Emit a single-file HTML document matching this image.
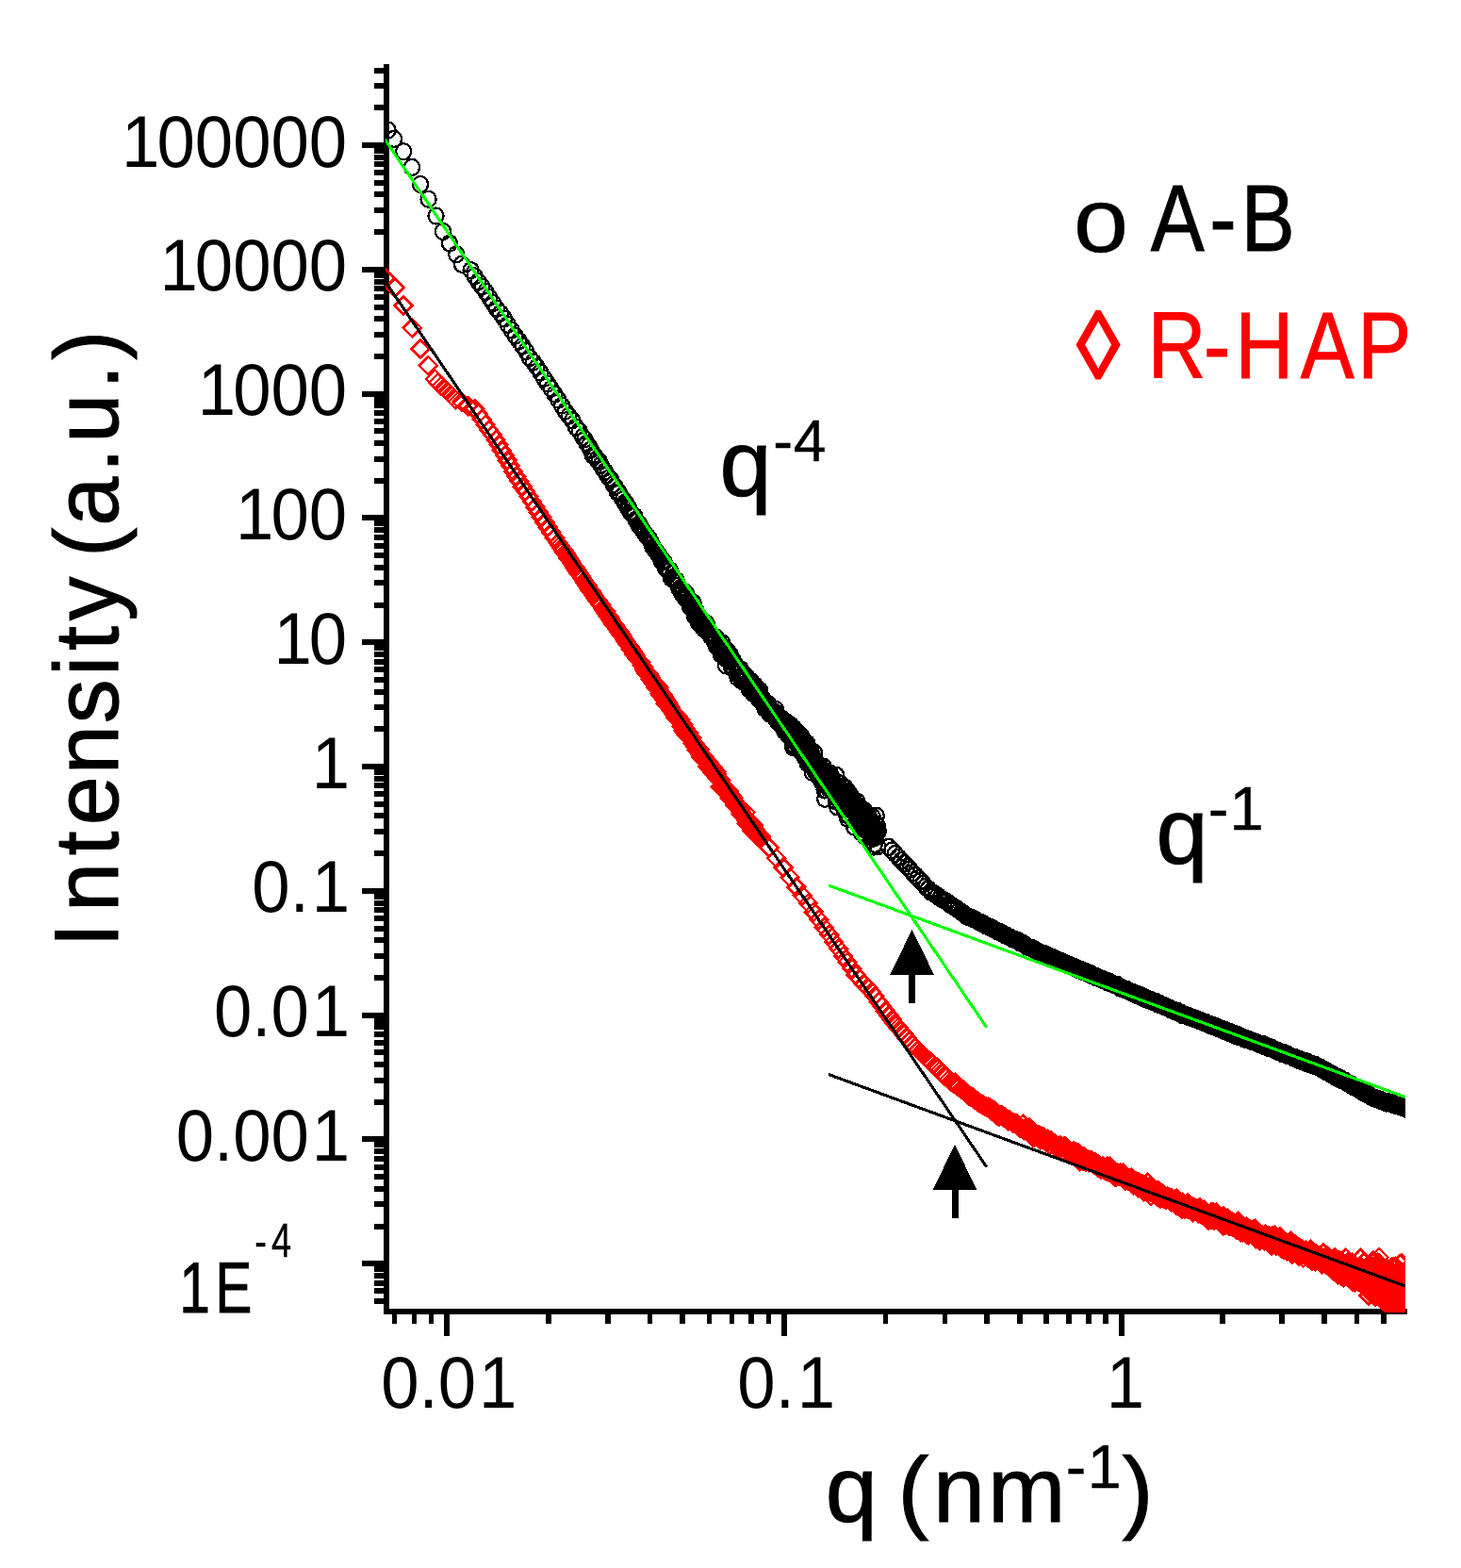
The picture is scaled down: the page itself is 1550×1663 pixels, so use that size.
<!DOCTYPE html>
<html><head><meta charset="utf-8"><title>SAXS plot</title>
<style>
html,body{margin:0;padding:0;background:#fff;}
body{width:1550px;height:1663px;overflow:hidden;}
svg{display:block;}
text{font-family:"Liberation Sans",sans-serif;}
</style></head><body>
<svg width="1550" height="1663" viewBox="0 0 1550 1663">
<rect width="1550" height="1663" fill="#fff"/>
<g fill="#000" shape-rendering="crispEdges"><rect x="407.0" y="68.0" width="6" height="1326.0"/><rect x="407.0" y="1388.0" width="1086.0" height="6"/><rect x="384" y="151" width="26" height="6"/><rect x="384" y="282.8" width="26" height="6"/><rect x="384" y="414.6" width="26" height="6"/><rect x="384" y="546.4" width="26" height="6"/><rect x="384" y="678.2" width="26" height="6"/><rect x="384" y="810" width="26" height="6"/><rect x="384" y="941.8" width="26" height="6"/><rect x="384" y="1073.6" width="26" height="6"/><rect x="384" y="1205.4" width="26" height="6"/><rect x="384" y="1337.2" width="26" height="6"/><rect x="397" y="111.3" width="13" height="6"/><rect x="397" y="88.1" width="13" height="6"/><rect x="397" y="71.6" width="13" height="6"/><rect x="397" y="243.1" width="13" height="6"/><rect x="397" y="219.9" width="13" height="6"/><rect x="397" y="203.4" width="13" height="6"/><rect x="397" y="190.7" width="13" height="6"/><rect x="397" y="180.2" width="13" height="6"/><rect x="397" y="171.4" width="13" height="6"/><rect x="397" y="163.8" width="13" height="6"/><rect x="397" y="157" width="13" height="6"/><rect x="397" y="374.9" width="13" height="6"/><rect x="397" y="351.7" width="13" height="6"/><rect x="397" y="335.2" width="13" height="6"/><rect x="397" y="322.5" width="13" height="6"/><rect x="397" y="312" width="13" height="6"/><rect x="397" y="303.2" width="13" height="6"/><rect x="397" y="295.6" width="13" height="6"/><rect x="397" y="288.8" width="13" height="6"/><rect x="397" y="506.7" width="13" height="6"/><rect x="397" y="483.5" width="13" height="6"/><rect x="397" y="467" width="13" height="6"/><rect x="397" y="454.3" width="13" height="6"/><rect x="397" y="443.8" width="13" height="6"/><rect x="397" y="435" width="13" height="6"/><rect x="397" y="427.4" width="13" height="6"/><rect x="397" y="420.6" width="13" height="6"/><rect x="397" y="638.5" width="13" height="6"/><rect x="397" y="615.3" width="13" height="6"/><rect x="397" y="598.8" width="13" height="6"/><rect x="397" y="586.1" width="13" height="6"/><rect x="397" y="575.6" width="13" height="6"/><rect x="397" y="566.8" width="13" height="6"/><rect x="397" y="559.2" width="13" height="6"/><rect x="397" y="552.4" width="13" height="6"/><rect x="397" y="770.3" width="13" height="6"/><rect x="397" y="747.1" width="13" height="6"/><rect x="397" y="730.6" width="13" height="6"/><rect x="397" y="717.9" width="13" height="6"/><rect x="397" y="707.4" width="13" height="6"/><rect x="397" y="698.6" width="13" height="6"/><rect x="397" y="691" width="13" height="6"/><rect x="397" y="684.2" width="13" height="6"/><rect x="397" y="902.1" width="13" height="6"/><rect x="397" y="878.9" width="13" height="6"/><rect x="397" y="862.4" width="13" height="6"/><rect x="397" y="849.7" width="13" height="6"/><rect x="397" y="839.2" width="13" height="6"/><rect x="397" y="830.4" width="13" height="6"/><rect x="397" y="822.8" width="13" height="6"/><rect x="397" y="816" width="13" height="6"/><rect x="397" y="1033.9" width="13" height="6"/><rect x="397" y="1010.7" width="13" height="6"/><rect x="397" y="994.2" width="13" height="6"/><rect x="397" y="981.5" width="13" height="6"/><rect x="397" y="971" width="13" height="6"/><rect x="397" y="962.2" width="13" height="6"/><rect x="397" y="954.6" width="13" height="6"/><rect x="397" y="947.8" width="13" height="6"/><rect x="397" y="1165.7" width="13" height="6"/><rect x="397" y="1142.5" width="13" height="6"/><rect x="397" y="1126" width="13" height="6"/><rect x="397" y="1113.3" width="13" height="6"/><rect x="397" y="1102.8" width="13" height="6"/><rect x="397" y="1094" width="13" height="6"/><rect x="397" y="1086.4" width="13" height="6"/><rect x="397" y="1079.6" width="13" height="6"/><rect x="397" y="1297.5" width="13" height="6"/><rect x="397" y="1274.3" width="13" height="6"/><rect x="397" y="1257.8" width="13" height="6"/><rect x="397" y="1245.1" width="13" height="6"/><rect x="397" y="1234.6" width="13" height="6"/><rect x="397" y="1225.8" width="13" height="6"/><rect x="397" y="1218.2" width="13" height="6"/><rect x="397" y="1211.4" width="13" height="6"/><rect x="397" y="1376.9" width="13" height="6"/><rect x="397" y="1366.4" width="13" height="6"/><rect x="397" y="1357.6" width="13" height="6"/><rect x="397" y="1350" width="13" height="6"/><rect x="397" y="1343.2" width="13" height="6"/><rect x="471" y="1391.0" width="6" height="25.7"/><rect x="828.8" y="1391.0" width="6" height="25.7"/><rect x="1186.5" y="1391.0" width="6" height="25.7"/><rect x="415.8" y="1391.0" width="5.6" height="12.8"/><rect x="436.5" y="1391.0" width="5.6" height="12.8"/><rect x="454.8" y="1391.0" width="5.6" height="12.8"/><rect x="578.9" y="1391.0" width="5.6" height="12.8"/><rect x="641.9" y="1391.0" width="5.6" height="12.8"/><rect x="686.6" y="1391.0" width="5.6" height="12.8"/><rect x="721.3" y="1391.0" width="5.6" height="12.8"/><rect x="749.6" y="1391.0" width="5.6" height="12.8"/><rect x="773.5" y="1391.0" width="5.6" height="12.8"/><rect x="794.3" y="1391.0" width="5.6" height="12.8"/><rect x="812.6" y="1391.0" width="5.6" height="12.8"/><rect x="936.6" y="1391.0" width="5.6" height="12.8"/><rect x="999.6" y="1391.0" width="5.6" height="12.8"/><rect x="1044.3" y="1391.0" width="5.6" height="12.8"/><rect x="1079" y="1391.0" width="5.6" height="12.8"/><rect x="1107.3" y="1391.0" width="5.6" height="12.8"/><rect x="1131.3" y="1391.0" width="5.6" height="12.8"/><rect x="1152" y="1391.0" width="5.6" height="12.8"/><rect x="1170.3" y="1391.0" width="5.6" height="12.8"/><rect x="1294.4" y="1391.0" width="5.6" height="12.8"/><rect x="1357.4" y="1391.0" width="5.6" height="12.8"/><rect x="1402.1" y="1391.0" width="5.6" height="12.8"/><rect x="1436.8" y="1391.0" width="5.6" height="12.8"/><rect x="1465.1" y="1391.0" width="5.6" height="12.8"/></g>
<clipPath id="cp"><rect x="408.9" y="60" width="1082.1" height="1332.0"/></clipPath>
<g clip-path="url(#cp)"><path d="M399.5 295l9.5 -9.5l9.5 9.5l-9.5 9.5zM409.6 305l9.5 -9.5l9.5 9.5l-9.5 9.5zM418.5 323.9l9.5 -9.5l9.5 9.5l-9.5 9.5zM427.7 348l9.5 -9.5l9.5 9.5l-9.5 9.5zM436.4 370l9.5 -9.5l9.5 9.5l-9.5 9.5zM444.7 388l9.5 -9.5l9.5 9.5l-9.5 9.5zM452 402.3l9.5 -9.5l9.5 9.5l-9.5 9.5zM455.1 405.9l9.5 -9.5l9.5 9.5l-9.5 9.5zM458.8 409.2l9.5 -9.5l9.5 9.5l-9.5 9.5zM462.6 412.9l9.5 -9.5l9.5 9.5l-9.5 9.5zM466.3 416.5l9.5 -9.5l9.5 9.5l-9.5 9.5zM470.1 420l9.5 -9.5l9.5 9.5l-9.5 9.5zM473.8 423.6l9.5 -9.5l9.5 9.5l-9.5 9.5zM480.1 426.3l9.5 -9.5l9.5 9.5l-9.5 9.5zM487 430.7l9.5 -9.5l9.5 9.5l-9.5 9.5zM494.2 433.9l9.5 -9.5l9.5 9.5l-9.5 9.5zM498 439.1l9.5 -9.5l9.5 9.5l-9.5 9.5zM501.7 444.7l9.5 -9.5l9.5 9.5l-9.5 9.5zM505.4 450.5l9.5 -9.5l9.5 9.5l-9.5 9.5zM509.1 456.1l9.5 -9.5l9.5 9.5l-9.5 9.5zM512.8 461.1l9.5 -9.5l9.5 9.5l-9.5 9.5zM516.4 466.7l9.5 -9.5l9.5 9.5l-9.5 9.5zM519.5 471.5l9.5 -9.5l9.5 9.5l-9.5 9.5zM522.7 477.7l9.5 -9.5l9.5 9.5l-9.5 9.5zM525.8 483l9.5 -9.5l9.5 9.5l-9.5 9.5zM528.9 488.4l9.5 -9.5l9.5 9.5l-9.5 9.5zM532 494.3l9.5 -9.5l9.5 9.5l-9.5 9.5zM535.1 500l9.5 -9.5l9.5 9.5l-9.5 9.5zM538.2 505.2l9.5 -9.5l9.5 9.5l-9.5 9.5zM541.4 510.1l9.5 -9.5l9.5 9.5l-9.5 9.5zM544.7 516.3l9.5 -9.5l9.5 9.5l-9.5 9.5zM548.1 521.2l9.5 -9.5l9.5 9.5l-9.5 9.5zM551.5 526.7l9.5 -9.5l9.5 9.5l-9.5 9.5zM554.9 532l9.5 -9.5l9.5 9.5l-9.5 9.5zM558.3 537.8l9.5 -9.5l9.5 9.5l-9.5 9.5zM561.7 543.3l9.5 -9.5l9.5 9.5l-9.5 9.5zM565.1 548.6l9.5 -9.5l9.5 9.5l-9.5 9.5zM568.5 554l9.5 -9.5l9.5 9.5l-9.5 9.5zM571.9 559.4l9.5 -9.5l9.5 9.5l-9.5 9.5zM575.3 564.8l9.5 -9.5l9.5 9.5l-9.5 9.5zM579 570.7l9.5 -9.5l9.5 9.5l-9.5 9.5zM582.7 575.7l9.5 -9.5l9.5 9.5l-9.5 9.5zM584.6 578.7l9.5 -9.5l9.5 9.5l-9.5 9.5zM586.4 581.3l9.5 -9.5l9.5 9.5l-9.5 9.5zM588.2 583.8l9.5 -9.5l9.5 9.5l-9.5 9.5zM590 586.6l9.5 -9.5l9.5 9.5l-9.5 9.5zM591.8 588.8l9.5 -9.5l9.5 9.5l-9.5 9.5zM593.6 592.1l9.5 -9.5l9.5 9.5l-9.5 9.5zM595.4 594.7l9.5 -9.5l9.5 9.5l-9.5 9.5zM597.2 597.1l9.5 -9.5l9.5 9.5l-9.5 9.5zM599 600.3l9.5 -9.5l9.5 9.5l-9.5 9.5zM600.8 602.3l9.5 -9.5l9.5 9.5l-9.5 9.5zM602.6 605.3l9.5 -9.5l9.5 9.5l-9.5 9.5zM604.4 608l9.5 -9.5l9.5 9.5l-9.5 9.5zM606.2 610.3l9.5 -9.5l9.5 9.5l-9.5 9.5zM608 613l9.5 -9.5l9.5 9.5l-9.5 9.5zM609.8 616l9.5 -9.5l9.5 9.5l-9.5 9.5zM611.6 618.4l9.5 -9.5l9.5 9.5l-9.5 9.5zM613.4 621.1l9.5 -9.5l9.5 9.5l-9.5 9.5zM615.2 624.1l9.5 -9.5l9.5 9.5l-9.5 9.5zM617 626.4l9.5 -9.5l9.5 9.5l-9.5 9.5zM618.8 628.5l9.5 -9.5l9.5 9.5l-9.5 9.5zM620.6 631.4l9.5 -9.5l9.5 9.5l-9.5 9.5zM622.5 634.5l9.5 -9.5l9.5 9.5l-9.5 9.5zM624.3 636.9l9.5 -9.5l9.5 9.5l-9.5 9.5zM626.2 639.2l9.5 -9.5l9.5 9.5l-9.5 9.5zM628 641.6l9.5 -9.5l9.5 9.5l-9.5 9.5zM629.8 645l9.5 -9.5l9.5 9.5l-9.5 9.5zM631.3 647.4l9.5 -9.5l9.5 9.5l-9.5 9.5zM632.1 647.8l9.5 -9.5l9.5 9.5l-9.5 9.5zM633 648.7l9.5 -9.5l9.5 9.5l-9.5 9.5zM633.9 650.8l9.5 -9.5l9.5 9.5l-9.5 9.5zM634.7 651.7l9.5 -9.5l9.5 9.5l-9.5 9.5zM635.6 653l9.5 -9.5l9.5 9.5l-9.5 9.5zM636.5 654.2l9.5 -9.5l9.5 9.5l-9.5 9.5zM637.3 655.3l9.5 -9.5l9.5 9.5l-9.5 9.5zM638.5 657.4l9.5 -9.5l9.5 9.5l-9.5 9.5zM640.2 660.1l9.5 -9.5l9.5 9.5l-9.5 9.5zM642 662.5l9.5 -9.5l9.5 9.5l-9.5 9.5zM643.8 664.7l9.5 -9.5l9.5 9.5l-9.5 9.5zM645.6 667.8l9.5 -9.5l9.5 9.5l-9.5 9.5zM647.4 670l9.5 -9.5l9.5 9.5l-9.5 9.5zM649.2 672.8l9.5 -9.5l9.5 9.5l-9.5 9.5zM651 674.9l9.5 -9.5l9.5 9.5l-9.5 9.5zM652.8 678l9.5 -9.5l9.5 9.5l-9.5 9.5zM654.5 680.6l9.5 -9.5l9.5 9.5l-9.5 9.5zM656.3 683.3l9.5 -9.5l9.5 9.5l-9.5 9.5zM658.1 685.4l9.5 -9.5l9.5 9.5l-9.5 9.5zM659.8 688.2l9.5 -9.5l9.5 9.5l-9.5 9.5zM661.5 690.3l9.5 -9.5l9.5 9.5l-9.5 9.5zM663.2 693.6l9.5 -9.5l9.5 9.5l-9.5 9.5zM665 696.2l9.5 -9.5l9.5 9.5l-9.5 9.5zM666.7 699l9.5 -9.5l9.5 9.5l-9.5 9.5zM668.4 700.5l9.5 -9.5l9.5 9.5l-9.5 9.5zM670.1 702.4l9.5 -9.5l9.5 9.5l-9.5 9.5zM671.7 705.7l9.5 -9.5l9.5 9.5l-9.5 9.5zM672.6 706.8l9.5 -9.5l9.5 9.5l-9.5 9.5zM673.4 707.7l9.5 -9.5l9.5 9.5l-9.5 9.5zM674.3 710.2l9.5 -9.5l9.5 9.5l-9.5 9.5zM675.2 711.8l9.5 -9.5l9.5 9.5l-9.5 9.5zM676 712.6l9.5 -9.5l9.5 9.5l-9.5 9.5zM676.9 714.6l9.5 -9.5l9.5 9.5l-9.5 9.5zM677.7 715.2l9.5 -9.5l9.5 9.5l-9.5 9.5zM678.6 715l9.5 -9.5l9.5 9.5l-9.5 9.5zM679.4 716.7l9.5 -9.5l9.5 9.5l-9.5 9.5zM680.3 718.2l9.5 -9.5l9.5 9.5l-9.5 9.5zM681.1 720.6l9.5 -9.5l9.5 9.5l-9.5 9.5zM681.9 722.1l9.5 -9.5l9.5 9.5l-9.5 9.5zM682.8 722.4l9.5 -9.5l9.5 9.5l-9.5 9.5zM683.6 724.7l9.5 -9.5l9.5 9.5l-9.5 9.5zM684.4 723.6l9.5 -9.5l9.5 9.5l-9.5 9.5zM685.2 725.7l9.5 -9.5l9.5 9.5l-9.5 9.5zM686 729.1l9.5 -9.5l9.5 9.5l-9.5 9.5zM686.8 728.9l9.5 -9.5l9.5 9.5l-9.5 9.5zM687.6 730.9l9.5 -9.5l9.5 9.5l-9.5 9.5zM688.4 728l9.5 -9.5l9.5 9.5l-9.5 9.5zM689.2 729.4l9.5 -9.5l9.5 9.5l-9.5 9.5zM689.9 731.7l9.5 -9.5l9.5 9.5l-9.5 9.5zM690.7 735.6l9.5 -9.5l9.5 9.5l-9.5 9.5zM691.5 737.7l9.5 -9.5l9.5 9.5l-9.5 9.5zM692.3 735.5l9.5 -9.5l9.5 9.5l-9.5 9.5zM693 736l9.5 -9.5l9.5 9.5l-9.5 9.5zM693.8 737.1l9.5 -9.5l9.5 9.5l-9.5 9.5zM694.5 738.4l9.5 -9.5l9.5 9.5l-9.5 9.5zM695.2 741.8l9.5 -9.5l9.5 9.5l-9.5 9.5zM696 741.5l9.5 -9.5l9.5 9.5l-9.5 9.5zM696.7 746.1l9.5 -9.5l9.5 9.5l-9.5 9.5zM697.4 745.4l9.5 -9.5l9.5 9.5l-9.5 9.5zM698.2 744.2l9.5 -9.5l9.5 9.5l-9.5 9.5zM698.9 746.8l9.5 -9.5l9.5 9.5l-9.5 9.5zM699.6 747.2l9.5 -9.5l9.5 9.5l-9.5 9.5zM700.3 749.8l9.5 -9.5l9.5 9.5l-9.5 9.5zM701 751.1l9.5 -9.5l9.5 9.5l-9.5 9.5zM701.7 750.1l9.5 -9.5l9.5 9.5l-9.5 9.5zM702.4 753.2l9.5 -9.5l9.5 9.5l-9.5 9.5zM703.1 753.7l9.5 -9.5l9.5 9.5l-9.5 9.5zM703.8 753.6l9.5 -9.5l9.5 9.5l-9.5 9.5zM704.4 755.2l9.5 -9.5l9.5 9.5l-9.5 9.5zM705.1 757l9.5 -9.5l9.5 9.5l-9.5 9.5zM705.8 756.3l9.5 -9.5l9.5 9.5l-9.5 9.5zM706.5 756.7l9.5 -9.5l9.5 9.5l-9.5 9.5zM707.1 761l9.5 -9.5l9.5 9.5l-9.5 9.5zM707.8 759.9l9.5 -9.5l9.5 9.5l-9.5 9.5zM708.4 759.8l9.5 -9.5l9.5 9.5l-9.5 9.5zM709.1 762.6l9.5 -9.5l9.5 9.5l-9.5 9.5zM709.7 760.3l9.5 -9.5l9.5 9.5l-9.5 9.5zM710.4 763.9l9.5 -9.5l9.5 9.5l-9.5 9.5zM711 762.4l9.5 -9.5l9.5 9.5l-9.5 9.5zM711.7 765l9.5 -9.5l9.5 9.5l-9.5 9.5zM712.3 763.6l9.5 -9.5l9.5 9.5l-9.5 9.5zM713 766.5l9.5 -9.5l9.5 9.5l-9.5 9.5zM713.6 770.3l9.5 -9.5l9.5 9.5l-9.5 9.5zM714.3 769.4l9.5 -9.5l9.5 9.5l-9.5 9.5zM714.9 768.5l9.5 -9.5l9.5 9.5l-9.5 9.5zM715.6 774.7l9.5 -9.5l9.5 9.5l-9.5 9.5zM716.2 771.4l9.5 -9.5l9.5 9.5l-9.5 9.5zM716.8 776.2l9.5 -9.5l9.5 9.5l-9.5 9.5zM717.5 773.5l9.5 -9.5l9.5 9.5l-9.5 9.5zM718.1 772.8l9.5 -9.5l9.5 9.5l-9.5 9.5zM718.7 779.8l9.5 -9.5l9.5 9.5l-9.5 9.5zM719.3 776.6l9.5 -9.5l9.5 9.5l-9.5 9.5zM720 779.7l9.5 -9.5l9.5 9.5l-9.5 9.5zM720.6 781.5l9.5 -9.5l9.5 9.5l-9.5 9.5zM721.2 777.8l9.5 -9.5l9.5 9.5l-9.5 9.5zM721.8 781.3l9.5 -9.5l9.5 9.5l-9.5 9.5zM722.5 781l9.5 -9.5l9.5 9.5l-9.5 9.5zM723.1 784.2l9.5 -9.5l9.5 9.5l-9.5 9.5zM723.7 783.9l9.5 -9.5l9.5 9.5l-9.5 9.5zM724.3 782.5l9.5 -9.5l9.5 9.5l-9.5 9.5zM724.9 785.9l9.5 -9.5l9.5 9.5l-9.5 9.5zM725.6 788.2l9.5 -9.5l9.5 9.5l-9.5 9.5zM726.2 787.1l9.5 -9.5l9.5 9.5l-9.5 9.5zM726.8 789.7l9.5 -9.5l9.5 9.5l-9.5 9.5zM727.4 788.5l9.5 -9.5l9.5 9.5l-9.5 9.5zM728 790.3l9.5 -9.5l9.5 9.5l-9.5 9.5zM728.6 792l9.5 -9.5l9.5 9.5l-9.5 9.5zM729.2 792.5l9.5 -9.5l9.5 9.5l-9.5 9.5zM729.8 795.6l9.5 -9.5l9.5 9.5l-9.5 9.5zM730.4 795.9l9.5 -9.5l9.5 9.5l-9.5 9.5zM731 796.6l9.5 -9.5l9.5 9.5l-9.5 9.5zM731.6 797.3l9.5 -9.5l9.5 9.5l-9.5 9.5zM732.2 797.1l9.5 -9.5l9.5 9.5l-9.5 9.5zM732.9 795.4l9.5 -9.5l9.5 9.5l-9.5 9.5zM733.5 800.7l9.5 -9.5l9.5 9.5l-9.5 9.5zM734.1 802.9l9.5 -9.5l9.5 9.5l-9.5 9.5zM734.7 800.8l9.5 -9.5l9.5 9.5l-9.5 9.5zM735.3 800.8l9.5 -9.5l9.5 9.5l-9.5 9.5zM735.9 802.1l9.5 -9.5l9.5 9.5l-9.5 9.5zM736.5 805.4l9.5 -9.5l9.5 9.5l-9.5 9.5zM737.1 804.5l9.5 -9.5l9.5 9.5l-9.5 9.5zM737.7 802.9l9.5 -9.5l9.5 9.5l-9.5 9.5zM738.3 805.3l9.5 -9.5l9.5 9.5l-9.5 9.5zM738.9 805l9.5 -9.5l9.5 9.5l-9.5 9.5zM739.5 807l9.5 -9.5l9.5 9.5l-9.5 9.5zM740.1 806.5l9.5 -9.5l9.5 9.5l-9.5 9.5zM740.7 807.5l9.5 -9.5l9.5 9.5l-9.5 9.5zM741.3 812.9l9.5 -9.5l9.5 9.5l-9.5 9.5zM741.9 812.9l9.5 -9.5l9.5 9.5l-9.5 9.5zM742.5 808.6l9.5 -9.5l9.5 9.5l-9.5 9.5zM743.1 810.7l9.5 -9.5l9.5 9.5l-9.5 9.5zM743.7 812.6l9.5 -9.5l9.5 9.5l-9.5 9.5zM744.3 813.6l9.5 -9.5l9.5 9.5l-9.5 9.5zM744.9 812.5l9.5 -9.5l9.5 9.5l-9.5 9.5zM745.5 817.8l9.5 -9.5l9.5 9.5l-9.5 9.5zM746.1 813.7l9.5 -9.5l9.5 9.5l-9.5 9.5zM746.6 819.1l9.5 -9.5l9.5 9.5l-9.5 9.5zM747.2 819.9l9.5 -9.5l9.5 9.5l-9.5 9.5zM747.8 818.7l9.5 -9.5l9.5 9.5l-9.5 9.5zM748.4 819l9.5 -9.5l9.5 9.5l-9.5 9.5zM748.9 821.2l9.5 -9.5l9.5 9.5l-9.5 9.5zM749.5 822.2l9.5 -9.5l9.5 9.5l-9.5 9.5zM750.1 818.7l9.5 -9.5l9.5 9.5l-9.5 9.5zM750.7 821.2l9.5 -9.5l9.5 9.5l-9.5 9.5zM751.2 825.5l9.5 -9.5l9.5 9.5l-9.5 9.5zM751.8 825.1l9.5 -9.5l9.5 9.5l-9.5 9.5zM752.4 825.3l9.5 -9.5l9.5 9.5l-9.5 9.5zM752.9 825l9.5 -9.5l9.5 9.5l-9.5 9.5zM753.5 826.4l9.5 -9.5l9.5 9.5l-9.5 9.5zM754.1 827.1l9.5 -9.5l9.5 9.5l-9.5 9.5zM754.6 834.8l9.5 -9.5l9.5 9.5l-9.5 9.5zM755.2 827.8l9.5 -9.5l9.5 9.5l-9.5 9.5zM755.8 834l9.5 -9.5l9.5 9.5l-9.5 9.5zM756.3 832.8l9.5 -9.5l9.5 9.5l-9.5 9.5zM756.9 833.1l9.5 -9.5l9.5 9.5l-9.5 9.5zM757.4 833.8l9.5 -9.5l9.5 9.5l-9.5 9.5zM758 833.5l9.5 -9.5l9.5 9.5l-9.5 9.5zM758.5 838.2l9.5 -9.5l9.5 9.5l-9.5 9.5zM759.1 836.9l9.5 -9.5l9.5 9.5l-9.5 9.5zM759.6 836.6l9.5 -9.5l9.5 9.5l-9.5 9.5zM760.2 837.2l9.5 -9.5l9.5 9.5l-9.5 9.5zM760.7 838.6l9.5 -9.5l9.5 9.5l-9.5 9.5zM761.3 836.8l9.5 -9.5l9.5 9.5l-9.5 9.5zM761.8 839.2l9.5 -9.5l9.5 9.5l-9.5 9.5zM762.4 839.4l9.5 -9.5l9.5 9.5l-9.5 9.5zM762.9 842.6l9.5 -9.5l9.5 9.5l-9.5 9.5zM763.4 843.4l9.5 -9.5l9.5 9.5l-9.5 9.5zM764 839.3l9.5 -9.5l9.5 9.5l-9.5 9.5zM764.5 843.3l9.5 -9.5l9.5 9.5l-9.5 9.5zM765 846.5l9.5 -9.5l9.5 9.5l-9.5 9.5zM765.6 842.8l9.5 -9.5l9.5 9.5l-9.5 9.5zM766.1 843.8l9.5 -9.5l9.5 9.5l-9.5 9.5zM766.6 848.8l9.5 -9.5l9.5 9.5l-9.5 9.5zM767.2 847.4l9.5 -9.5l9.5 9.5l-9.5 9.5zM767.7 847.5l9.5 -9.5l9.5 9.5l-9.5 9.5zM768.2 846.8l9.5 -9.5l9.5 9.5l-9.5 9.5zM768.8 850.3l9.5 -9.5l9.5 9.5l-9.5 9.5zM769.3 849.6l9.5 -9.5l9.5 9.5l-9.5 9.5zM769.8 851.9l9.5 -9.5l9.5 9.5l-9.5 9.5zM770.3 853.1l9.5 -9.5l9.5 9.5l-9.5 9.5zM770.8 854.4l9.5 -9.5l9.5 9.5l-9.5 9.5zM771.4 853.1l9.5 -9.5l9.5 9.5l-9.5 9.5zM771.9 853.5l9.5 -9.5l9.5 9.5l-9.5 9.5zM772.4 855.3l9.5 -9.5l9.5 9.5l-9.5 9.5zM772.9 855.8l9.5 -9.5l9.5 9.5l-9.5 9.5zM773.4 857.1l9.5 -9.5l9.5 9.5l-9.5 9.5zM773.9 856.5l9.5 -9.5l9.5 9.5l-9.5 9.5zM774.5 857.8l9.5 -9.5l9.5 9.5l-9.5 9.5zM775 857.8l9.5 -9.5l9.5 9.5l-9.5 9.5zM775.5 858.6l9.5 -9.5l9.5 9.5l-9.5 9.5zM776 860.8l9.5 -9.5l9.5 9.5l-9.5 9.5zM776.6 863.4l9.5 -9.5l9.5 9.5l-9.5 9.5zM777.1 860.9l9.5 -9.5l9.5 9.5l-9.5 9.5zM777.7 863.8l9.5 -9.5l9.5 9.5l-9.5 9.5zM778.2 864.1l9.5 -9.5l9.5 9.5l-9.5 9.5zM778.7 864.3l9.5 -9.5l9.5 9.5l-9.5 9.5zM779.3 866.1l9.5 -9.5l9.5 9.5l-9.5 9.5zM779.8 864.5l9.5 -9.5l9.5 9.5l-9.5 9.5zM780.4 867.3l9.5 -9.5l9.5 9.5l-9.5 9.5zM780.9 867.6l9.5 -9.5l9.5 9.5l-9.5 9.5zM781.4 861.4l9.5 -9.5l9.5 9.5l-9.5 9.5zM782 869.1l9.5 -9.5l9.5 9.5l-9.5 9.5zM782.5 870.3l9.5 -9.5l9.5 9.5l-9.5 9.5zM783 873.4l9.5 -9.5l9.5 9.5l-9.5 9.5zM783.6 868.7l9.5 -9.5l9.5 9.5l-9.5 9.5zM784.1 871.5l9.5 -9.5l9.5 9.5l-9.5 9.5zM784.6 872.6l9.5 -9.5l9.5 9.5l-9.5 9.5zM785.2 871l9.5 -9.5l9.5 9.5l-9.5 9.5zM785.7 875.5l9.5 -9.5l9.5 9.5l-9.5 9.5zM786.2 874.9l9.5 -9.5l9.5 9.5l-9.5 9.5zM786.7 873.5l9.5 -9.5l9.5 9.5l-9.5 9.5zM787.3 873.5l9.5 -9.5l9.5 9.5l-9.5 9.5zM787.8 875.5l9.5 -9.5l9.5 9.5l-9.5 9.5zM788.3 880.9l9.5 -9.5l9.5 9.5l-9.5 9.5zM788.8 881.2l9.5 -9.5l9.5 9.5l-9.5 9.5zM789.3 874.2l9.5 -9.5l9.5 9.5l-9.5 9.5zM789.9 876l9.5 -9.5l9.5 9.5l-9.5 9.5zM790.4 880.8l9.5 -9.5l9.5 9.5l-9.5 9.5zM790.9 880.2l9.5 -9.5l9.5 9.5l-9.5 9.5zM791.4 880.1l9.5 -9.5l9.5 9.5l-9.5 9.5zM791.9 882.7l9.5 -9.5l9.5 9.5l-9.5 9.5zM792.4 882.6l9.5 -9.5l9.5 9.5l-9.5 9.5zM792.9 883.6l9.5 -9.5l9.5 9.5l-9.5 9.5zM793.4 884.2l9.5 -9.5l9.5 9.5l-9.5 9.5zM793.9 882.8l9.5 -9.5l9.5 9.5l-9.5 9.5zM794.4 887.2l9.5 -9.5l9.5 9.5l-9.5 9.5zM794.9 885.1l9.5 -9.5l9.5 9.5l-9.5 9.5zM795.4 888.2l9.5 -9.5l9.5 9.5l-9.5 9.5zM795.9 888.2l9.5 -9.5l9.5 9.5l-9.5 9.5zM796.4 887.9l9.5 -9.5l9.5 9.5l-9.5 9.5zM796.9 888.7l9.5 -9.5l9.5 9.5l-9.5 9.5zM797.4 889.1l9.5 -9.5l9.5 9.5l-9.5 9.5zM797.9 887.1l9.5 -9.5l9.5 9.5l-9.5 9.5zM806.5 898.9l9.5 -9.5l9.5 9.5l-9.5 9.5zM814.2 910.2l9.5 -9.5l9.5 9.5l-9.5 9.5zM821.5 920.2l9.5 -9.5l9.5 9.5l-9.5 9.5zM828.5 930.3l9.5 -9.5l9.5 9.5l-9.5 9.5zM835.2 940.7l9.5 -9.5l9.5 9.5l-9.5 9.5zM841.6 949.9l9.5 -9.5l9.5 9.5l-9.5 9.5zM847.8 958l9.5 -9.5l9.5 9.5l-9.5 9.5zM853.7 967.1l9.5 -9.5l9.5 9.5l-9.5 9.5zM859.4 975.2l9.5 -9.5l9.5 9.5l-9.5 9.5zM864.8 983.7l9.5 -9.5l9.5 9.5l-9.5 9.5zM870.1 991.3l9.5 -9.5l9.5 9.5l-9.5 9.5zM875.2 999l9.5 -9.5l9.5 9.5l-9.5 9.5zM880.2 1006.3l9.5 -9.5l9.5 9.5l-9.5 9.5zM885 1013.8l9.5 -9.5l9.5 9.5l-9.5 9.5zM889.6 1020.7l9.5 -9.5l9.5 9.5l-9.5 9.5zM894.1 1027.4l9.5 -9.5l9.5 9.5l-9.5 9.5zM898.5 1034.1l9.5 -9.5l9.5 9.5l-9.5 9.5zM902.8 1038.7l9.5 -9.5l9.5 9.5l-9.5 9.5zM906.9 1043.7l9.5 -9.5l9.5 9.5l-9.5 9.5zM911 1047.7l9.5 -9.5l9.5 9.5l-9.5 9.5zM914.9 1052l9.5 -9.5l9.5 9.5l-9.5 9.5zM918.7 1056.6l9.5 -9.5l9.5 9.5l-9.5 9.5zM922.5 1062.4l9.5 -9.5l9.5 9.5l-9.5 9.5zM926.1 1066.9l9.5 -9.5l9.5 9.5l-9.5 9.5zM929.7 1072.1l9.5 -9.5l9.5 9.5l-9.5 9.5zM933.2 1076.9l9.5 -9.5l9.5 9.5l-9.5 9.5zM936.6 1081.2l9.5 -9.5l9.5 9.5l-9.5 9.5zM939.9 1085.8l9.5 -9.5l9.5 9.5l-9.5 9.5zM943.2 1089.8l9.5 -9.5l9.5 9.5l-9.5 9.5zM946.4 1093.5l9.5 -9.5l9.5 9.5l-9.5 9.5zM949.5 1097.2l9.5 -9.5l9.5 9.5l-9.5 9.5zM952.6 1101.2l9.5 -9.5l9.5 9.5l-9.5 9.5zM955.6 1104.5l9.5 -9.5l9.5 9.5l-9.5 9.5zM958.5 1107.9l9.5 -9.5l9.5 9.5l-9.5 9.5zM961.4 1110.6l9.5 -9.5l9.5 9.5l-9.5 9.5zM964.3 1113.6l9.5 -9.5l9.5 9.5l-9.5 9.5zM967.1 1116.2l9.5 -9.5l9.5 9.5l-9.5 9.5zM969.8 1118.5l9.5 -9.5l9.5 9.5l-9.5 9.5zM972.5 1121.6l9.5 -9.5l9.5 9.5l-9.5 9.5zM975.1 1124.3l9.5 -9.5l9.5 9.5l-9.5 9.5zM977.7 1126.3l9.5 -9.5l9.5 9.5l-9.5 9.5zM980.3 1128.4l9.5 -9.5l9.5 9.5l-9.5 9.5zM982.8 1131.3l9.5 -9.5l9.5 9.5l-9.5 9.5zM985.3 1132.4l9.5 -9.5l9.5 9.5l-9.5 9.5zM987.7 1135.5l9.5 -9.5l9.5 9.5l-9.5 9.5zM990.1 1138.3l9.5 -9.5l9.5 9.5l-9.5 9.5zM992.5 1141.2l9.5 -9.5l9.5 9.5l-9.5 9.5zM994.8 1142.1l9.5 -9.5l9.5 9.5l-9.5 9.5zM997.1 1145.1l9.5 -9.5l9.5 9.5l-9.5 9.5zM999.4 1147.3l9.5 -9.5l9.5 9.5l-9.5 9.5zM1001.6 1148.9l9.5 -9.5l9.5 9.5l-9.5 9.5zM1003.8 1148.1l9.5 -9.5l9.5 9.5l-9.5 9.5zM1006 1151.8l9.5 -9.5l9.5 9.5l-9.5 9.5zM1008.1 1153l9.5 -9.5l9.5 9.5l-9.5 9.5zM1010.2 1155.1l9.5 -9.5l9.5 9.5l-9.5 9.5zM1012.3 1155.9l9.5 -9.5l9.5 9.5l-9.5 9.5zM1014.3 1157.2l9.5 -9.5l9.5 9.5l-9.5 9.5zM1016.3 1159l9.5 -9.5l9.5 9.5l-9.5 9.5zM1018.3 1161.8l9.5 -9.5l9.5 9.5l-9.5 9.5zM1020.3 1162.9l9.5 -9.5l9.5 9.5l-9.5 9.5zM1022.3 1163.5l9.5 -9.5l9.5 9.5l-9.5 9.5zM1024.2 1165.6l9.5 -9.5l9.5 9.5l-9.5 9.5zM1026.1 1167.4l9.5 -9.5l9.5 9.5l-9.5 9.5zM1027.9 1168.6l9.5 -9.5l9.5 9.5l-9.5 9.5zM1029.8 1169.6l9.5 -9.5l9.5 9.5l-9.5 9.5zM1031.6 1170.4l9.5 -9.5l9.5 9.5l-9.5 9.5zM1033.4 1171.8l9.5 -9.5l9.5 9.5l-9.5 9.5zM1035.2 1173.2l9.5 -9.5l9.5 9.5l-9.5 9.5zM1037 1174.1l9.5 -9.5l9.5 9.5l-9.5 9.5zM1038.7 1174.1l9.5 -9.5l9.5 9.5l-9.5 9.5zM1040.5 1175.2l9.5 -9.5l9.5 9.5l-9.5 9.5zM1042.2 1178.5l9.5 -9.5l9.5 9.5l-9.5 9.5zM1043.9 1177.5l9.5 -9.5l9.5 9.5l-9.5 9.5zM1045.5 1178.2l9.5 -9.5l9.5 9.5l-9.5 9.5zM1047.2 1180.5l9.5 -9.5l9.5 9.5l-9.5 9.5zM1048.8 1183.2l9.5 -9.5l9.5 9.5l-9.5 9.5zM1050.5 1183.9l9.5 -9.5l9.5 9.5l-9.5 9.5zM1052.1 1182.9l9.5 -9.5l9.5 9.5l-9.5 9.5zM1053.6 1183.1l9.5 -9.5l9.5 9.5l-9.5 9.5zM1055.2 1184.6l9.5 -9.5l9.5 9.5l-9.5 9.5zM1056.8 1185.1l9.5 -9.5l9.5 9.5l-9.5 9.5zM1058.3 1186.4l9.5 -9.5l9.5 9.5l-9.5 9.5zM1059.8 1188.6l9.5 -9.5l9.5 9.5l-9.5 9.5zM1061.3 1187.5l9.5 -9.5l9.5 9.5l-9.5 9.5zM1062.8 1188.7l9.5 -9.5l9.5 9.5l-9.5 9.5zM1064.3 1190.3l9.5 -9.5l9.5 9.5l-9.5 9.5zM1065.8 1191.4l9.5 -9.5l9.5 9.5l-9.5 9.5zM1067.2 1191.2l9.5 -9.5l9.5 9.5l-9.5 9.5zM1068.7 1192l9.5 -9.5l9.5 9.5l-9.5 9.5zM1070.1 1192.4l9.5 -9.5l9.5 9.5l-9.5 9.5zM1071.5 1193.7l9.5 -9.5l9.5 9.5l-9.5 9.5zM1072.9 1196.4l9.5 -9.5l9.5 9.5l-9.5 9.5zM1074.3 1196l9.5 -9.5l9.5 9.5l-9.5 9.5zM1075.7 1192.3l9.5 -9.5l9.5 9.5l-9.5 9.5zM1077 1198.6l9.5 -9.5l9.5 9.5l-9.5 9.5zM1078.4 1198.2l9.5 -9.5l9.5 9.5l-9.5 9.5zM1079.7 1197.7l9.5 -9.5l9.5 9.5l-9.5 9.5zM1081 1199.3l9.5 -9.5l9.5 9.5l-9.5 9.5zM1082.4 1195.6l9.5 -9.5l9.5 9.5l-9.5 9.5zM1083.7 1198.4l9.5 -9.5l9.5 9.5l-9.5 9.5zM1085 1203.5l9.5 -9.5l9.5 9.5l-9.5 9.5zM1086.2 1205.7l9.5 -9.5l9.5 9.5l-9.5 9.5zM1087.5 1206.4l9.5 -9.5l9.5 9.5l-9.5 9.5zM1088.8 1202.3l9.5 -9.5l9.5 9.5l-9.5 9.5zM1090 1204.2l9.5 -9.5l9.5 9.5l-9.5 9.5zM1091.3 1206l9.5 -9.5l9.5 9.5l-9.5 9.5zM1092.5 1203.3l9.5 -9.5l9.5 9.5l-9.5 9.5zM1093.7 1208.8l9.5 -9.5l9.5 9.5l-9.5 9.5zM1094.9 1205.4l9.5 -9.5l9.5 9.5l-9.5 9.5zM1096.1 1207.7l9.5 -9.5l9.5 9.5l-9.5 9.5zM1097.3 1205.8l9.5 -9.5l9.5 9.5l-9.5 9.5zM1098.5 1209l9.5 -9.5l9.5 9.5l-9.5 9.5zM1099.7 1208.9l9.5 -9.5l9.5 9.5l-9.5 9.5zM1100.9 1211.4l9.5 -9.5l9.5 9.5l-9.5 9.5zM1102 1208.1l9.5 -9.5l9.5 9.5l-9.5 9.5zM1103.2 1210.6l9.5 -9.5l9.5 9.5l-9.5 9.5zM1104.3 1214.4l9.5 -9.5l9.5 9.5l-9.5 9.5zM1105.4 1209.7l9.5 -9.5l9.5 9.5l-9.5 9.5zM1106.6 1212.9l9.5 -9.5l9.5 9.5l-9.5 9.5zM1107.7 1213.7l9.5 -9.5l9.5 9.5l-9.5 9.5zM1108.8 1212.6l9.5 -9.5l9.5 9.5l-9.5 9.5zM1109.9 1213.5l9.5 -9.5l9.5 9.5l-9.5 9.5zM1111 1217.1l9.5 -9.5l9.5 9.5l-9.5 9.5zM1112.1 1217.1l9.5 -9.5l9.5 9.5l-9.5 9.5zM1113.1 1216.6l9.5 -9.5l9.5 9.5l-9.5 9.5zM1114.2 1216.6l9.5 -9.5l9.5 9.5l-9.5 9.5zM1115.3 1214.6l9.5 -9.5l9.5 9.5l-9.5 9.5zM1116.3 1217.3l9.5 -9.5l9.5 9.5l-9.5 9.5zM1117.4 1220.9l9.5 -9.5l9.5 9.5l-9.5 9.5zM1118.4 1220.1l9.5 -9.5l9.5 9.5l-9.5 9.5zM1119.5 1216.2l9.5 -9.5l9.5 9.5l-9.5 9.5zM1120.5 1215.4l9.5 -9.5l9.5 9.5l-9.5 9.5zM1121.5 1218.4l9.5 -9.5l9.5 9.5l-9.5 9.5zM1122.5 1220.5l9.5 -9.5l9.5 9.5l-9.5 9.5zM1123.5 1219.6l9.5 -9.5l9.5 9.5l-9.5 9.5zM1124.5 1220.6l9.5 -9.5l9.5 9.5l-9.5 9.5zM1125.5 1222.2l9.5 -9.5l9.5 9.5l-9.5 9.5zM1126.5 1223.8l9.5 -9.5l9.5 9.5l-9.5 9.5zM1127.5 1223l9.5 -9.5l9.5 9.5l-9.5 9.5zM1128.5 1225.4l9.5 -9.5l9.5 9.5l-9.5 9.5zM1129.4 1220.9l9.5 -9.5l9.5 9.5l-9.5 9.5zM1130.4 1224.9l9.5 -9.5l9.5 9.5l-9.5 9.5zM1131.4 1225.3l9.5 -9.5l9.5 9.5l-9.5 9.5zM1132.3 1222.1l9.5 -9.5l9.5 9.5l-9.5 9.5zM1133.3 1227.7l9.5 -9.5l9.5 9.5l-9.5 9.5zM1134.2 1222.8l9.5 -9.5l9.5 9.5l-9.5 9.5zM1135.1 1223.6l9.5 -9.5l9.5 9.5l-9.5 9.5zM1136.1 1231.8l9.5 -9.5l9.5 9.5l-9.5 9.5zM1137 1229.6l9.5 -9.5l9.5 9.5l-9.5 9.5zM1137.9 1228.4l9.5 -9.5l9.5 9.5l-9.5 9.5zM1138.8 1230.7l9.5 -9.5l9.5 9.5l-9.5 9.5zM1139.7 1230.7l9.5 -9.5l9.5 9.5l-9.5 9.5zM1140.6 1226.8l9.5 -9.5l9.5 9.5l-9.5 9.5zM1141.5 1230.3l9.5 -9.5l9.5 9.5l-9.5 9.5zM1142.4 1232.5l9.5 -9.5l9.5 9.5l-9.5 9.5zM1143.3 1229.9l9.5 -9.5l9.5 9.5l-9.5 9.5zM1144.2 1230.8l9.5 -9.5l9.5 9.5l-9.5 9.5zM1145.1 1230.2l9.5 -9.5l9.5 9.5l-9.5 9.5zM1145.9 1232.9l9.5 -9.5l9.5 9.5l-9.5 9.5zM1146.8 1230.8l9.5 -9.5l9.5 9.5l-9.5 9.5zM1147.7 1231.2l9.5 -9.5l9.5 9.5l-9.5 9.5zM1148.5 1230.4l9.5 -9.5l9.5 9.5l-9.5 9.5zM1149.4 1231.3l9.5 -9.5l9.5 9.5l-9.5 9.5zM1150.2 1233.9l9.5 -9.5l9.5 9.5l-9.5 9.5zM1151.1 1234.8l9.5 -9.5l9.5 9.5l-9.5 9.5zM1151.9 1233.6l9.5 -9.5l9.5 9.5l-9.5 9.5zM1152.7 1232.7l9.5 -9.5l9.5 9.5l-9.5 9.5zM1153.6 1235.7l9.5 -9.5l9.5 9.5l-9.5 9.5zM1154.4 1236.2l9.5 -9.5l9.5 9.5l-9.5 9.5zM1155.2 1238.3l9.5 -9.5l9.5 9.5l-9.5 9.5zM1156 1235.3l9.5 -9.5l9.5 9.5l-9.5 9.5zM1156.8 1235.8l9.5 -9.5l9.5 9.5l-9.5 9.5zM1157.6 1238l9.5 -9.5l9.5 9.5l-9.5 9.5zM1158.5 1240.3l9.5 -9.5l9.5 9.5l-9.5 9.5zM1159.3 1237.7l9.5 -9.5l9.5 9.5l-9.5 9.5zM1160 1238l9.5 -9.5l9.5 9.5l-9.5 9.5zM1160.8 1236.7l9.5 -9.5l9.5 9.5l-9.5 9.5zM1161.6 1238.2l9.5 -9.5l9.5 9.5l-9.5 9.5zM1162.4 1241.1l9.5 -9.5l9.5 9.5l-9.5 9.5zM1163.2 1241.3l9.5 -9.5l9.5 9.5l-9.5 9.5zM1164 1242.1l9.5 -9.5l9.5 9.5l-9.5 9.5zM1164.7 1237.2l9.5 -9.5l9.5 9.5l-9.5 9.5zM1165.5 1242.3l9.5 -9.5l9.5 9.5l-9.5 9.5zM1166.3 1239.3l9.5 -9.5l9.5 9.5l-9.5 9.5zM1167 1242.6l9.5 -9.5l9.5 9.5l-9.5 9.5zM1167.8 1237.2l9.5 -9.5l9.5 9.5l-9.5 9.5zM1168.5 1242l9.5 -9.5l9.5 9.5l-9.5 9.5zM1169.3 1240.8l9.5 -9.5l9.5 9.5l-9.5 9.5zM1170 1245.3l9.5 -9.5l9.5 9.5l-9.5 9.5zM1170.8 1243.4l9.5 -9.5l9.5 9.5l-9.5 9.5zM1171.5 1246.1l9.5 -9.5l9.5 9.5l-9.5 9.5zM1172.3 1243l9.5 -9.5l9.5 9.5l-9.5 9.5zM1173 1248.1l9.5 -9.5l9.5 9.5l-9.5 9.5zM1173.7 1243.7l9.5 -9.5l9.5 9.5l-9.5 9.5zM1174.4 1248.6l9.5 -9.5l9.5 9.5l-9.5 9.5zM1175.2 1244.3l9.5 -9.5l9.5 9.5l-9.5 9.5zM1175.9 1243.7l9.5 -9.5l9.5 9.5l-9.5 9.5zM1176.6 1247.7l9.5 -9.5l9.5 9.5l-9.5 9.5zM1177.3 1245.5l9.5 -9.5l9.5 9.5l-9.5 9.5zM1178 1246.5l9.5 -9.5l9.5 9.5l-9.5 9.5zM1178.7 1244.3l9.5 -9.5l9.5 9.5l-9.5 9.5zM1179.4 1246.6l9.5 -9.5l9.5 9.5l-9.5 9.5zM1180.1 1247.8l9.5 -9.5l9.5 9.5l-9.5 9.5zM1180.8 1246.6l9.5 -9.5l9.5 9.5l-9.5 9.5zM1181.5 1249l9.5 -9.5l9.5 9.5l-9.5 9.5zM1182.2 1244.1l9.5 -9.5l9.5 9.5l-9.5 9.5zM1182.9 1250.7l9.5 -9.5l9.5 9.5l-9.5 9.5zM1183.6 1248.4l9.5 -9.5l9.5 9.5l-9.5 9.5zM1184.2 1252.4l9.5 -9.5l9.5 9.5l-9.5 9.5zM1184.9 1249.2l9.5 -9.5l9.5 9.5l-9.5 9.5zM1185.6 1248.9l9.5 -9.5l9.5 9.5l-9.5 9.5zM1186.3 1249.6l9.5 -9.5l9.5 9.5l-9.5 9.5zM1186.9 1251.4l9.5 -9.5l9.5 9.5l-9.5 9.5zM1187.6 1252.3l9.5 -9.5l9.5 9.5l-9.5 9.5zM1188.3 1250.5l9.5 -9.5l9.5 9.5l-9.5 9.5zM1188.9 1250.2l9.5 -9.5l9.5 9.5l-9.5 9.5zM1189.6 1252.9l9.5 -9.5l9.5 9.5l-9.5 9.5zM1190.2 1254l9.5 -9.5l9.5 9.5l-9.5 9.5zM1190.9 1249.3l9.5 -9.5l9.5 9.5l-9.5 9.5zM1191.5 1250.9l9.5 -9.5l9.5 9.5l-9.5 9.5zM1192.2 1252l9.5 -9.5l9.5 9.5l-9.5 9.5zM1192.8 1257l9.5 -9.5l9.5 9.5l-9.5 9.5zM1193.5 1256.3l9.5 -9.5l9.5 9.5l-9.5 9.5zM1194.1 1255.8l9.5 -9.5l9.5 9.5l-9.5 9.5zM1194.7 1255.5l9.5 -9.5l9.5 9.5l-9.5 9.5zM1195.4 1252.6l9.5 -9.5l9.5 9.5l-9.5 9.5zM1196 1257.3l9.5 -9.5l9.5 9.5l-9.5 9.5zM1196.6 1254.5l9.5 -9.5l9.5 9.5l-9.5 9.5zM1197.3 1254.1l9.5 -9.5l9.5 9.5l-9.5 9.5zM1197.9 1259.8l9.5 -9.5l9.5 9.5l-9.5 9.5zM1198.5 1253.4l9.5 -9.5l9.5 9.5l-9.5 9.5zM1199.1 1259.3l9.5 -9.5l9.5 9.5l-9.5 9.5zM1199.7 1257.3l9.5 -9.5l9.5 9.5l-9.5 9.5zM1200.3 1255.3l9.5 -9.5l9.5 9.5l-9.5 9.5zM1201 1257.8l9.5 -9.5l9.5 9.5l-9.5 9.5zM1201.6 1256.1l9.5 -9.5l9.5 9.5l-9.5 9.5zM1202.2 1258.4l9.5 -9.5l9.5 9.5l-9.5 9.5zM1202.8 1257l9.5 -9.5l9.5 9.5l-9.5 9.5zM1203.4 1256.2l9.5 -9.5l9.5 9.5l-9.5 9.5zM1204 1264.1l9.5 -9.5l9.5 9.5l-9.5 9.5zM1204.6 1258.1l9.5 -9.5l9.5 9.5l-9.5 9.5zM1205.2 1261.4l9.5 -9.5l9.5 9.5l-9.5 9.5zM1205.8 1259.6l9.5 -9.5l9.5 9.5l-9.5 9.5zM1206.3 1261.3l9.5 -9.5l9.5 9.5l-9.5 9.5zM1206.9 1257.7l9.5 -9.5l9.5 9.5l-9.5 9.5zM1207.5 1258.5l9.5 -9.5l9.5 9.5l-9.5 9.5zM1208.1 1254.3l9.5 -9.5l9.5 9.5l-9.5 9.5zM1208.7 1263.1l9.5 -9.5l9.5 9.5l-9.5 9.5zM1209.3 1262.2l9.5 -9.5l9.5 9.5l-9.5 9.5zM1209.8 1259.3l9.5 -9.5l9.5 9.5l-9.5 9.5zM1210.4 1263.6l9.5 -9.5l9.5 9.5l-9.5 9.5zM1211 1263.4l9.5 -9.5l9.5 9.5l-9.5 9.5zM1211.6 1268.3l9.5 -9.5l9.5 9.5l-9.5 9.5zM1212.1 1263.2l9.5 -9.5l9.5 9.5l-9.5 9.5zM1212.7 1264.8l9.5 -9.5l9.5 9.5l-9.5 9.5zM1213.3 1264.5l9.5 -9.5l9.5 9.5l-9.5 9.5zM1213.8 1265l9.5 -9.5l9.5 9.5l-9.5 9.5zM1214.4 1263.7l9.5 -9.5l9.5 9.5l-9.5 9.5zM1214.9 1263.2l9.5 -9.5l9.5 9.5l-9.5 9.5zM1215.5 1265.7l9.5 -9.5l9.5 9.5l-9.5 9.5zM1216 1267l9.5 -9.5l9.5 9.5l-9.5 9.5zM1216.6 1262.5l9.5 -9.5l9.5 9.5l-9.5 9.5zM1217.1 1262.8l9.5 -9.5l9.5 9.5l-9.5 9.5zM1217.7 1265.3l9.5 -9.5l9.5 9.5l-9.5 9.5zM1218.2 1269.2l9.5 -9.5l9.5 9.5l-9.5 9.5zM1218.8 1265.4l9.5 -9.5l9.5 9.5l-9.5 9.5zM1219.3 1262.7l9.5 -9.5l9.5 9.5l-9.5 9.5zM1219.9 1268l9.5 -9.5l9.5 9.5l-9.5 9.5zM1220.4 1268.1l9.5 -9.5l9.5 9.5l-9.5 9.5zM1220.9 1270.8l9.5 -9.5l9.5 9.5l-9.5 9.5zM1221.5 1267.5l9.5 -9.5l9.5 9.5l-9.5 9.5zM1222 1271.3l9.5 -9.5l9.5 9.5l-9.5 9.5zM1222.5 1266.2l9.5 -9.5l9.5 9.5l-9.5 9.5zM1223.1 1269.7l9.5 -9.5l9.5 9.5l-9.5 9.5zM1223.6 1268.4l9.5 -9.5l9.5 9.5l-9.5 9.5zM1224.1 1266l9.5 -9.5l9.5 9.5l-9.5 9.5zM1224.6 1268.1l9.5 -9.5l9.5 9.5l-9.5 9.5zM1225.2 1271.5l9.5 -9.5l9.5 9.5l-9.5 9.5zM1225.7 1271.4l9.5 -9.5l9.5 9.5l-9.5 9.5zM1226.2 1268.6l9.5 -9.5l9.5 9.5l-9.5 9.5zM1226.7 1271.8l9.5 -9.5l9.5 9.5l-9.5 9.5zM1227.2 1271.7l9.5 -9.5l9.5 9.5l-9.5 9.5zM1227.8 1271.9l9.5 -9.5l9.5 9.5l-9.5 9.5zM1228.3 1270.9l9.5 -9.5l9.5 9.5l-9.5 9.5zM1228.8 1271.2l9.5 -9.5l9.5 9.5l-9.5 9.5zM1229.3 1269.1l9.5 -9.5l9.5 9.5l-9.5 9.5zM1229.8 1270.9l9.5 -9.5l9.5 9.5l-9.5 9.5zM1230.3 1271.5l9.5 -9.5l9.5 9.5l-9.5 9.5zM1230.8 1270l9.5 -9.5l9.5 9.5l-9.5 9.5zM1231.3 1271.2l9.5 -9.5l9.5 9.5l-9.5 9.5zM1231.8 1272.3l9.5 -9.5l9.5 9.5l-9.5 9.5zM1232.3 1272.7l9.5 -9.5l9.5 9.5l-9.5 9.5zM1232.8 1274.6l9.5 -9.5l9.5 9.5l-9.5 9.5zM1233.3 1270.6l9.5 -9.5l9.5 9.5l-9.5 9.5zM1233.8 1272.1l9.5 -9.5l9.5 9.5l-9.5 9.5zM1234.3 1273.7l9.5 -9.5l9.5 9.5l-9.5 9.5zM1234.8 1272.6l9.5 -9.5l9.5 9.5l-9.5 9.5zM1235.3 1274.3l9.5 -9.5l9.5 9.5l-9.5 9.5zM1235.7 1272.9l9.5 -9.5l9.5 9.5l-9.5 9.5zM1236.2 1276.5l9.5 -9.5l9.5 9.5l-9.5 9.5zM1236.7 1273.9l9.5 -9.5l9.5 9.5l-9.5 9.5zM1237.2 1272.3l9.5 -9.5l9.5 9.5l-9.5 9.5zM1237.7 1276.3l9.5 -9.5l9.5 9.5l-9.5 9.5zM1238.2 1278.4l9.5 -9.5l9.5 9.5l-9.5 9.5zM1238.6 1271.3l9.5 -9.5l9.5 9.5l-9.5 9.5zM1239.1 1275.2l9.5 -9.5l9.5 9.5l-9.5 9.5zM1239.6 1275.8l9.5 -9.5l9.5 9.5l-9.5 9.5zM1240.1 1278l9.5 -9.5l9.5 9.5l-9.5 9.5zM1240.5 1279.2l9.5 -9.5l9.5 9.5l-9.5 9.5zM1241 1276l9.5 -9.5l9.5 9.5l-9.5 9.5zM1241.5 1273.3l9.5 -9.5l9.5 9.5l-9.5 9.5zM1242 1278l9.5 -9.5l9.5 9.5l-9.5 9.5zM1242.4 1278.9l9.5 -9.5l9.5 9.5l-9.5 9.5zM1242.9 1278l9.5 -9.5l9.5 9.5l-9.5 9.5zM1243.3 1277.4l9.5 -9.5l9.5 9.5l-9.5 9.5zM1243.8 1275.7l9.5 -9.5l9.5 9.5l-9.5 9.5zM1244.3 1282.6l9.5 -9.5l9.5 9.5l-9.5 9.5zM1244.7 1275.3l9.5 -9.5l9.5 9.5l-9.5 9.5zM1245.2 1274.9l9.5 -9.5l9.5 9.5l-9.5 9.5zM1245.7 1280.1l9.5 -9.5l9.5 9.5l-9.5 9.5zM1246.1 1278.9l9.5 -9.5l9.5 9.5l-9.5 9.5zM1246.6 1279.9l9.5 -9.5l9.5 9.5l-9.5 9.5zM1247 1279.4l9.5 -9.5l9.5 9.5l-9.5 9.5zM1247.5 1282.3l9.5 -9.5l9.5 9.5l-9.5 9.5zM1247.9 1282l9.5 -9.5l9.5 9.5l-9.5 9.5zM1248.4 1278.1l9.5 -9.5l9.5 9.5l-9.5 9.5zM1248.8 1281.4l9.5 -9.5l9.5 9.5l-9.5 9.5zM1249.3 1277.1l9.5 -9.5l9.5 9.5l-9.5 9.5zM1249.7 1276.2l9.5 -9.5l9.5 9.5l-9.5 9.5zM1250.2 1282.4l9.5 -9.5l9.5 9.5l-9.5 9.5zM1250.6 1279.2l9.5 -9.5l9.5 9.5l-9.5 9.5zM1251 1275.8l9.5 -9.5l9.5 9.5l-9.5 9.5zM1251.5 1280.4l9.5 -9.5l9.5 9.5l-9.5 9.5zM1251.9 1279.2l9.5 -9.5l9.5 9.5l-9.5 9.5zM1252.4 1281.8l9.5 -9.5l9.5 9.5l-9.5 9.5zM1252.8 1280.8l9.5 -9.5l9.5 9.5l-9.5 9.5zM1253.2 1279.5l9.5 -9.5l9.5 9.5l-9.5 9.5zM1253.7 1279.8l9.5 -9.5l9.5 9.5l-9.5 9.5zM1254.1 1283.1l9.5 -9.5l9.5 9.5l-9.5 9.5zM1254.5 1279.7l9.5 -9.5l9.5 9.5l-9.5 9.5zM1255 1282.1l9.5 -9.5l9.5 9.5l-9.5 9.5zM1255.4 1279.9l9.5 -9.5l9.5 9.5l-9.5 9.5zM1255.8 1283.1l9.5 -9.5l9.5 9.5l-9.5 9.5zM1256.2 1286l9.5 -9.5l9.5 9.5l-9.5 9.5zM1256.7 1283.7l9.5 -9.5l9.5 9.5l-9.5 9.5zM1257.1 1285l9.5 -9.5l9.5 9.5l-9.5 9.5zM1257.5 1283.7l9.5 -9.5l9.5 9.5l-9.5 9.5zM1257.9 1280.9l9.5 -9.5l9.5 9.5l-9.5 9.5zM1258.4 1282.5l9.5 -9.5l9.5 9.5l-9.5 9.5zM1258.8 1283.4l9.5 -9.5l9.5 9.5l-9.5 9.5zM1259.2 1284.4l9.5 -9.5l9.5 9.5l-9.5 9.5zM1259.6 1282.3l9.5 -9.5l9.5 9.5l-9.5 9.5zM1260 1285.1l9.5 -9.5l9.5 9.5l-9.5 9.5zM1260.5 1282.4l9.5 -9.5l9.5 9.5l-9.5 9.5zM1260.9 1284.2l9.5 -9.5l9.5 9.5l-9.5 9.5zM1261.3 1284.2l9.5 -9.5l9.5 9.5l-9.5 9.5zM1261.7 1282l9.5 -9.5l9.5 9.5l-9.5 9.5zM1262.1 1286.7l9.5 -9.5l9.5 9.5l-9.5 9.5zM1262.5 1284.9l9.5 -9.5l9.5 9.5l-9.5 9.5zM1262.9 1285.1l9.5 -9.5l9.5 9.5l-9.5 9.5zM1263.3 1285l9.5 -9.5l9.5 9.5l-9.5 9.5zM1263.7 1280.7l9.5 -9.5l9.5 9.5l-9.5 9.5zM1264.1 1282.4l9.5 -9.5l9.5 9.5l-9.5 9.5zM1264.6 1283.6l9.5 -9.5l9.5 9.5l-9.5 9.5zM1265 1287.8l9.5 -9.5l9.5 9.5l-9.5 9.5zM1265.4 1284.6l9.5 -9.5l9.5 9.5l-9.5 9.5zM1265.8 1287.3l9.5 -9.5l9.5 9.5l-9.5 9.5zM1266.2 1284l9.5 -9.5l9.5 9.5l-9.5 9.5zM1266.6 1284.5l9.5 -9.5l9.5 9.5l-9.5 9.5zM1267 1285.5l9.5 -9.5l9.5 9.5l-9.5 9.5zM1267.4 1288.9l9.5 -9.5l9.5 9.5l-9.5 9.5zM1267.8 1283.2l9.5 -9.5l9.5 9.5l-9.5 9.5zM1268.2 1286.6l9.5 -9.5l9.5 9.5l-9.5 9.5zM1268.5 1288l9.5 -9.5l9.5 9.5l-9.5 9.5zM1268.9 1287.6l9.5 -9.5l9.5 9.5l-9.5 9.5zM1269.3 1287.4l9.5 -9.5l9.5 9.5l-9.5 9.5zM1269.7 1289.3l9.5 -9.5l9.5 9.5l-9.5 9.5zM1270.1 1288.4l9.5 -9.5l9.5 9.5l-9.5 9.5zM1270.5 1285.7l9.5 -9.5l9.5 9.5l-9.5 9.5zM1270.9 1289.4l9.5 -9.5l9.5 9.5l-9.5 9.5zM1271.3 1286.5l9.5 -9.5l9.5 9.5l-9.5 9.5zM1271.7 1287.6l9.5 -9.5l9.5 9.5l-9.5 9.5zM1272.1 1291.7l9.5 -9.5l9.5 9.5l-9.5 9.5zM1272.4 1294l9.5 -9.5l9.5 9.5l-9.5 9.5zM1272.8 1292l9.5 -9.5l9.5 9.5l-9.5 9.5zM1273.2 1289.9l9.5 -9.5l9.5 9.5l-9.5 9.5zM1273.6 1287.4l9.5 -9.5l9.5 9.5l-9.5 9.5zM1274 1287.6l9.5 -9.5l9.5 9.5l-9.5 9.5zM1274.3 1293.1l9.5 -9.5l9.5 9.5l-9.5 9.5zM1274.7 1290.3l9.5 -9.5l9.5 9.5l-9.5 9.5zM1275.1 1286.6l9.5 -9.5l9.5 9.5l-9.5 9.5zM1275.5 1293.3l9.5 -9.5l9.5 9.5l-9.5 9.5zM1275.9 1291.3l9.5 -9.5l9.5 9.5l-9.5 9.5zM1276.2 1293l9.5 -9.5l9.5 9.5l-9.5 9.5zM1276.6 1291.2l9.5 -9.5l9.5 9.5l-9.5 9.5zM1277 1285.7l9.5 -9.5l9.5 9.5l-9.5 9.5zM1277.4 1289l9.5 -9.5l9.5 9.5l-9.5 9.5zM1277.7 1290.4l9.5 -9.5l9.5 9.5l-9.5 9.5zM1278.1 1290.5l9.5 -9.5l9.5 9.5l-9.5 9.5zM1278.5 1294.4l9.5 -9.5l9.5 9.5l-9.5 9.5zM1278.8 1289.7l9.5 -9.5l9.5 9.5l-9.5 9.5zM1279.2 1291.1l9.5 -9.5l9.5 9.5l-9.5 9.5zM1279.6 1291.3l9.5 -9.5l9.5 9.5l-9.5 9.5zM1279.9 1291.4l9.5 -9.5l9.5 9.5l-9.5 9.5zM1280.3 1289.4l9.5 -9.5l9.5 9.5l-9.5 9.5zM1280.7 1289.2l9.5 -9.5l9.5 9.5l-9.5 9.5zM1281 1286.3l9.5 -9.5l9.5 9.5l-9.5 9.5zM1281.4 1292.9l9.5 -9.5l9.5 9.5l-9.5 9.5zM1281.8 1291.9l9.5 -9.5l9.5 9.5l-9.5 9.5zM1282.1 1292.9l9.5 -9.5l9.5 9.5l-9.5 9.5zM1282.5 1290.2l9.5 -9.5l9.5 9.5l-9.5 9.5zM1282.8 1292.7l9.5 -9.5l9.5 9.5l-9.5 9.5zM1283.2 1290.7l9.5 -9.5l9.5 9.5l-9.5 9.5zM1283.6 1290.7l9.5 -9.5l9.5 9.5l-9.5 9.5zM1283.9 1293.9l9.5 -9.5l9.5 9.5l-9.5 9.5zM1284.3 1294.7l9.5 -9.5l9.5 9.5l-9.5 9.5zM1284.6 1294.7l9.5 -9.5l9.5 9.5l-9.5 9.5zM1285 1293.5l9.5 -9.5l9.5 9.5l-9.5 9.5zM1285.3 1292.8l9.5 -9.5l9.5 9.5l-9.5 9.5zM1285.7 1297l9.5 -9.5l9.5 9.5l-9.5 9.5zM1286 1296.8l9.5 -9.5l9.5 9.5l-9.5 9.5zM1286.4 1292.7l9.5 -9.5l9.5 9.5l-9.5 9.5zM1286.7 1291.8l9.5 -9.5l9.5 9.5l-9.5 9.5zM1287.1 1295.2l9.5 -9.5l9.5 9.5l-9.5 9.5zM1287.4 1295.3l9.5 -9.5l9.5 9.5l-9.5 9.5zM1287.8 1292.6l9.5 -9.5l9.5 9.5l-9.5 9.5zM1288.1 1300l9.5 -9.5l9.5 9.5l-9.5 9.5zM1288.5 1290.2l9.5 -9.5l9.5 9.5l-9.5 9.5zM1288.8 1293.2l9.5 -9.5l9.5 9.5l-9.5 9.5zM1289.2 1295.8l9.5 -9.5l9.5 9.5l-9.5 9.5zM1289.5 1297.6l9.5 -9.5l9.5 9.5l-9.5 9.5zM1289.9 1291.3l9.5 -9.5l9.5 9.5l-9.5 9.5zM1290.2 1294.6l9.5 -9.5l9.5 9.5l-9.5 9.5zM1290.6 1299l9.5 -9.5l9.5 9.5l-9.5 9.5zM1290.9 1299.1l9.5 -9.5l9.5 9.5l-9.5 9.5zM1291.2 1295.5l9.5 -9.5l9.5 9.5l-9.5 9.5zM1291.6 1296.3l9.5 -9.5l9.5 9.5l-9.5 9.5zM1291.9 1294.3l9.5 -9.5l9.5 9.5l-9.5 9.5zM1292.3 1297.3l9.5 -9.5l9.5 9.5l-9.5 9.5zM1292.6 1294.2l9.5 -9.5l9.5 9.5l-9.5 9.5zM1292.9 1292l9.5 -9.5l9.5 9.5l-9.5 9.5zM1293.3 1293.3l9.5 -9.5l9.5 9.5l-9.5 9.5zM1293.6 1297.1l9.5 -9.5l9.5 9.5l-9.5 9.5zM1293.9 1294.1l9.5 -9.5l9.5 9.5l-9.5 9.5zM1294.3 1299.8l9.5 -9.5l9.5 9.5l-9.5 9.5zM1294.6 1300.3l9.5 -9.5l9.5 9.5l-9.5 9.5zM1294.9 1299.8l9.5 -9.5l9.5 9.5l-9.5 9.5zM1295.3 1299.1l9.5 -9.5l9.5 9.5l-9.5 9.5zM1295.6 1300.4l9.5 -9.5l9.5 9.5l-9.5 9.5zM1295.9 1298.5l9.5 -9.5l9.5 9.5l-9.5 9.5zM1296.3 1300l9.5 -9.5l9.5 9.5l-9.5 9.5zM1296.6 1299.2l9.5 -9.5l9.5 9.5l-9.5 9.5zM1296.9 1300.1l9.5 -9.5l9.5 9.5l-9.5 9.5zM1297.3 1296l9.5 -9.5l9.5 9.5l-9.5 9.5zM1297.6 1297l9.5 -9.5l9.5 9.5l-9.5 9.5zM1297.9 1296.3l9.5 -9.5l9.5 9.5l-9.5 9.5zM1298.2 1300.7l9.5 -9.5l9.5 9.5l-9.5 9.5zM1298.6 1300.1l9.5 -9.5l9.5 9.5l-9.5 9.5zM1298.9 1297.2l9.5 -9.5l9.5 9.5l-9.5 9.5zM1299.2 1296.9l9.5 -9.5l9.5 9.5l-9.5 9.5zM1299.5 1297.9l9.5 -9.5l9.5 9.5l-9.5 9.5zM1299.9 1301.4l9.5 -9.5l9.5 9.5l-9.5 9.5zM1300.2 1299.3l9.5 -9.5l9.5 9.5l-9.5 9.5zM1300.5 1299.1l9.5 -9.5l9.5 9.5l-9.5 9.5zM1300.8 1298.2l9.5 -9.5l9.5 9.5l-9.5 9.5zM1301.1 1299.6l9.5 -9.5l9.5 9.5l-9.5 9.5zM1301.5 1303.8l9.5 -9.5l9.5 9.5l-9.5 9.5zM1301.8 1298.6l9.5 -9.5l9.5 9.5l-9.5 9.5zM1302.1 1299.5l9.5 -9.5l9.5 9.5l-9.5 9.5zM1302.4 1304.4l9.5 -9.5l9.5 9.5l-9.5 9.5zM1302.7 1302.2l9.5 -9.5l9.5 9.5l-9.5 9.5zM1303 1298l9.5 -9.5l9.5 9.5l-9.5 9.5zM1303.4 1303.3l9.5 -9.5l9.5 9.5l-9.5 9.5zM1303.7 1298l9.5 -9.5l9.5 9.5l-9.5 9.5zM1304 1302.3l9.5 -9.5l9.5 9.5l-9.5 9.5zM1304.3 1295.2l9.5 -9.5l9.5 9.5l-9.5 9.5zM1304.6 1298.9l9.5 -9.5l9.5 9.5l-9.5 9.5zM1304.9 1303.6l9.5 -9.5l9.5 9.5l-9.5 9.5zM1305.2 1300.1l9.5 -9.5l9.5 9.5l-9.5 9.5zM1305.5 1299.9l9.5 -9.5l9.5 9.5l-9.5 9.5zM1305.9 1301.9l9.5 -9.5l9.5 9.5l-9.5 9.5zM1306.2 1301.9l9.5 -9.5l9.5 9.5l-9.5 9.5zM1306.5 1300.9l9.5 -9.5l9.5 9.5l-9.5 9.5zM1306.8 1300.5l9.5 -9.5l9.5 9.5l-9.5 9.5zM1307.1 1306.5l9.5 -9.5l9.5 9.5l-9.5 9.5zM1307.4 1305.9l9.5 -9.5l9.5 9.5l-9.5 9.5zM1307.7 1303.3l9.5 -9.5l9.5 9.5l-9.5 9.5zM1308 1299.9l9.5 -9.5l9.5 9.5l-9.5 9.5zM1308.3 1301.5l9.5 -9.5l9.5 9.5l-9.5 9.5zM1308.6 1302.2l9.5 -9.5l9.5 9.5l-9.5 9.5zM1308.9 1304.1l9.5 -9.5l9.5 9.5l-9.5 9.5zM1309.2 1306.9l9.5 -9.5l9.5 9.5l-9.5 9.5zM1309.5 1302l9.5 -9.5l9.5 9.5l-9.5 9.5zM1309.8 1303.7l9.5 -9.5l9.5 9.5l-9.5 9.5zM1310.1 1302.4l9.5 -9.5l9.5 9.5l-9.5 9.5zM1310.4 1303.9l9.5 -9.5l9.5 9.5l-9.5 9.5zM1310.7 1302.1l9.5 -9.5l9.5 9.5l-9.5 9.5zM1311 1304.7l9.5 -9.5l9.5 9.5l-9.5 9.5zM1311.3 1306.7l9.5 -9.5l9.5 9.5l-9.5 9.5zM1311.6 1303.1l9.5 -9.5l9.5 9.5l-9.5 9.5zM1311.9 1303.4l9.5 -9.5l9.5 9.5l-9.5 9.5zM1312.2 1304.6l9.5 -9.5l9.5 9.5l-9.5 9.5zM1312.5 1301.3l9.5 -9.5l9.5 9.5l-9.5 9.5zM1312.8 1308.8l9.5 -9.5l9.5 9.5l-9.5 9.5zM1313.1 1301.4l9.5 -9.5l9.5 9.5l-9.5 9.5zM1313.4 1303.9l9.5 -9.5l9.5 9.5l-9.5 9.5zM1313.7 1302.8l9.5 -9.5l9.5 9.5l-9.5 9.5zM1314 1308.6l9.5 -9.5l9.5 9.5l-9.5 9.5zM1314.3 1303.9l9.5 -9.5l9.5 9.5l-9.5 9.5zM1314.6 1304l9.5 -9.5l9.5 9.5l-9.5 9.5zM1314.9 1309.9l9.5 -9.5l9.5 9.5l-9.5 9.5zM1315.2 1305.2l9.5 -9.5l9.5 9.5l-9.5 9.5zM1315.5 1303.7l9.5 -9.5l9.5 9.5l-9.5 9.5zM1315.8 1305.7l9.5 -9.5l9.5 9.5l-9.5 9.5zM1316.1 1306.3l9.5 -9.5l9.5 9.5l-9.5 9.5zM1316.4 1304.1l9.5 -9.5l9.5 9.5l-9.5 9.5zM1316.7 1305.6l9.5 -9.5l9.5 9.5l-9.5 9.5zM1317 1305.7l9.5 -9.5l9.5 9.5l-9.5 9.5zM1317.3 1308l9.5 -9.5l9.5 9.5l-9.5 9.5zM1317.6 1308.3l9.5 -9.5l9.5 9.5l-9.5 9.5zM1317.9 1308.5l9.5 -9.5l9.5 9.5l-9.5 9.5zM1318.2 1306.3l9.5 -9.5l9.5 9.5l-9.5 9.5zM1318.5 1308.7l9.5 -9.5l9.5 9.5l-9.5 9.5zM1318.8 1306.4l9.5 -9.5l9.5 9.5l-9.5 9.5zM1319.1 1309.8l9.5 -9.5l9.5 9.5l-9.5 9.5zM1319.4 1308.1l9.5 -9.5l9.5 9.5l-9.5 9.5zM1319.7 1306.2l9.5 -9.5l9.5 9.5l-9.5 9.5zM1320 1310.3l9.5 -9.5l9.5 9.5l-9.5 9.5zM1320.3 1303.8l9.5 -9.5l9.5 9.5l-9.5 9.5zM1320.6 1305.2l9.5 -9.5l9.5 9.5l-9.5 9.5zM1320.9 1305.8l9.5 -9.5l9.5 9.5l-9.5 9.5zM1321.2 1307.5l9.5 -9.5l9.5 9.5l-9.5 9.5zM1321.5 1304.9l9.5 -9.5l9.5 9.5l-9.5 9.5zM1321.8 1305.1l9.5 -9.5l9.5 9.5l-9.5 9.5zM1322.1 1303.6l9.5 -9.5l9.5 9.5l-9.5 9.5zM1322.4 1308.6l9.5 -9.5l9.5 9.5l-9.5 9.5zM1322.7 1306.5l9.5 -9.5l9.5 9.5l-9.5 9.5zM1323 1313.9l9.5 -9.5l9.5 9.5l-9.5 9.5zM1323.3 1310.5l9.5 -9.5l9.5 9.5l-9.5 9.5zM1323.6 1306l9.5 -9.5l9.5 9.5l-9.5 9.5zM1323.9 1312.1l9.5 -9.5l9.5 9.5l-9.5 9.5zM1324.2 1309.3l9.5 -9.5l9.5 9.5l-9.5 9.5zM1324.5 1311.8l9.5 -9.5l9.5 9.5l-9.5 9.5zM1324.8 1306.5l9.5 -9.5l9.5 9.5l-9.5 9.5zM1325.1 1312.2l9.5 -9.5l9.5 9.5l-9.5 9.5zM1325.4 1312.2l9.5 -9.5l9.5 9.5l-9.5 9.5zM1325.7 1308.6l9.5 -9.5l9.5 9.5l-9.5 9.5zM1326 1307.6l9.5 -9.5l9.5 9.5l-9.5 9.5zM1326.3 1308.9l9.5 -9.5l9.5 9.5l-9.5 9.5zM1326.6 1310.6l9.5 -9.5l9.5 9.5l-9.5 9.5zM1326.9 1316l9.5 -9.5l9.5 9.5l-9.5 9.5zM1327.2 1314.6l9.5 -9.5l9.5 9.5l-9.5 9.5zM1327.5 1314l9.5 -9.5l9.5 9.5l-9.5 9.5zM1327.8 1309.9l9.5 -9.5l9.5 9.5l-9.5 9.5zM1328.1 1309.7l9.5 -9.5l9.5 9.5l-9.5 9.5zM1328.4 1311.6l9.5 -9.5l9.5 9.5l-9.5 9.5zM1328.7 1310.1l9.5 -9.5l9.5 9.5l-9.5 9.5zM1329 1309.7l9.5 -9.5l9.5 9.5l-9.5 9.5zM1329.3 1310.5l9.5 -9.5l9.5 9.5l-9.5 9.5zM1329.6 1313.2l9.5 -9.5l9.5 9.5l-9.5 9.5zM1329.9 1311.1l9.5 -9.5l9.5 9.5l-9.5 9.5zM1330.2 1311.9l9.5 -9.5l9.5 9.5l-9.5 9.5zM1330.5 1310.8l9.5 -9.5l9.5 9.5l-9.5 9.5zM1330.8 1311.1l9.5 -9.5l9.5 9.5l-9.5 9.5zM1331.1 1310.9l9.5 -9.5l9.5 9.5l-9.5 9.5zM1331.4 1315l9.5 -9.5l9.5 9.5l-9.5 9.5zM1331.7 1312.5l9.5 -9.5l9.5 9.5l-9.5 9.5zM1332 1315.8l9.5 -9.5l9.5 9.5l-9.5 9.5zM1332.3 1311.8l9.5 -9.5l9.5 9.5l-9.5 9.5zM1332.6 1314.9l9.5 -9.5l9.5 9.5l-9.5 9.5zM1332.9 1309l9.5 -9.5l9.5 9.5l-9.5 9.5zM1333.2 1311.5l9.5 -9.5l9.5 9.5l-9.5 9.5zM1333.5 1312.5l9.5 -9.5l9.5 9.5l-9.5 9.5zM1333.8 1311.2l9.5 -9.5l9.5 9.5l-9.5 9.5zM1334.1 1312.6l9.5 -9.5l9.5 9.5l-9.5 9.5zM1334.4 1310.7l9.5 -9.5l9.5 9.5l-9.5 9.5zM1334.7 1312.7l9.5 -9.5l9.5 9.5l-9.5 9.5zM1335 1311.6l9.5 -9.5l9.5 9.5l-9.5 9.5zM1335.3 1313.3l9.5 -9.5l9.5 9.5l-9.5 9.5zM1335.6 1312.7l9.5 -9.5l9.5 9.5l-9.5 9.5zM1335.9 1311.1l9.5 -9.5l9.5 9.5l-9.5 9.5zM1336.2 1312.7l9.5 -9.5l9.5 9.5l-9.5 9.5zM1336.5 1313.9l9.5 -9.5l9.5 9.5l-9.5 9.5zM1336.8 1310.7l9.5 -9.5l9.5 9.5l-9.5 9.5zM1337.1 1314.3l9.5 -9.5l9.5 9.5l-9.5 9.5zM1337.4 1317.3l9.5 -9.5l9.5 9.5l-9.5 9.5zM1337.7 1313.7l9.5 -9.5l9.5 9.5l-9.5 9.5zM1338 1315.8l9.5 -9.5l9.5 9.5l-9.5 9.5zM1338.3 1316.1l9.5 -9.5l9.5 9.5l-9.5 9.5zM1338.6 1312.6l9.5 -9.5l9.5 9.5l-9.5 9.5zM1338.9 1318.1l9.5 -9.5l9.5 9.5l-9.5 9.5zM1339.2 1321.2l9.5 -9.5l9.5 9.5l-9.5 9.5zM1339.5 1312.4l9.5 -9.5l9.5 9.5l-9.5 9.5zM1339.8 1320.5l9.5 -9.5l9.5 9.5l-9.5 9.5zM1340.1 1313.4l9.5 -9.5l9.5 9.5l-9.5 9.5zM1340.4 1319l9.5 -9.5l9.5 9.5l-9.5 9.5zM1340.7 1310.9l9.5 -9.5l9.5 9.5l-9.5 9.5zM1341 1318.5l9.5 -9.5l9.5 9.5l-9.5 9.5zM1341.3 1316.1l9.5 -9.5l9.5 9.5l-9.5 9.5zM1341.6 1312.6l9.5 -9.5l9.5 9.5l-9.5 9.5zM1341.9 1313.9l9.5 -9.5l9.5 9.5l-9.5 9.5zM1342.2 1313.4l9.5 -9.5l9.5 9.5l-9.5 9.5zM1342.5 1313.9l9.5 -9.5l9.5 9.5l-9.5 9.5zM1342.8 1317.3l9.5 -9.5l9.5 9.5l-9.5 9.5zM1343.1 1316l9.5 -9.5l9.5 9.5l-9.5 9.5zM1343.4 1310.2l9.5 -9.5l9.5 9.5l-9.5 9.5zM1343.7 1315.9l9.5 -9.5l9.5 9.5l-9.5 9.5zM1344 1318l9.5 -9.5l9.5 9.5l-9.5 9.5zM1344.3 1317.1l9.5 -9.5l9.5 9.5l-9.5 9.5zM1344.6 1321.3l9.5 -9.5l9.5 9.5l-9.5 9.5zM1344.9 1312.4l9.5 -9.5l9.5 9.5l-9.5 9.5zM1345.2 1317.9l9.5 -9.5l9.5 9.5l-9.5 9.5zM1345.5 1317.4l9.5 -9.5l9.5 9.5l-9.5 9.5zM1345.8 1319.3l9.5 -9.5l9.5 9.5l-9.5 9.5zM1346.1 1314.2l9.5 -9.5l9.5 9.5l-9.5 9.5zM1346.4 1314.4l9.5 -9.5l9.5 9.5l-9.5 9.5zM1346.7 1317.4l9.5 -9.5l9.5 9.5l-9.5 9.5zM1347 1318.1l9.5 -9.5l9.5 9.5l-9.5 9.5zM1347.3 1313.4l9.5 -9.5l9.5 9.5l-9.5 9.5zM1347.6 1319.1l9.5 -9.5l9.5 9.5l-9.5 9.5zM1347.9 1318.3l9.5 -9.5l9.5 9.5l-9.5 9.5zM1348.2 1320.3l9.5 -9.5l9.5 9.5l-9.5 9.5zM1348.5 1311.8l9.5 -9.5l9.5 9.5l-9.5 9.5zM1348.8 1319.9l9.5 -9.5l9.5 9.5l-9.5 9.5zM1349.1 1316.5l9.5 -9.5l9.5 9.5l-9.5 9.5zM1349.4 1317.7l9.5 -9.5l9.5 9.5l-9.5 9.5zM1349.7 1321l9.5 -9.5l9.5 9.5l-9.5 9.5zM1350 1323.5l9.5 -9.5l9.5 9.5l-9.5 9.5zM1350.3 1319.6l9.5 -9.5l9.5 9.5l-9.5 9.5zM1350.6 1319.1l9.5 -9.5l9.5 9.5l-9.5 9.5zM1350.9 1322.9l9.5 -9.5l9.5 9.5l-9.5 9.5zM1351.2 1317.3l9.5 -9.5l9.5 9.5l-9.5 9.5zM1351.5 1319.3l9.5 -9.5l9.5 9.5l-9.5 9.5zM1351.8 1318.5l9.5 -9.5l9.5 9.5l-9.5 9.5zM1352.1 1317.4l9.5 -9.5l9.5 9.5l-9.5 9.5zM1352.4 1320.6l9.5 -9.5l9.5 9.5l-9.5 9.5zM1352.7 1325.5l9.5 -9.5l9.5 9.5l-9.5 9.5zM1353 1320.9l9.5 -9.5l9.5 9.5l-9.5 9.5zM1353.3 1321.7l9.5 -9.5l9.5 9.5l-9.5 9.5zM1353.6 1320.5l9.5 -9.5l9.5 9.5l-9.5 9.5zM1353.9 1323.6l9.5 -9.5l9.5 9.5l-9.5 9.5zM1354.2 1321.2l9.5 -9.5l9.5 9.5l-9.5 9.5zM1354.5 1318.6l9.5 -9.5l9.5 9.5l-9.5 9.5zM1354.8 1321.3l9.5 -9.5l9.5 9.5l-9.5 9.5zM1355.1 1324.9l9.5 -9.5l9.5 9.5l-9.5 9.5zM1355.4 1321l9.5 -9.5l9.5 9.5l-9.5 9.5zM1355.7 1324.5l9.5 -9.5l9.5 9.5l-9.5 9.5zM1356 1321.3l9.5 -9.5l9.5 9.5l-9.5 9.5zM1356.3 1326.9l9.5 -9.5l9.5 9.5l-9.5 9.5zM1356.6 1322.5l9.5 -9.5l9.5 9.5l-9.5 9.5zM1356.9 1323.5l9.5 -9.5l9.5 9.5l-9.5 9.5zM1357.2 1321.2l9.5 -9.5l9.5 9.5l-9.5 9.5zM1357.5 1324.3l9.5 -9.5l9.5 9.5l-9.5 9.5zM1357.8 1321.6l9.5 -9.5l9.5 9.5l-9.5 9.5zM1358.1 1318.5l9.5 -9.5l9.5 9.5l-9.5 9.5zM1358.4 1323.2l9.5 -9.5l9.5 9.5l-9.5 9.5zM1358.7 1319.4l9.5 -9.5l9.5 9.5l-9.5 9.5zM1359 1326.5l9.5 -9.5l9.5 9.5l-9.5 9.5zM1359.3 1324.8l9.5 -9.5l9.5 9.5l-9.5 9.5zM1359.6 1323l9.5 -9.5l9.5 9.5l-9.5 9.5zM1359.9 1324.8l9.5 -9.5l9.5 9.5l-9.5 9.5zM1360.2 1316.4l9.5 -9.5l9.5 9.5l-9.5 9.5zM1360.5 1327.2l9.5 -9.5l9.5 9.5l-9.5 9.5zM1360.8 1321.7l9.5 -9.5l9.5 9.5l-9.5 9.5zM1361.1 1325.2l9.5 -9.5l9.5 9.5l-9.5 9.5zM1361.4 1330.2l9.5 -9.5l9.5 9.5l-9.5 9.5zM1361.7 1319.6l9.5 -9.5l9.5 9.5l-9.5 9.5zM1362 1322.8l9.5 -9.5l9.5 9.5l-9.5 9.5zM1362.3 1324.9l9.5 -9.5l9.5 9.5l-9.5 9.5zM1362.6 1325.2l9.5 -9.5l9.5 9.5l-9.5 9.5zM1362.9 1319.9l9.5 -9.5l9.5 9.5l-9.5 9.5zM1363.2 1321.9l9.5 -9.5l9.5 9.5l-9.5 9.5zM1363.5 1328.3l9.5 -9.5l9.5 9.5l-9.5 9.5zM1363.8 1323l9.5 -9.5l9.5 9.5l-9.5 9.5zM1364.1 1326.1l9.5 -9.5l9.5 9.5l-9.5 9.5zM1364.4 1321.3l9.5 -9.5l9.5 9.5l-9.5 9.5zM1364.7 1322.6l9.5 -9.5l9.5 9.5l-9.5 9.5zM1365 1320.4l9.5 -9.5l9.5 9.5l-9.5 9.5zM1365.3 1325.9l9.5 -9.5l9.5 9.5l-9.5 9.5zM1365.6 1328.2l9.5 -9.5l9.5 9.5l-9.5 9.5zM1365.9 1325.6l9.5 -9.5l9.5 9.5l-9.5 9.5zM1366.2 1324.8l9.5 -9.5l9.5 9.5l-9.5 9.5zM1366.5 1326.3l9.5 -9.5l9.5 9.5l-9.5 9.5zM1366.8 1327l9.5 -9.5l9.5 9.5l-9.5 9.5zM1367.1 1325.1l9.5 -9.5l9.5 9.5l-9.5 9.5zM1367.4 1327.4l9.5 -9.5l9.5 9.5l-9.5 9.5zM1367.7 1331.1l9.5 -9.5l9.5 9.5l-9.5 9.5zM1368 1331.9l9.5 -9.5l9.5 9.5l-9.5 9.5zM1368.3 1324.9l9.5 -9.5l9.5 9.5l-9.5 9.5zM1368.6 1323.3l9.5 -9.5l9.5 9.5l-9.5 9.5zM1368.9 1331.5l9.5 -9.5l9.5 9.5l-9.5 9.5zM1369.2 1329.2l9.5 -9.5l9.5 9.5l-9.5 9.5zM1369.5 1329.9l9.5 -9.5l9.5 9.5l-9.5 9.5zM1369.8 1328.5l9.5 -9.5l9.5 9.5l-9.5 9.5zM1370.1 1326.5l9.5 -9.5l9.5 9.5l-9.5 9.5zM1370.4 1329.7l9.5 -9.5l9.5 9.5l-9.5 9.5zM1370.7 1330.1l9.5 -9.5l9.5 9.5l-9.5 9.5zM1371 1330.4l9.5 -9.5l9.5 9.5l-9.5 9.5zM1371.3 1324.8l9.5 -9.5l9.5 9.5l-9.5 9.5zM1371.6 1330.3l9.5 -9.5l9.5 9.5l-9.5 9.5zM1371.9 1326.9l9.5 -9.5l9.5 9.5l-9.5 9.5zM1372.2 1327l9.5 -9.5l9.5 9.5l-9.5 9.5zM1372.5 1328.9l9.5 -9.5l9.5 9.5l-9.5 9.5zM1372.8 1327.3l9.5 -9.5l9.5 9.5l-9.5 9.5zM1373.1 1334.1l9.5 -9.5l9.5 9.5l-9.5 9.5zM1373.4 1329.8l9.5 -9.5l9.5 9.5l-9.5 9.5zM1373.7 1329.2l9.5 -9.5l9.5 9.5l-9.5 9.5zM1374 1328.1l9.5 -9.5l9.5 9.5l-9.5 9.5zM1374.3 1329.4l9.5 -9.5l9.5 9.5l-9.5 9.5zM1374.6 1328.3l9.5 -9.5l9.5 9.5l-9.5 9.5zM1374.9 1330.4l9.5 -9.5l9.5 9.5l-9.5 9.5zM1375.2 1331.3l9.5 -9.5l9.5 9.5l-9.5 9.5zM1375.5 1331.3l9.5 -9.5l9.5 9.5l-9.5 9.5zM1375.8 1326.2l9.5 -9.5l9.5 9.5l-9.5 9.5zM1376.1 1328.6l9.5 -9.5l9.5 9.5l-9.5 9.5zM1376.4 1329.8l9.5 -9.5l9.5 9.5l-9.5 9.5zM1376.7 1326.6l9.5 -9.5l9.5 9.5l-9.5 9.5zM1377 1330.7l9.5 -9.5l9.5 9.5l-9.5 9.5zM1377.3 1329.6l9.5 -9.5l9.5 9.5l-9.5 9.5zM1377.6 1330.2l9.5 -9.5l9.5 9.5l-9.5 9.5zM1377.9 1331.1l9.5 -9.5l9.5 9.5l-9.5 9.5zM1378.2 1328.7l9.5 -9.5l9.5 9.5l-9.5 9.5zM1378.5 1334.3l9.5 -9.5l9.5 9.5l-9.5 9.5zM1378.8 1333.1l9.5 -9.5l9.5 9.5l-9.5 9.5zM1379.1 1329.3l9.5 -9.5l9.5 9.5l-9.5 9.5zM1379.4 1331.9l9.5 -9.5l9.5 9.5l-9.5 9.5zM1379.7 1332.7l9.5 -9.5l9.5 9.5l-9.5 9.5zM1380 1329.1l9.5 -9.5l9.5 9.5l-9.5 9.5zM1380.3 1330.2l9.5 -9.5l9.5 9.5l-9.5 9.5zM1380.6 1333l9.5 -9.5l9.5 9.5l-9.5 9.5zM1380.9 1325l9.5 -9.5l9.5 9.5l-9.5 9.5zM1381.2 1328.2l9.5 -9.5l9.5 9.5l-9.5 9.5zM1381.5 1332.4l9.5 -9.5l9.5 9.5l-9.5 9.5zM1381.8 1333.2l9.5 -9.5l9.5 9.5l-9.5 9.5zM1382.1 1329.5l9.5 -9.5l9.5 9.5l-9.5 9.5zM1382.4 1334.1l9.5 -9.5l9.5 9.5l-9.5 9.5zM1382.7 1337.5l9.5 -9.5l9.5 9.5l-9.5 9.5zM1383 1332.7l9.5 -9.5l9.5 9.5l-9.5 9.5zM1383.3 1332.2l9.5 -9.5l9.5 9.5l-9.5 9.5zM1383.6 1332.6l9.5 -9.5l9.5 9.5l-9.5 9.5zM1383.9 1330.1l9.5 -9.5l9.5 9.5l-9.5 9.5zM1384.2 1334l9.5 -9.5l9.5 9.5l-9.5 9.5zM1384.5 1333.2l9.5 -9.5l9.5 9.5l-9.5 9.5zM1384.8 1334.7l9.5 -9.5l9.5 9.5l-9.5 9.5zM1385.1 1336.5l9.5 -9.5l9.5 9.5l-9.5 9.5zM1385.4 1333.2l9.5 -9.5l9.5 9.5l-9.5 9.5zM1385.7 1333.7l9.5 -9.5l9.5 9.5l-9.5 9.5zM1386 1334.2l9.5 -9.5l9.5 9.5l-9.5 9.5zM1386.3 1337.7l9.5 -9.5l9.5 9.5l-9.5 9.5zM1386.6 1330.1l9.5 -9.5l9.5 9.5l-9.5 9.5zM1386.9 1333.7l9.5 -9.5l9.5 9.5l-9.5 9.5zM1387.2 1332.3l9.5 -9.5l9.5 9.5l-9.5 9.5zM1387.5 1334.3l9.5 -9.5l9.5 9.5l-9.5 9.5zM1387.8 1336.1l9.5 -9.5l9.5 9.5l-9.5 9.5zM1388.1 1334.4l9.5 -9.5l9.5 9.5l-9.5 9.5zM1388.4 1336.1l9.5 -9.5l9.5 9.5l-9.5 9.5zM1388.7 1334.9l9.5 -9.5l9.5 9.5l-9.5 9.5zM1389 1332.8l9.5 -9.5l9.5 9.5l-9.5 9.5zM1389.3 1333.1l9.5 -9.5l9.5 9.5l-9.5 9.5zM1389.6 1331.5l9.5 -9.5l9.5 9.5l-9.5 9.5zM1389.9 1335.5l9.5 -9.5l9.5 9.5l-9.5 9.5zM1390.2 1334.1l9.5 -9.5l9.5 9.5l-9.5 9.5zM1390.5 1337.2l9.5 -9.5l9.5 9.5l-9.5 9.5zM1390.8 1337.6l9.5 -9.5l9.5 9.5l-9.5 9.5zM1391.1 1333.2l9.5 -9.5l9.5 9.5l-9.5 9.5zM1391.4 1332.8l9.5 -9.5l9.5 9.5l-9.5 9.5zM1391.7 1337.2l9.5 -9.5l9.5 9.5l-9.5 9.5zM1392 1333.6l9.5 -9.5l9.5 9.5l-9.5 9.5zM1392.3 1336.4l9.5 -9.5l9.5 9.5l-9.5 9.5zM1392.6 1337.6l9.5 -9.5l9.5 9.5l-9.5 9.5zM1392.9 1335.2l9.5 -9.5l9.5 9.5l-9.5 9.5zM1393.2 1340.9l9.5 -9.5l9.5 9.5l-9.5 9.5zM1393.5 1334.4l9.5 -9.5l9.5 9.5l-9.5 9.5zM1393.8 1337.7l9.5 -9.5l9.5 9.5l-9.5 9.5zM1394.1 1335.6l9.5 -9.5l9.5 9.5l-9.5 9.5zM1394.4 1329.1l9.5 -9.5l9.5 9.5l-9.5 9.5zM1394.7 1336.5l9.5 -9.5l9.5 9.5l-9.5 9.5zM1395 1336.6l9.5 -9.5l9.5 9.5l-9.5 9.5zM1395.3 1338.7l9.5 -9.5l9.5 9.5l-9.5 9.5zM1395.6 1336.9l9.5 -9.5l9.5 9.5l-9.5 9.5zM1395.9 1335.4l9.5 -9.5l9.5 9.5l-9.5 9.5zM1396.2 1336.1l9.5 -9.5l9.5 9.5l-9.5 9.5zM1396.5 1336.8l9.5 -9.5l9.5 9.5l-9.5 9.5zM1396.8 1339.9l9.5 -9.5l9.5 9.5l-9.5 9.5zM1397.1 1337.1l9.5 -9.5l9.5 9.5l-9.5 9.5zM1397.4 1341.6l9.5 -9.5l9.5 9.5l-9.5 9.5zM1397.7 1340.6l9.5 -9.5l9.5 9.5l-9.5 9.5zM1398 1336.1l9.5 -9.5l9.5 9.5l-9.5 9.5zM1398.3 1341.4l9.5 -9.5l9.5 9.5l-9.5 9.5zM1398.6 1331.9l9.5 -9.5l9.5 9.5l-9.5 9.5zM1398.9 1338.8l9.5 -9.5l9.5 9.5l-9.5 9.5zM1399.2 1335.9l9.5 -9.5l9.5 9.5l-9.5 9.5zM1399.5 1338.6l9.5 -9.5l9.5 9.5l-9.5 9.5zM1399.8 1342.5l9.5 -9.5l9.5 9.5l-9.5 9.5zM1400.1 1339.2l9.5 -9.5l9.5 9.5l-9.5 9.5zM1400.4 1338.8l9.5 -9.5l9.5 9.5l-9.5 9.5zM1400.7 1343.4l9.5 -9.5l9.5 9.5l-9.5 9.5zM1401 1337.2l9.5 -9.5l9.5 9.5l-9.5 9.5zM1401.3 1337.1l9.5 -9.5l9.5 9.5l-9.5 9.5zM1401.6 1342.9l9.5 -9.5l9.5 9.5l-9.5 9.5zM1401.9 1341.9l9.5 -9.5l9.5 9.5l-9.5 9.5zM1402.2 1335.5l9.5 -9.5l9.5 9.5l-9.5 9.5zM1402.5 1340.7l9.5 -9.5l9.5 9.5l-9.5 9.5zM1402.8 1342.8l9.5 -9.5l9.5 9.5l-9.5 9.5zM1403.1 1339.9l9.5 -9.5l9.5 9.5l-9.5 9.5zM1403.4 1339.2l9.5 -9.5l9.5 9.5l-9.5 9.5zM1403.7 1341.1l9.5 -9.5l9.5 9.5l-9.5 9.5zM1404 1341.5l9.5 -9.5l9.5 9.5l-9.5 9.5zM1404.3 1338.6l9.5 -9.5l9.5 9.5l-9.5 9.5zM1404.6 1343.8l9.5 -9.5l9.5 9.5l-9.5 9.5zM1404.9 1335.9l9.5 -9.5l9.5 9.5l-9.5 9.5zM1405.2 1341l9.5 -9.5l9.5 9.5l-9.5 9.5zM1405.5 1348.7l9.5 -9.5l9.5 9.5l-9.5 9.5zM1405.8 1337.9l9.5 -9.5l9.5 9.5l-9.5 9.5zM1406.1 1341.5l9.5 -9.5l9.5 9.5l-9.5 9.5zM1406.4 1334l9.5 -9.5l9.5 9.5l-9.5 9.5zM1406.7 1339.1l9.5 -9.5l9.5 9.5l-9.5 9.5zM1407 1338l9.5 -9.5l9.5 9.5l-9.5 9.5zM1407.3 1342.4l9.5 -9.5l9.5 9.5l-9.5 9.5zM1407.6 1340.6l9.5 -9.5l9.5 9.5l-9.5 9.5zM1407.9 1348.9l9.5 -9.5l9.5 9.5l-9.5 9.5zM1408.2 1339.3l9.5 -9.5l9.5 9.5l-9.5 9.5zM1408.5 1342.6l9.5 -9.5l9.5 9.5l-9.5 9.5zM1408.8 1343.6l9.5 -9.5l9.5 9.5l-9.5 9.5zM1409.1 1345.3l9.5 -9.5l9.5 9.5l-9.5 9.5zM1409.4 1346.3l9.5 -9.5l9.5 9.5l-9.5 9.5zM1409.7 1337.5l9.5 -9.5l9.5 9.5l-9.5 9.5zM1410 1351.4l9.5 -9.5l9.5 9.5l-9.5 9.5zM1410.3 1342.3l9.5 -9.5l9.5 9.5l-9.5 9.5zM1410.6 1340.9l9.5 -9.5l9.5 9.5l-9.5 9.5zM1410.9 1337.5l9.5 -9.5l9.5 9.5l-9.5 9.5zM1411.2 1342.1l9.5 -9.5l9.5 9.5l-9.5 9.5zM1411.5 1337.2l9.5 -9.5l9.5 9.5l-9.5 9.5zM1411.8 1344.8l9.5 -9.5l9.5 9.5l-9.5 9.5zM1412.1 1341.9l9.5 -9.5l9.5 9.5l-9.5 9.5zM1412.4 1345.5l9.5 -9.5l9.5 9.5l-9.5 9.5zM1412.7 1341.4l9.5 -9.5l9.5 9.5l-9.5 9.5zM1413 1344.8l9.5 -9.5l9.5 9.5l-9.5 9.5zM1413.3 1353.3l9.5 -9.5l9.5 9.5l-9.5 9.5zM1413.6 1349.4l9.5 -9.5l9.5 9.5l-9.5 9.5zM1413.9 1345.5l9.5 -9.5l9.5 9.5l-9.5 9.5zM1414.1 1341.1l9.5 -9.5l9.5 9.5l-9.5 9.5zM1414.4 1350.9l9.5 -9.5l9.5 9.5l-9.5 9.5zM1414.7 1338.5l9.5 -9.5l9.5 9.5l-9.5 9.5zM1415 1339.7l9.5 -9.5l9.5 9.5l-9.5 9.5zM1415.3 1350.7l9.5 -9.5l9.5 9.5l-9.5 9.5zM1415.5 1343.2l9.5 -9.5l9.5 9.5l-9.5 9.5zM1415.8 1351.2l9.5 -9.5l9.5 9.5l-9.5 9.5zM1416.1 1348.2l9.5 -9.5l9.5 9.5l-9.5 9.5zM1416.4 1354.9l9.5 -9.5l9.5 9.5l-9.5 9.5zM1416.6 1353.4l9.5 -9.5l9.5 9.5l-9.5 9.5zM1416.9 1348.6l9.5 -9.5l9.5 9.5l-9.5 9.5zM1417.2 1343.7l9.5 -9.5l9.5 9.5l-9.5 9.5zM1417.4 1348.9l9.5 -9.5l9.5 9.5l-9.5 9.5zM1417.7 1352.4l9.5 -9.5l9.5 9.5l-9.5 9.5zM1418 1347.2l9.5 -9.5l9.5 9.5l-9.5 9.5zM1418.2 1334.5l9.5 -9.5l9.5 9.5l-9.5 9.5zM1418.5 1345.2l9.5 -9.5l9.5 9.5l-9.5 9.5zM1418.8 1345.4l9.5 -9.5l9.5 9.5l-9.5 9.5zM1419 1346.8l9.5 -9.5l9.5 9.5l-9.5 9.5zM1419.3 1345.6l9.5 -9.5l9.5 9.5l-9.5 9.5zM1419.5 1352.2l9.5 -9.5l9.5 9.5l-9.5 9.5zM1419.8 1341.9l9.5 -9.5l9.5 9.5l-9.5 9.5zM1420.1 1349.4l9.5 -9.5l9.5 9.5l-9.5 9.5zM1420.3 1338.9l9.5 -9.5l9.5 9.5l-9.5 9.5zM1420.6 1338.2l9.5 -9.5l9.5 9.5l-9.5 9.5zM1420.8 1343.3l9.5 -9.5l9.5 9.5l-9.5 9.5zM1421.1 1344.6l9.5 -9.5l9.5 9.5l-9.5 9.5zM1421.3 1344l9.5 -9.5l9.5 9.5l-9.5 9.5zM1421.6 1345l9.5 -9.5l9.5 9.5l-9.5 9.5zM1421.8 1350.9l9.5 -9.5l9.5 9.5l-9.5 9.5zM1422.1 1350.9l9.5 -9.5l9.5 9.5l-9.5 9.5zM1422.3 1348.8l9.5 -9.5l9.5 9.5l-9.5 9.5zM1422.5 1349.4l9.5 -9.5l9.5 9.5l-9.5 9.5zM1422.8 1345.5l9.5 -9.5l9.5 9.5l-9.5 9.5zM1423 1344.2l9.5 -9.5l9.5 9.5l-9.5 9.5zM1423.3 1342.3l9.5 -9.5l9.5 9.5l-9.5 9.5zM1423.5 1347l9.5 -9.5l9.5 9.5l-9.5 9.5zM1423.8 1343.8l9.5 -9.5l9.5 9.5l-9.5 9.5zM1424 1347.6l9.5 -9.5l9.5 9.5l-9.5 9.5zM1424.2 1352.5l9.5 -9.5l9.5 9.5l-9.5 9.5zM1424.5 1351.8l9.5 -9.5l9.5 9.5l-9.5 9.5zM1424.7 1355.5l9.5 -9.5l9.5 9.5l-9.5 9.5zM1424.9 1345.2l9.5 -9.5l9.5 9.5l-9.5 9.5zM1425.2 1339.3l9.5 -9.5l9.5 9.5l-9.5 9.5zM1425.4 1344.5l9.5 -9.5l9.5 9.5l-9.5 9.5zM1425.6 1359.1l9.5 -9.5l9.5 9.5l-9.5 9.5zM1425.8 1353.2l9.5 -9.5l9.5 9.5l-9.5 9.5zM1426.1 1347.9l9.5 -9.5l9.5 9.5l-9.5 9.5zM1426.3 1356.3l9.5 -9.5l9.5 9.5l-9.5 9.5zM1426.5 1348.2l9.5 -9.5l9.5 9.5l-9.5 9.5zM1426.7 1358.2l9.5 -9.5l9.5 9.5l-9.5 9.5zM1427 1348.4l9.5 -9.5l9.5 9.5l-9.5 9.5zM1427.2 1348.5l9.5 -9.5l9.5 9.5l-9.5 9.5zM1427.4 1353.9l9.5 -9.5l9.5 9.5l-9.5 9.5zM1427.6 1345.1l9.5 -9.5l9.5 9.5l-9.5 9.5zM1427.8 1349.9l9.5 -9.5l9.5 9.5l-9.5 9.5zM1428.1 1360.2l9.5 -9.5l9.5 9.5l-9.5 9.5zM1428.3 1353l9.5 -9.5l9.5 9.5l-9.5 9.5zM1428.5 1345.6l9.5 -9.5l9.5 9.5l-9.5 9.5zM1428.7 1349.8l9.5 -9.5l9.5 9.5l-9.5 9.5zM1428.9 1351l9.5 -9.5l9.5 9.5l-9.5 9.5zM1429.1 1347.5l9.5 -9.5l9.5 9.5l-9.5 9.5zM1429.4 1353.3l9.5 -9.5l9.5 9.5l-9.5 9.5zM1429.6 1357.6l9.5 -9.5l9.5 9.5l-9.5 9.5zM1429.8 1351.7l9.5 -9.5l9.5 9.5l-9.5 9.5zM1430 1356l9.5 -9.5l9.5 9.5l-9.5 9.5zM1430.2 1353.1l9.5 -9.5l9.5 9.5l-9.5 9.5zM1430.4 1352.4l9.5 -9.5l9.5 9.5l-9.5 9.5zM1430.6 1348.1l9.5 -9.5l9.5 9.5l-9.5 9.5zM1430.8 1356.8l9.5 -9.5l9.5 9.5l-9.5 9.5zM1431 1358.9l9.5 -9.5l9.5 9.5l-9.5 9.5zM1431.2 1349.7l9.5 -9.5l9.5 9.5l-9.5 9.5zM1431.4 1347.6l9.5 -9.5l9.5 9.5l-9.5 9.5zM1431.6 1354.9l9.5 -9.5l9.5 9.5l-9.5 9.5zM1431.8 1352.8l9.5 -9.5l9.5 9.5l-9.5 9.5zM1432 1358.2l9.5 -9.5l9.5 9.5l-9.5 9.5zM1432.2 1355l9.5 -9.5l9.5 9.5l-9.5 9.5zM1432.4 1351.8l9.5 -9.5l9.5 9.5l-9.5 9.5zM1432.6 1345.1l9.5 -9.5l9.5 9.5l-9.5 9.5zM1432.8 1355.9l9.5 -9.5l9.5 9.5l-9.5 9.5zM1433 1353.2l9.5 -9.5l9.5 9.5l-9.5 9.5zM1433.2 1345.8l9.5 -9.5l9.5 9.5l-9.5 9.5zM1433.4 1344.6l9.5 -9.5l9.5 9.5l-9.5 9.5zM1433.6 1342.8l9.5 -9.5l9.5 9.5l-9.5 9.5zM1433.8 1356.4l9.5 -9.5l9.5 9.5l-9.5 9.5zM1433.9 1350.6l9.5 -9.5l9.5 9.5l-9.5 9.5zM1434.1 1334.5l9.5 -9.5l9.5 9.5l-9.5 9.5zM1434.3 1348.2l9.5 -9.5l9.5 9.5l-9.5 9.5zM1434.5 1349.6l9.5 -9.5l9.5 9.5l-9.5 9.5zM1434.7 1352.6l9.5 -9.5l9.5 9.5l-9.5 9.5zM1434.9 1353.5l9.5 -9.5l9.5 9.5l-9.5 9.5zM1435.1 1351.4l9.5 -9.5l9.5 9.5l-9.5 9.5zM1435.2 1357.7l9.5 -9.5l9.5 9.5l-9.5 9.5zM1435.4 1359.4l9.5 -9.5l9.5 9.5l-9.5 9.5zM1435.6 1352.3l9.5 -9.5l9.5 9.5l-9.5 9.5zM1435.8 1362.9l9.5 -9.5l9.5 9.5l-9.5 9.5zM1436 1352.9l9.5 -9.5l9.5 9.5l-9.5 9.5zM1436.2 1348.6l9.5 -9.5l9.5 9.5l-9.5 9.5zM1436.3 1354.7l9.5 -9.5l9.5 9.5l-9.5 9.5zM1436.5 1345.3l9.5 -9.5l9.5 9.5l-9.5 9.5zM1436.7 1352.1l9.5 -9.5l9.5 9.5l-9.5 9.5zM1436.9 1347.6l9.5 -9.5l9.5 9.5l-9.5 9.5zM1437 1351.4l9.5 -9.5l9.5 9.5l-9.5 9.5zM1437.2 1355.3l9.5 -9.5l9.5 9.5l-9.5 9.5zM1437.4 1339.2l9.5 -9.5l9.5 9.5l-9.5 9.5zM1437.6 1356.6l9.5 -9.5l9.5 9.5l-9.5 9.5zM1437.7 1355.9l9.5 -9.5l9.5 9.5l-9.5 9.5zM1437.9 1353l9.5 -9.5l9.5 9.5l-9.5 9.5zM1438.1 1358.9l9.5 -9.5l9.5 9.5l-9.5 9.5zM1438.2 1356.6l9.5 -9.5l9.5 9.5l-9.5 9.5zM1438.4 1352.2l9.5 -9.5l9.5 9.5l-9.5 9.5zM1438.6 1348.2l9.5 -9.5l9.5 9.5l-9.5 9.5zM1438.7 1359.3l9.5 -9.5l9.5 9.5l-9.5 9.5zM1438.9 1359.5l9.5 -9.5l9.5 9.5l-9.5 9.5zM1439.1 1345.3l9.5 -9.5l9.5 9.5l-9.5 9.5zM1439.2 1350.1l9.5 -9.5l9.5 9.5l-9.5 9.5zM1439.4 1347.2l9.5 -9.5l9.5 9.5l-9.5 9.5zM1439.6 1360.3l9.5 -9.5l9.5 9.5l-9.5 9.5zM1439.7 1351.2l9.5 -9.5l9.5 9.5l-9.5 9.5zM1439.9 1346.9l9.5 -9.5l9.5 9.5l-9.5 9.5zM1440 1364.9l9.5 -9.5l9.5 9.5l-9.5 9.5zM1440.2 1358.1l9.5 -9.5l9.5 9.5l-9.5 9.5zM1440.4 1356.7l9.5 -9.5l9.5 9.5l-9.5 9.5zM1440.5 1356.9l9.5 -9.5l9.5 9.5l-9.5 9.5zM1440.7 1354.1l9.5 -9.5l9.5 9.5l-9.5 9.5zM1440.8 1355.6l9.5 -9.5l9.5 9.5l-9.5 9.5zM1441 1361.4l9.5 -9.5l9.5 9.5l-9.5 9.5zM1441.1 1358.4l9.5 -9.5l9.5 9.5l-9.5 9.5zM1441.3 1352.4l9.5 -9.5l9.5 9.5l-9.5 9.5zM1441.5 1356.2l9.5 -9.5l9.5 9.5l-9.5 9.5zM1441.6 1368.3l9.5 -9.5l9.5 9.5l-9.5 9.5zM1441.8 1351.9l9.5 -9.5l9.5 9.5l-9.5 9.5zM1441.9 1346.7l9.5 -9.5l9.5 9.5l-9.5 9.5zM1442.1 1356.6l9.5 -9.5l9.5 9.5l-9.5 9.5zM1442.2 1348l9.5 -9.5l9.5 9.5l-9.5 9.5zM1442.4 1374l9.5 -9.5l9.5 9.5l-9.5 9.5zM1442.5 1360.3l9.5 -9.5l9.5 9.5l-9.5 9.5zM1442.7 1360.1l9.5 -9.5l9.5 9.5l-9.5 9.5zM1442.8 1358.6l9.5 -9.5l9.5 9.5l-9.5 9.5zM1443 1369.9l9.5 -9.5l9.5 9.5l-9.5 9.5zM1443.1 1349l9.5 -9.5l9.5 9.5l-9.5 9.5zM1443.2 1355.8l9.5 -9.5l9.5 9.5l-9.5 9.5zM1443.4 1344.4l9.5 -9.5l9.5 9.5l-9.5 9.5zM1443.5 1365.1l9.5 -9.5l9.5 9.5l-9.5 9.5zM1443.7 1355.8l9.5 -9.5l9.5 9.5l-9.5 9.5zM1443.8 1369l9.5 -9.5l9.5 9.5l-9.5 9.5zM1444 1354.4l9.5 -9.5l9.5 9.5l-9.5 9.5zM1444.1 1349l9.5 -9.5l9.5 9.5l-9.5 9.5zM1444.2 1351.4l9.5 -9.5l9.5 9.5l-9.5 9.5zM1444.4 1362.4l9.5 -9.5l9.5 9.5l-9.5 9.5zM1444.5 1350.6l9.5 -9.5l9.5 9.5l-9.5 9.5zM1444.7 1358.5l9.5 -9.5l9.5 9.5l-9.5 9.5zM1444.8 1351.4l9.5 -9.5l9.5 9.5l-9.5 9.5zM1444.9 1351.5l9.5 -9.5l9.5 9.5l-9.5 9.5zM1445.1 1352.7l9.5 -9.5l9.5 9.5l-9.5 9.5zM1445.2 1368.8l9.5 -9.5l9.5 9.5l-9.5 9.5zM1445.3 1348.9l9.5 -9.5l9.5 9.5l-9.5 9.5zM1445.5 1359.3l9.5 -9.5l9.5 9.5l-9.5 9.5zM1445.6 1363l9.5 -9.5l9.5 9.5l-9.5 9.5zM1445.7 1351.5l9.5 -9.5l9.5 9.5l-9.5 9.5zM1445.9 1345.8l9.5 -9.5l9.5 9.5l-9.5 9.5zM1446 1368.4l9.5 -9.5l9.5 9.5l-9.5 9.5zM1446.1 1370.2l9.5 -9.5l9.5 9.5l-9.5 9.5zM1446.3 1355.3l9.5 -9.5l9.5 9.5l-9.5 9.5zM1446.4 1348.1l9.5 -9.5l9.5 9.5l-9.5 9.5zM1446.5 1363.9l9.5 -9.5l9.5 9.5l-9.5 9.5zM1446.7 1357l9.5 -9.5l9.5 9.5l-9.5 9.5zM1446.8 1351.1l9.5 -9.5l9.5 9.5l-9.5 9.5zM1446.9 1354.5l9.5 -9.5l9.5 9.5l-9.5 9.5zM1447 1339.1l9.5 -9.5l9.5 9.5l-9.5 9.5zM1447.2 1351.2l9.5 -9.5l9.5 9.5l-9.5 9.5zM1447.3 1348.1l9.5 -9.5l9.5 9.5l-9.5 9.5zM1447.4 1347.4l9.5 -9.5l9.5 9.5l-9.5 9.5zM1447.5 1362.2l9.5 -9.5l9.5 9.5l-9.5 9.5zM1447.7 1359.7l9.5 -9.5l9.5 9.5l-9.5 9.5zM1447.8 1371l9.5 -9.5l9.5 9.5l-9.5 9.5zM1447.9 1336.7l9.5 -9.5l9.5 9.5l-9.5 9.5zM1448 1352.6l9.5 -9.5l9.5 9.5l-9.5 9.5zM1448.2 1351.2l9.5 -9.5l9.5 9.5l-9.5 9.5zM1448.3 1368.3l9.5 -9.5l9.5 9.5l-9.5 9.5zM1448.4 1366.1l9.5 -9.5l9.5 9.5l-9.5 9.5zM1448.5 1358.9l9.5 -9.5l9.5 9.5l-9.5 9.5zM1448.7 1358.7l9.5 -9.5l9.5 9.5l-9.5 9.5zM1448.8 1352l9.5 -9.5l9.5 9.5l-9.5 9.5zM1448.9 1353.9l9.5 -9.5l9.5 9.5l-9.5 9.5zM1449 1354.5l9.5 -9.5l9.5 9.5l-9.5 9.5zM1449.1 1337.9l9.5 -9.5l9.5 9.5l-9.5 9.5zM1449.3 1373.5l9.5 -9.5l9.5 9.5l-9.5 9.5zM1449.4 1364.2l9.5 -9.5l9.5 9.5l-9.5 9.5zM1449.5 1375.2l9.5 -9.5l9.5 9.5l-9.5 9.5zM1449.6 1368.4l9.5 -9.5l9.5 9.5l-9.5 9.5zM1449.8 1362.4l9.5 -9.5l9.5 9.5l-9.5 9.5zM1449.9 1365.2l9.5 -9.5l9.5 9.5l-9.5 9.5zM1450 1344.6l9.5 -9.5l9.5 9.5l-9.5 9.5zM1450.1 1350.2l9.5 -9.5l9.5 9.5l-9.5 9.5zM1450.3 1365.5l9.5 -9.5l9.5 9.5l-9.5 9.5zM1450.4 1355.4l9.5 -9.5l9.5 9.5l-9.5 9.5zM1450.5 1345.2l9.5 -9.5l9.5 9.5l-9.5 9.5zM1450.6 1358.5l9.5 -9.5l9.5 9.5l-9.5 9.5zM1450.7 1348l9.5 -9.5l9.5 9.5l-9.5 9.5zM1450.9 1358.7l9.5 -9.5l9.5 9.5l-9.5 9.5zM1451 1371.8l9.5 -9.5l9.5 9.5l-9.5 9.5zM1451.1 1349.3l9.5 -9.5l9.5 9.5l-9.5 9.5zM1451.2 1355.1l9.5 -9.5l9.5 9.5l-9.5 9.5zM1451.4 1363.5l9.5 -9.5l9.5 9.5l-9.5 9.5zM1451.5 1358.7l9.5 -9.5l9.5 9.5l-9.5 9.5zM1451.6 1360.5l9.5 -9.5l9.5 9.5l-9.5 9.5zM1451.7 1351.8l9.5 -9.5l9.5 9.5l-9.5 9.5zM1451.8 1356.2l9.5 -9.5l9.5 9.5l-9.5 9.5zM1452 1338.8l9.5 -9.5l9.5 9.5l-9.5 9.5zM1452.1 1357.6l9.5 -9.5l9.5 9.5l-9.5 9.5zM1452.2 1370.2l9.5 -9.5l9.5 9.5l-9.5 9.5zM1452.3 1349.6l9.5 -9.5l9.5 9.5l-9.5 9.5zM1452.4 1357.6l9.5 -9.5l9.5 9.5l-9.5 9.5zM1452.6 1365.4l9.5 -9.5l9.5 9.5l-9.5 9.5zM1452.7 1369.9l9.5 -9.5l9.5 9.5l-9.5 9.5zM1452.8 1369.4l9.5 -9.5l9.5 9.5l-9.5 9.5zM1452.9 1351.7l9.5 -9.5l9.5 9.5l-9.5 9.5zM1453 1355.8l9.5 -9.5l9.5 9.5l-9.5 9.5zM1453.2 1374.8l9.5 -9.5l9.5 9.5l-9.5 9.5zM1453.3 1355.4l9.5 -9.5l9.5 9.5l-9.5 9.5zM1453.4 1362.1l9.5 -9.5l9.5 9.5l-9.5 9.5zM1453.5 1352.2l9.5 -9.5l9.5 9.5l-9.5 9.5zM1453.6 1353.9l9.5 -9.5l9.5 9.5l-9.5 9.5zM1453.8 1333.5l9.5 -9.5l9.5 9.5l-9.5 9.5zM1453.9 1354.9l9.5 -9.5l9.5 9.5l-9.5 9.5zM1454 1340.3l9.5 -9.5l9.5 9.5l-9.5 9.5zM1454.1 1350.8l9.5 -9.5l9.5 9.5l-9.5 9.5zM1454.2 1351.1l9.5 -9.5l9.5 9.5l-9.5 9.5zM1454.4 1372l9.5 -9.5l9.5 9.5l-9.5 9.5zM1454.5 1366.8l9.5 -9.5l9.5 9.5l-9.5 9.5zM1454.6 1363.6l9.5 -9.5l9.5 9.5l-9.5 9.5zM1454.7 1355.3l9.5 -9.5l9.5 9.5l-9.5 9.5zM1454.8 1347.5l9.5 -9.5l9.5 9.5l-9.5 9.5zM1455 1364.4l9.5 -9.5l9.5 9.5l-9.5 9.5zM1455.1 1352.6l9.5 -9.5l9.5 9.5l-9.5 9.5zM1455.2 1359.1l9.5 -9.5l9.5 9.5l-9.5 9.5zM1455.3 1368.8l9.5 -9.5l9.5 9.5l-9.5 9.5zM1455.4 1358.5l9.5 -9.5l9.5 9.5l-9.5 9.5zM1455.5 1360l9.5 -9.5l9.5 9.5l-9.5 9.5zM1455.7 1351.2l9.5 -9.5l9.5 9.5l-9.5 9.5zM1455.8 1369.9l9.5 -9.5l9.5 9.5l-9.5 9.5zM1455.9 1365.2l9.5 -9.5l9.5 9.5l-9.5 9.5zM1456 1366.9l9.5 -9.5l9.5 9.5l-9.5 9.5zM1456.1 1375.3l9.5 -9.5l9.5 9.5l-9.5 9.5zM1456.3 1345.6l9.5 -9.5l9.5 9.5l-9.5 9.5zM1456.4 1360.8l9.5 -9.5l9.5 9.5l-9.5 9.5zM1456.5 1366.5l9.5 -9.5l9.5 9.5l-9.5 9.5zM1456.6 1363.7l9.5 -9.5l9.5 9.5l-9.5 9.5zM1456.7 1363.5l9.5 -9.5l9.5 9.5l-9.5 9.5zM1456.8 1365l9.5 -9.5l9.5 9.5l-9.5 9.5zM1457 1346.6l9.5 -9.5l9.5 9.5l-9.5 9.5zM1457.1 1360l9.5 -9.5l9.5 9.5l-9.5 9.5zM1457.2 1371.6l9.5 -9.5l9.5 9.5l-9.5 9.5zM1457.3 1360.3l9.5 -9.5l9.5 9.5l-9.5 9.5zM1457.4 1359l9.5 -9.5l9.5 9.5l-9.5 9.5zM1457.5 1368.7l9.5 -9.5l9.5 9.5l-9.5 9.5zM1457.7 1344.7l9.5 -9.5l9.5 9.5l-9.5 9.5zM1457.8 1364.7l9.5 -9.5l9.5 9.5l-9.5 9.5zM1457.9 1375.1l9.5 -9.5l9.5 9.5l-9.5 9.5zM1458 1358.7l9.5 -9.5l9.5 9.5l-9.5 9.5zM1458.1 1353.4l9.5 -9.5l9.5 9.5l-9.5 9.5zM1458.2 1366l9.5 -9.5l9.5 9.5l-9.5 9.5zM1458.4 1356.9l9.5 -9.5l9.5 9.5l-9.5 9.5zM1458.5 1353.5l9.5 -9.5l9.5 9.5l-9.5 9.5zM1458.6 1362.8l9.5 -9.5l9.5 9.5l-9.5 9.5zM1458.7 1345.7l9.5 -9.5l9.5 9.5l-9.5 9.5zM1458.8 1367.6l9.5 -9.5l9.5 9.5l-9.5 9.5zM1458.9 1350.1l9.5 -9.5l9.5 9.5l-9.5 9.5zM1459 1356.2l9.5 -9.5l9.5 9.5l-9.5 9.5zM1459.2 1368.2l9.5 -9.5l9.5 9.5l-9.5 9.5zM1459.3 1361.2l9.5 -9.5l9.5 9.5l-9.5 9.5zM1459.4 1363.9l9.5 -9.5l9.5 9.5l-9.5 9.5zM1459.5 1374.5l9.5 -9.5l9.5 9.5l-9.5 9.5zM1459.6 1375.9l9.5 -9.5l9.5 9.5l-9.5 9.5zM1459.7 1381.3l9.5 -9.5l9.5 9.5l-9.5 9.5zM1459.9 1356.4l9.5 -9.5l9.5 9.5l-9.5 9.5zM1460 1370.4l9.5 -9.5l9.5 9.5l-9.5 9.5zM1460.1 1346l9.5 -9.5l9.5 9.5l-9.5 9.5zM1460.2 1369.4l9.5 -9.5l9.5 9.5l-9.5 9.5zM1460.3 1374.2l9.5 -9.5l9.5 9.5l-9.5 9.5zM1460.4 1354.9l9.5 -9.5l9.5 9.5l-9.5 9.5zM1460.5 1366.3l9.5 -9.5l9.5 9.5l-9.5 9.5zM1460.7 1369.9l9.5 -9.5l9.5 9.5l-9.5 9.5zM1460.8 1360.4l9.5 -9.5l9.5 9.5l-9.5 9.5zM1460.9 1355.9l9.5 -9.5l9.5 9.5l-9.5 9.5zM1461 1376.4l9.5 -9.5l9.5 9.5l-9.5 9.5zM1461.1 1349.4l9.5 -9.5l9.5 9.5l-9.5 9.5zM1461.2 1363.7l9.5 -9.5l9.5 9.5l-9.5 9.5zM1461.3 1371.3l9.5 -9.5l9.5 9.5l-9.5 9.5zM1461.5 1364.4l9.5 -9.5l9.5 9.5l-9.5 9.5zM1461.6 1377.4l9.5 -9.5l9.5 9.5l-9.5 9.5zM1461.7 1376.5l9.5 -9.5l9.5 9.5l-9.5 9.5zM1461.8 1366.8l9.5 -9.5l9.5 9.5l-9.5 9.5zM1461.9 1379.4l9.5 -9.5l9.5 9.5l-9.5 9.5zM1462 1369.6l9.5 -9.5l9.5 9.5l-9.5 9.5zM1462.1 1350.5l9.5 -9.5l9.5 9.5l-9.5 9.5zM1462.3 1359.3l9.5 -9.5l9.5 9.5l-9.5 9.5zM1462.4 1365.1l9.5 -9.5l9.5 9.5l-9.5 9.5zM1462.5 1364.4l9.5 -9.5l9.5 9.5l-9.5 9.5zM1462.6 1346.1l9.5 -9.5l9.5 9.5l-9.5 9.5zM1462.7 1384.9l9.5 -9.5l9.5 9.5l-9.5 9.5zM1462.8 1347.5l9.5 -9.5l9.5 9.5l-9.5 9.5zM1462.9 1351.7l9.5 -9.5l9.5 9.5l-9.5 9.5zM1463 1367l9.5 -9.5l9.5 9.5l-9.5 9.5zM1463.2 1364.7l9.5 -9.5l9.5 9.5l-9.5 9.5zM1463.3 1377.7l9.5 -9.5l9.5 9.5l-9.5 9.5zM1463.4 1365l9.5 -9.5l9.5 9.5l-9.5 9.5zM1463.5 1366.5l9.5 -9.5l9.5 9.5l-9.5 9.5zM1463.6 1370l9.5 -9.5l9.5 9.5l-9.5 9.5zM1463.7 1355.8l9.5 -9.5l9.5 9.5l-9.5 9.5zM1463.8 1350.3l9.5 -9.5l9.5 9.5l-9.5 9.5zM1463.9 1358.5l9.5 -9.5l9.5 9.5l-9.5 9.5zM1464.1 1373l9.5 -9.5l9.5 9.5l-9.5 9.5zM1464.2 1360.3l9.5 -9.5l9.5 9.5l-9.5 9.5zM1464.3 1375.4l9.5 -9.5l9.5 9.5l-9.5 9.5zM1464.4 1357.7l9.5 -9.5l9.5 9.5l-9.5 9.5zM1464.5 1370.6l9.5 -9.5l9.5 9.5l-9.5 9.5zM1464.6 1363.5l9.5 -9.5l9.5 9.5l-9.5 9.5zM1464.7 1371.6l9.5 -9.5l9.5 9.5l-9.5 9.5zM1464.8 1363.4l9.5 -9.5l9.5 9.5l-9.5 9.5zM1464.9 1365.3l9.5 -9.5l9.5 9.5l-9.5 9.5zM1465.1 1358.8l9.5 -9.5l9.5 9.5l-9.5 9.5zM1465.2 1375.8l9.5 -9.5l9.5 9.5l-9.5 9.5zM1465.3 1363.1l9.5 -9.5l9.5 9.5l-9.5 9.5zM1465.4 1368.5l9.5 -9.5l9.5 9.5l-9.5 9.5zM1465.5 1370l9.5 -9.5l9.5 9.5l-9.5 9.5zM1465.6 1354.7l9.5 -9.5l9.5 9.5l-9.5 9.5zM1465.7 1355.4l9.5 -9.5l9.5 9.5l-9.5 9.5zM1465.8 1363.2l9.5 -9.5l9.5 9.5l-9.5 9.5zM1465.9 1376.3l9.5 -9.5l9.5 9.5l-9.5 9.5zM1466.1 1353.2l9.5 -9.5l9.5 9.5l-9.5 9.5zM1466.2 1353.6l9.5 -9.5l9.5 9.5l-9.5 9.5zM1466.3 1354l9.5 -9.5l9.5 9.5l-9.5 9.5zM1466.4 1359.9l9.5 -9.5l9.5 9.5l-9.5 9.5zM1466.5 1353.2l9.5 -9.5l9.5 9.5l-9.5 9.5zM1466.6 1355.7l9.5 -9.5l9.5 9.5l-9.5 9.5zM1466.7 1369.2l9.5 -9.5l9.5 9.5l-9.5 9.5zM1466.8 1353.1l9.5 -9.5l9.5 9.5l-9.5 9.5zM1466.9 1363.9l9.5 -9.5l9.5 9.5l-9.5 9.5zM1467 1352.3l9.5 -9.5l9.5 9.5l-9.5 9.5zM1467.2 1362.1l9.5 -9.5l9.5 9.5l-9.5 9.5zM1467.3 1369.3l9.5 -9.5l9.5 9.5l-9.5 9.5zM1467.4 1344l9.5 -9.5l9.5 9.5l-9.5 9.5zM1467.5 1364.7l9.5 -9.5l9.5 9.5l-9.5 9.5zM1467.6 1366.5l9.5 -9.5l9.5 9.5l-9.5 9.5zM1467.7 1363.7l9.5 -9.5l9.5 9.5l-9.5 9.5zM1467.8 1366.9l9.5 -9.5l9.5 9.5l-9.5 9.5zM1467.9 1368.5l9.5 -9.5l9.5 9.5l-9.5 9.5zM1468 1351.3l9.5 -9.5l9.5 9.5l-9.5 9.5zM1468.1 1363.2l9.5 -9.5l9.5 9.5l-9.5 9.5zM1468.3 1371l9.5 -9.5l9.5 9.5l-9.5 9.5zM1468.4 1377.6l9.5 -9.5l9.5 9.5l-9.5 9.5zM1468.5 1350.7l9.5 -9.5l9.5 9.5l-9.5 9.5zM1468.6 1358.5l9.5 -9.5l9.5 9.5l-9.5 9.5zM1468.7 1350.7l9.5 -9.5l9.5 9.5l-9.5 9.5zM1468.8 1364.5l9.5 -9.5l9.5 9.5l-9.5 9.5zM1468.9 1353.8l9.5 -9.5l9.5 9.5l-9.5 9.5zM1469 1354.7l9.5 -9.5l9.5 9.5l-9.5 9.5zM1469.1 1372.6l9.5 -9.5l9.5 9.5l-9.5 9.5zM1469.2 1387.6l9.5 -9.5l9.5 9.5l-9.5 9.5zM1469.4 1343.8l9.5 -9.5l9.5 9.5l-9.5 9.5zM1469.5 1381.6l9.5 -9.5l9.5 9.5l-9.5 9.5zM1469.6 1355.5l9.5 -9.5l9.5 9.5l-9.5 9.5zM1469.7 1371.9l9.5 -9.5l9.5 9.5l-9.5 9.5zM1469.8 1368.6l9.5 -9.5l9.5 9.5l-9.5 9.5zM1469.9 1377.6l9.5 -9.5l9.5 9.5l-9.5 9.5zM1470 1362.9l9.5 -9.5l9.5 9.5l-9.5 9.5zM1470.1 1356.6l9.5 -9.5l9.5 9.5l-9.5 9.5zM1470.2 1364.5l9.5 -9.5l9.5 9.5l-9.5 9.5zM1470.3 1373.3l9.5 -9.5l9.5 9.5l-9.5 9.5zM1470.5 1356l9.5 -9.5l9.5 9.5l-9.5 9.5zM1470.6 1369.4l9.5 -9.5l9.5 9.5l-9.5 9.5zM1470.7 1365.2l9.5 -9.5l9.5 9.5l-9.5 9.5zM1470.8 1367.2l9.5 -9.5l9.5 9.5l-9.5 9.5zM1470.9 1365.4l9.5 -9.5l9.5 9.5l-9.5 9.5zM1471 1371.6l9.5 -9.5l9.5 9.5l-9.5 9.5zM1471.1 1373.7l9.5 -9.5l9.5 9.5l-9.5 9.5zM1471.2 1362.5l9.5 -9.5l9.5 9.5l-9.5 9.5zM1471.3 1361.9l9.5 -9.5l9.5 9.5l-9.5 9.5zM1471.4 1343.3l9.5 -9.5l9.5 9.5l-9.5 9.5zM1471.6 1356.5l9.5 -9.5l9.5 9.5l-9.5 9.5zM1471.7 1349.8l9.5 -9.5l9.5 9.5l-9.5 9.5zM1471.8 1372.7l9.5 -9.5l9.5 9.5l-9.5 9.5zM1471.9 1354.5l9.5 -9.5l9.5 9.5l-9.5 9.5zM1472 1358.5l9.5 -9.5l9.5 9.5l-9.5 9.5zM1472.1 1371.2l9.5 -9.5l9.5 9.5l-9.5 9.5zM1472.2 1376.1l9.5 -9.5l9.5 9.5l-9.5 9.5zM1472.3 1378.5l9.5 -9.5l9.5 9.5l-9.5 9.5zM1472.4 1357l9.5 -9.5l9.5 9.5l-9.5 9.5zM1472.5 1368.4l9.5 -9.5l9.5 9.5l-9.5 9.5zM1472.7 1377.1l9.5 -9.5l9.5 9.5l-9.5 9.5zM1472.8 1357.1l9.5 -9.5l9.5 9.5l-9.5 9.5zM1472.9 1363.6l9.5 -9.5l9.5 9.5l-9.5 9.5zM1473 1353.3l9.5 -9.5l9.5 9.5l-9.5 9.5zM1473.1 1359.4l9.5 -9.5l9.5 9.5l-9.5 9.5zM1473.2 1373.5l9.5 -9.5l9.5 9.5l-9.5 9.5zM1473.3 1367.1l9.5 -9.5l9.5 9.5l-9.5 9.5zM1473.4 1362.4l9.5 -9.5l9.5 9.5l-9.5 9.5zM1473.5 1360.4l9.5 -9.5l9.5 9.5l-9.5 9.5zM1473.6 1382.2l9.5 -9.5l9.5 9.5l-9.5 9.5zM1473.8 1374.2l9.5 -9.5l9.5 9.5l-9.5 9.5zM1473.9 1353.3l9.5 -9.5l9.5 9.5l-9.5 9.5zM1474 1389.2l9.5 -9.5l9.5 9.5l-9.5 9.5zM1474.1 1362.1l9.5 -9.5l9.5 9.5l-9.5 9.5zM1474.2 1364.9l9.5 -9.5l9.5 9.5l-9.5 9.5zM1474.3 1361.3l9.5 -9.5l9.5 9.5l-9.5 9.5zM1474.4 1360.5l9.5 -9.5l9.5 9.5l-9.5 9.5zM1474.5 1373.3l9.5 -9.5l9.5 9.5l-9.5 9.5zM1474.6 1351.3l9.5 -9.5l9.5 9.5l-9.5 9.5zM1474.7 1367l9.5 -9.5l9.5 9.5l-9.5 9.5zM1474.9 1363.2l9.5 -9.5l9.5 9.5l-9.5 9.5zM1475 1385.2l9.5 -9.5l9.5 9.5l-9.5 9.5zM1475.1 1370.9l9.5 -9.5l9.5 9.5l-9.5 9.5zM1475.2 1371.4l9.5 -9.5l9.5 9.5l-9.5 9.5zM1475.3 1372.4l9.5 -9.5l9.5 9.5l-9.5 9.5zM1475.4 1373.2l9.5 -9.5l9.5 9.5l-9.5 9.5zM1475.5 1368.2l9.5 -9.5l9.5 9.5l-9.5 9.5zM1475.6 1340.9l9.5 -9.5l9.5 9.5l-9.5 9.5zM1475.7 1371.5l9.5 -9.5l9.5 9.5l-9.5 9.5zM1475.8 1363.6l9.5 -9.5l9.5 9.5l-9.5 9.5zM1476 1374.6l9.5 -9.5l9.5 9.5l-9.5 9.5zM1476.1 1370.4l9.5 -9.5l9.5 9.5l-9.5 9.5zM1476.2 1361.3l9.5 -9.5l9.5 9.5l-9.5 9.5zM1476.3 1357.6l9.5 -9.5l9.5 9.5l-9.5 9.5zM1476.4 1356.3l9.5 -9.5l9.5 9.5l-9.5 9.5zM1476.5 1370.3l9.5 -9.5l9.5 9.5l-9.5 9.5zM1476.6 1366.1l9.5 -9.5l9.5 9.5l-9.5 9.5zM1476.7 1357.8l9.5 -9.5l9.5 9.5l-9.5 9.5zM1476.8 1363.4l9.5 -9.5l9.5 9.5l-9.5 9.5zM1476.9 1371.1l9.5 -9.5l9.5 9.5l-9.5 9.5zM1477.1 1360.3l9.5 -9.5l9.5 9.5l-9.5 9.5zM1477.2 1366.1l9.5 -9.5l9.5 9.5l-9.5 9.5zM1477.3 1360.9l9.5 -9.5l9.5 9.5l-9.5 9.5zM1477.4 1339.6l9.5 -9.5l9.5 9.5l-9.5 9.5zM1477.5 1368.5l9.5 -9.5l9.5 9.5l-9.5 9.5zM1477.6 1368.3l9.5 -9.5l9.5 9.5l-9.5 9.5zM1477.7 1376.4l9.5 -9.5l9.5 9.5l-9.5 9.5zM1477.8 1381.7l9.5 -9.5l9.5 9.5l-9.5 9.5zM1477.9 1359.9l9.5 -9.5l9.5 9.5l-9.5 9.5zM1478 1374.2l9.5 -9.5l9.5 9.5l-9.5 9.5zM1478.2 1370.7l9.5 -9.5l9.5 9.5l-9.5 9.5zM1478.3 1368.7l9.5 -9.5l9.5 9.5l-9.5 9.5zM1478.4 1376.8l9.5 -9.5l9.5 9.5l-9.5 9.5zM1478.5 1377.4l9.5 -9.5l9.5 9.5l-9.5 9.5zM1478.6 1354.2l9.5 -9.5l9.5 9.5l-9.5 9.5zM1478.7 1384l9.5 -9.5l9.5 9.5l-9.5 9.5zM1478.8 1366.1l9.5 -9.5l9.5 9.5l-9.5 9.5zM1478.9 1360.8l9.5 -9.5l9.5 9.5l-9.5 9.5zM1479 1360.5l9.5 -9.5l9.5 9.5l-9.5 9.5zM1479.1 1365.7l9.5 -9.5l9.5 9.5l-9.5 9.5zM1479.3 1355.9l9.5 -9.5l9.5 9.5l-9.5 9.5zM1479.4 1380.1l9.5 -9.5l9.5 9.5l-9.5 9.5zM1479.5 1372.9l9.5 -9.5l9.5 9.5l-9.5 9.5zM1479.6 1358.4l9.5 -9.5l9.5 9.5l-9.5 9.5zM1479.7 1377.3l9.5 -9.5l9.5 9.5l-9.5 9.5zM1479.8 1370.9l9.5 -9.5l9.5 9.5l-9.5 9.5zM1479.9 1369.3l9.5 -9.5l9.5 9.5l-9.5 9.5zM1480 1378.9l9.5 -9.5l9.5 9.5l-9.5 9.5zM1480.1 1367.4l9.5 -9.5l9.5 9.5l-9.5 9.5zM1480.2 1365.6l9.5 -9.5l9.5 9.5l-9.5 9.5zM1480.4 1374l9.5 -9.5l9.5 9.5l-9.5 9.5zM1480.5 1348.4l9.5 -9.5l9.5 9.5l-9.5 9.5zM1480.6 1355.4l9.5 -9.5l9.5 9.5l-9.5 9.5zM1480.7 1374.2l9.5 -9.5l9.5 9.5l-9.5 9.5zM1480.8 1380.4l9.5 -9.5l9.5 9.5l-9.5 9.5zM1480.9 1350.1l9.5 -9.5l9.5 9.5l-9.5 9.5zM1481 1368.9l9.5 -9.5l9.5 9.5l-9.5 9.5zM1481.1 1361.4l9.5 -9.5l9.5 9.5l-9.5 9.5zM1481.2 1365.7l9.5 -9.5l9.5 9.5l-9.5 9.5zM1481.3 1375.5l9.5 -9.5l9.5 9.5l-9.5 9.5zM1481.5 1385.4l9.5 -9.5l9.5 9.5l-9.5 9.5zM1481.6 1388.4l9.5 -9.5l9.5 9.5l-9.5 9.5zM1481.7 1379.4l9.5 -9.5l9.5 9.5l-9.5 9.5zM1481.8 1376.1l9.5 -9.5l9.5 9.5l-9.5 9.5zM1481.9 1370.6l9.5 -9.5l9.5 9.5l-9.5 9.5zM1482 1348.4l9.5 -9.5l9.5 9.5l-9.5 9.5zM1482.1 1373.5l9.5 -9.5l9.5 9.5l-9.5 9.5zM1482.2 1356l9.5 -9.5l9.5 9.5l-9.5 9.5zM1482.3 1356.9l9.5 -9.5l9.5 9.5l-9.5 9.5zM1482.4 1370.6l9.5 -9.5l9.5 9.5l-9.5 9.5zM1482.6 1351.8l9.5 -9.5l9.5 9.5l-9.5 9.5zM1482.7 1388.9l9.5 -9.5l9.5 9.5l-9.5 9.5zM1482.8 1376l9.5 -9.5l9.5 9.5l-9.5 9.5zM1482.9 1373.4l9.5 -9.5l9.5 9.5l-9.5 9.5zM1483 1374.8l9.5 -9.5l9.5 9.5l-9.5 9.5zM1483.1 1372.2l9.5 -9.5l9.5 9.5l-9.5 9.5zM1483.2 1370.2l9.5 -9.5l9.5 9.5l-9.5 9.5zM1483.3 1377.4l9.5 -9.5l9.5 9.5l-9.5 9.5zM1483.4 1362.2l9.5 -9.5l9.5 9.5l-9.5 9.5zM1483.5 1372.7l9.5 -9.5l9.5 9.5l-9.5 9.5zM1483.7 1371.5l9.5 -9.5l9.5 9.5l-9.5 9.5zM1483.8 1378.3l9.5 -9.5l9.5 9.5l-9.5 9.5zM1483.9 1357.6l9.5 -9.5l9.5 9.5l-9.5 9.5zM1484 1372.5l9.5 -9.5l9.5 9.5l-9.5 9.5zM1484.1 1368.4l9.5 -9.5l9.5 9.5l-9.5 9.5zM1484.2 1376.9l9.5 -9.5l9.5 9.5l-9.5 9.5zM1484.3 1375.9l9.5 -9.5l9.5 9.5l-9.5 9.5zM1484.4 1372l9.5 -9.5l9.5 9.5l-9.5 9.5zM1484.5 1375.1l9.5 -9.5l9.5 9.5l-9.5 9.5zM1484.6 1375l9.5 -9.5l9.5 9.5l-9.5 9.5zM1484.8 1385.2l9.5 -9.5l9.5 9.5l-9.5 9.5zM1484.9 1373.5l9.5 -9.5l9.5 9.5l-9.5 9.5zM1485 1376.1l9.5 -9.5l9.5 9.5l-9.5 9.5zM1485.1 1359.9l9.5 -9.5l9.5 9.5l-9.5 9.5zM1485.2 1368l9.5 -9.5l9.5 9.5l-9.5 9.5zM1485.3 1378.8l9.5 -9.5l9.5 9.5l-9.5 9.5zM1485.4 1381.9l9.5 -9.5l9.5 9.5l-9.5 9.5zM1485.5 1359.6l9.5 -9.5l9.5 9.5l-9.5 9.5zM1485.6 1370l9.5 -9.5l9.5 9.5l-9.5 9.5zM1485.7 1367.5l9.5 -9.5l9.5 9.5l-9.5 9.5zM1485.9 1371.1l9.5 -9.5l9.5 9.5l-9.5 9.5zM1486 1365.2l9.5 -9.5l9.5 9.5l-9.5 9.5zM1486.1 1365.9l9.5 -9.5l9.5 9.5l-9.5 9.5zM1486.2 1369.9l9.5 -9.5l9.5 9.5l-9.5 9.5zM1486.3 1372l9.5 -9.5l9.5 9.5l-9.5 9.5zM1486.4 1381.9l9.5 -9.5l9.5 9.5l-9.5 9.5zM1486.5 1361.3l9.5 -9.5l9.5 9.5l-9.5 9.5zM1486.6 1360.2l9.5 -9.5l9.5 9.5l-9.5 9.5zM1486.7 1379.5l9.5 -9.5l9.5 9.5l-9.5 9.5zM1486.8 1376.4l9.5 -9.5l9.5 9.5l-9.5 9.5zM1487 1368.8l9.5 -9.5l9.5 9.5l-9.5 9.5zM1487.1 1358.2l9.5 -9.5l9.5 9.5l-9.5 9.5zM1487.2 1382.6l9.5 -9.5l9.5 9.5l-9.5 9.5zM1487.3 1359.2l9.5 -9.5l9.5 9.5l-9.5 9.5zM1487.4 1383.6l9.5 -9.5l9.5 9.5l-9.5 9.5z" fill="none" stroke="#f00" stroke-width="2.4" stroke-linejoin="miter" shape-rendering="crispEdges"/><path d="M403.6 138a8.0 8.5 0 1 0 16.0 0a8.0 8.5 0 1 0 -16.0 0zM410 147.4a8.0 8.5 0 1 0 16.0 0a8.0 8.5 0 1 0 -16.0 0zM420.1 160.7a8.0 8.5 0 1 0 16.0 0a8.0 8.5 0 1 0 -16.0 0zM429 177.4a8.0 8.5 0 1 0 16.0 0a8.0 8.5 0 1 0 -16.0 0zM438 195.5a8.0 8.5 0 1 0 16.0 0a8.0 8.5 0 1 0 -16.0 0zM446.6 211.2a8.0 8.5 0 1 0 16.0 0a8.0 8.5 0 1 0 -16.0 0zM454.5 229a8.0 8.5 0 1 0 16.0 0a8.0 8.5 0 1 0 -16.0 0zM462 245.5a8.0 8.5 0 1 0 16.0 0a8.0 8.5 0 1 0 -16.0 0zM469 258a8.0 8.5 0 1 0 16.0 0a8.0 8.5 0 1 0 -16.0 0zM476.2 269.7a8.0 8.5 0 1 0 16.0 0a8.0 8.5 0 1 0 -16.0 0zM482 280.3a8.0 8.5 0 1 0 16.0 0a8.0 8.5 0 1 0 -16.0 0zM491.6 286.6a8.0 8.5 0 1 0 16.0 0a8.0 8.5 0 1 0 -16.0 0zM495.5 292.8a8.0 8.5 0 1 0 16.0 0a8.0 8.5 0 1 0 -16.0 0zM499.4 298.7a8.0 8.5 0 1 0 16.0 0a8.0 8.5 0 1 0 -16.0 0zM503.3 304a8.0 8.5 0 1 0 16.0 0a8.0 8.5 0 1 0 -16.0 0zM507.3 309.4a8.0 8.5 0 1 0 16.0 0a8.0 8.5 0 1 0 -16.0 0zM511.2 315.5a8.0 8.5 0 1 0 16.0 0a8.0 8.5 0 1 0 -16.0 0zM515.1 321.4a8.0 8.5 0 1 0 16.0 0a8.0 8.5 0 1 0 -16.0 0zM519 327.3a8.0 8.5 0 1 0 16.0 0a8.0 8.5 0 1 0 -16.0 0zM523 332.2a8.0 8.5 0 1 0 16.0 0a8.0 8.5 0 1 0 -16.0 0zM526.9 337.9a8.0 8.5 0 1 0 16.0 0a8.0 8.5 0 1 0 -16.0 0zM530.8 344.3a8.0 8.5 0 1 0 16.0 0a8.0 8.5 0 1 0 -16.0 0zM534.7 350a8.0 8.5 0 1 0 16.0 0a8.0 8.5 0 1 0 -16.0 0zM538.7 356.1a8.0 8.5 0 1 0 16.0 0a8.0 8.5 0 1 0 -16.0 0zM542.6 361.6a8.0 8.5 0 1 0 16.0 0a8.0 8.5 0 1 0 -16.0 0zM546.4 366.9a8.0 8.5 0 1 0 16.0 0a8.0 8.5 0 1 0 -16.0 0zM550.2 372.5a8.0 8.5 0 1 0 16.0 0a8.0 8.5 0 1 0 -16.0 0zM554 379.4a8.0 8.5 0 1 0 16.0 0a8.0 8.5 0 1 0 -16.0 0zM557.8 383.9a8.0 8.5 0 1 0 16.0 0a8.0 8.5 0 1 0 -16.0 0zM561.6 389.4a8.0 8.5 0 1 0 16.0 0a8.0 8.5 0 1 0 -16.0 0zM565.4 394.9a8.0 8.5 0 1 0 16.0 0a8.0 8.5 0 1 0 -16.0 0zM569.2 401.2a8.0 8.5 0 1 0 16.0 0a8.0 8.5 0 1 0 -16.0 0zM573 406.9a8.0 8.5 0 1 0 16.0 0a8.0 8.5 0 1 0 -16.0 0zM576.8 412.4a8.0 8.5 0 1 0 16.0 0a8.0 8.5 0 1 0 -16.0 0zM580.6 418.2a8.0 8.5 0 1 0 16.0 0a8.0 8.5 0 1 0 -16.0 0zM584.3 424.1a8.0 8.5 0 1 0 16.0 0a8.0 8.5 0 1 0 -16.0 0zM588.1 430.1a8.0 8.5 0 1 0 16.0 0a8.0 8.5 0 1 0 -16.0 0zM591.8 436.1a8.0 8.5 0 1 0 16.0 0a8.0 8.5 0 1 0 -16.0 0zM595.5 441.2a8.0 8.5 0 1 0 16.0 0a8.0 8.5 0 1 0 -16.0 0zM599.2 445.6a8.0 8.5 0 1 0 16.0 0a8.0 8.5 0 1 0 -16.0 0zM603 453a8.0 8.5 0 1 0 16.0 0a8.0 8.5 0 1 0 -16.0 0zM606.7 457.2a8.0 8.5 0 1 0 16.0 0a8.0 8.5 0 1 0 -16.0 0zM610.2 463.5a8.0 8.5 0 1 0 16.0 0a8.0 8.5 0 1 0 -16.0 0zM612.4 465.8a8.0 8.5 0 1 0 16.0 0a8.0 8.5 0 1 0 -16.0 0zM614.6 470.3a8.0 8.5 0 1 0 16.0 0a8.0 8.5 0 1 0 -16.0 0zM616.7 472.9a8.0 8.5 0 1 0 16.0 0a8.0 8.5 0 1 0 -16.0 0zM618.9 477.1a8.0 8.5 0 1 0 16.0 0a8.0 8.5 0 1 0 -16.0 0zM621 483.2a8.0 8.5 0 1 0 16.0 0a8.0 8.5 0 1 0 -16.0 0zM623.2 483.5a8.0 8.5 0 1 0 16.0 0a8.0 8.5 0 1 0 -16.0 0zM625.3 487.6a8.0 8.5 0 1 0 16.0 0a8.0 8.5 0 1 0 -16.0 0zM627.5 488.9a8.0 8.5 0 1 0 16.0 0a8.0 8.5 0 1 0 -16.0 0zM629.6 493.2a8.0 8.5 0 1 0 16.0 0a8.0 8.5 0 1 0 -16.0 0zM631.8 497.4a8.0 8.5 0 1 0 16.0 0a8.0 8.5 0 1 0 -16.0 0zM633.9 500a8.0 8.5 0 1 0 16.0 0a8.0 8.5 0 1 0 -16.0 0zM636 503.7a8.0 8.5 0 1 0 16.0 0a8.0 8.5 0 1 0 -16.0 0zM638.2 506.8a8.0 8.5 0 1 0 16.0 0a8.0 8.5 0 1 0 -16.0 0zM640.3 509a8.0 8.5 0 1 0 16.0 0a8.0 8.5 0 1 0 -16.0 0zM642.5 513.9a8.0 8.5 0 1 0 16.0 0a8.0 8.5 0 1 0 -16.0 0zM644.6 515.8a8.0 8.5 0 1 0 16.0 0a8.0 8.5 0 1 0 -16.0 0zM646.8 521.9a8.0 8.5 0 1 0 16.0 0a8.0 8.5 0 1 0 -16.0 0zM648.9 522.7a8.0 8.5 0 1 0 16.0 0a8.0 8.5 0 1 0 -16.0 0zM651.1 527.3a8.0 8.5 0 1 0 16.0 0a8.0 8.5 0 1 0 -16.0 0zM653.2 529.8a8.0 8.5 0 1 0 16.0 0a8.0 8.5 0 1 0 -16.0 0zM654.7 533.3a8.0 8.5 0 1 0 16.0 0a8.0 8.5 0 1 0 -16.0 0zM656.2 533.9a8.0 8.5 0 1 0 16.0 0a8.0 8.5 0 1 0 -16.0 0zM657.7 538a8.0 8.5 0 1 0 16.0 0a8.0 8.5 0 1 0 -16.0 0zM659.2 539a8.0 8.5 0 1 0 16.0 0a8.0 8.5 0 1 0 -16.0 0zM660.7 542.8a8.0 8.5 0 1 0 16.0 0a8.0 8.5 0 1 0 -16.0 0zM662.1 544.4a8.0 8.5 0 1 0 16.0 0a8.0 8.5 0 1 0 -16.0 0zM663.6 546.1a8.0 8.5 0 1 0 16.0 0a8.0 8.5 0 1 0 -16.0 0zM665.1 547.2a8.0 8.5 0 1 0 16.0 0a8.0 8.5 0 1 0 -16.0 0zM666.5 551.3a8.0 8.5 0 1 0 16.0 0a8.0 8.5 0 1 0 -16.0 0zM667.9 553.2a8.0 8.5 0 1 0 16.0 0a8.0 8.5 0 1 0 -16.0 0zM669.4 556.8a8.0 8.5 0 1 0 16.0 0a8.0 8.5 0 1 0 -16.0 0zM670.8 556.5a8.0 8.5 0 1 0 16.0 0a8.0 8.5 0 1 0 -16.0 0zM672.2 559.9a8.0 8.5 0 1 0 16.0 0a8.0 8.5 0 1 0 -16.0 0zM673.6 562a8.0 8.5 0 1 0 16.0 0a8.0 8.5 0 1 0 -16.0 0zM675 563.9a8.0 8.5 0 1 0 16.0 0a8.0 8.5 0 1 0 -16.0 0zM676.4 566a8.0 8.5 0 1 0 16.0 0a8.0 8.5 0 1 0 -16.0 0zM677.8 568.1a8.0 8.5 0 1 0 16.0 0a8.0 8.5 0 1 0 -16.0 0zM679.2 569.2a8.0 8.5 0 1 0 16.0 0a8.0 8.5 0 1 0 -16.0 0zM680.6 570.8a8.0 8.5 0 1 0 16.0 0a8.0 8.5 0 1 0 -16.0 0zM682 573.7a8.0 8.5 0 1 0 16.0 0a8.0 8.5 0 1 0 -16.0 0zM683.3 577.1a8.0 8.5 0 1 0 16.0 0a8.0 8.5 0 1 0 -16.0 0zM684.7 580.4a8.0 8.5 0 1 0 16.0 0a8.0 8.5 0 1 0 -16.0 0zM686 581.8a8.0 8.5 0 1 0 16.0 0a8.0 8.5 0 1 0 -16.0 0zM687.4 584a8.0 8.5 0 1 0 16.0 0a8.0 8.5 0 1 0 -16.0 0zM688.7 585.7a8.0 8.5 0 1 0 16.0 0a8.0 8.5 0 1 0 -16.0 0zM690 587.7a8.0 8.5 0 1 0 16.0 0a8.0 8.5 0 1 0 -16.0 0zM691.3 589a8.0 8.5 0 1 0 16.0 0a8.0 8.5 0 1 0 -16.0 0zM692.6 592a8.0 8.5 0 1 0 16.0 0a8.0 8.5 0 1 0 -16.0 0zM693.9 595.6a8.0 8.5 0 1 0 16.0 0a8.0 8.5 0 1 0 -16.0 0zM695.2 594.3a8.0 8.5 0 1 0 16.0 0a8.0 8.5 0 1 0 -16.0 0zM696.5 595.7a8.0 8.5 0 1 0 16.0 0a8.0 8.5 0 1 0 -16.0 0zM697.8 602.1a8.0 8.5 0 1 0 16.0 0a8.0 8.5 0 1 0 -16.0 0zM699.1 601.3a8.0 8.5 0 1 0 16.0 0a8.0 8.5 0 1 0 -16.0 0zM700.3 604.5a8.0 8.5 0 1 0 16.0 0a8.0 8.5 0 1 0 -16.0 0zM701.6 606.3a8.0 8.5 0 1 0 16.0 0a8.0 8.5 0 1 0 -16.0 0zM702.8 604.6a8.0 8.5 0 1 0 16.0 0a8.0 8.5 0 1 0 -16.0 0zM704 613a8.0 8.5 0 1 0 16.0 0a8.0 8.5 0 1 0 -16.0 0zM705.1 613.7a8.0 8.5 0 1 0 16.0 0a8.0 8.5 0 1 0 -16.0 0zM706.3 612.5a8.0 8.5 0 1 0 16.0 0a8.0 8.5 0 1 0 -16.0 0zM707.4 615.3a8.0 8.5 0 1 0 16.0 0a8.0 8.5 0 1 0 -16.0 0zM708.5 615.9a8.0 8.5 0 1 0 16.0 0a8.0 8.5 0 1 0 -16.0 0zM709.6 615.5a8.0 8.5 0 1 0 16.0 0a8.0 8.5 0 1 0 -16.0 0zM710.7 618.7a8.0 8.5 0 1 0 16.0 0a8.0 8.5 0 1 0 -16.0 0zM711.7 621.4a8.0 8.5 0 1 0 16.0 0a8.0 8.5 0 1 0 -16.0 0zM712.7 624.5a8.0 8.5 0 1 0 16.0 0a8.0 8.5 0 1 0 -16.0 0zM713.7 625.3a8.0 8.5 0 1 0 16.0 0a8.0 8.5 0 1 0 -16.0 0zM714.7 625.5a8.0 8.5 0 1 0 16.0 0a8.0 8.5 0 1 0 -16.0 0zM715.7 629.8a8.0 8.5 0 1 0 16.0 0a8.0 8.5 0 1 0 -16.0 0zM716.6 626.6a8.0 8.5 0 1 0 16.0 0a8.0 8.5 0 1 0 -16.0 0zM717.6 631.6a8.0 8.5 0 1 0 16.0 0a8.0 8.5 0 1 0 -16.0 0zM718.5 633.7a8.0 8.5 0 1 0 16.0 0a8.0 8.5 0 1 0 -16.0 0zM719.4 631.9a8.0 8.5 0 1 0 16.0 0a8.0 8.5 0 1 0 -16.0 0zM720.3 629.9a8.0 8.5 0 1 0 16.0 0a8.0 8.5 0 1 0 -16.0 0zM721.1 633.2a8.0 8.5 0 1 0 16.0 0a8.0 8.5 0 1 0 -16.0 0zM722 637.2a8.0 8.5 0 1 0 16.0 0a8.0 8.5 0 1 0 -16.0 0zM722.8 639.2a8.0 8.5 0 1 0 16.0 0a8.0 8.5 0 1 0 -16.0 0zM723.6 643a8.0 8.5 0 1 0 16.0 0a8.0 8.5 0 1 0 -16.0 0zM724.4 638.1a8.0 8.5 0 1 0 16.0 0a8.0 8.5 0 1 0 -16.0 0zM725.2 641.8a8.0 8.5 0 1 0 16.0 0a8.0 8.5 0 1 0 -16.0 0zM726 644.6a8.0 8.5 0 1 0 16.0 0a8.0 8.5 0 1 0 -16.0 0zM726.8 643.8a8.0 8.5 0 1 0 16.0 0a8.0 8.5 0 1 0 -16.0 0zM727.6 639.4a8.0 8.5 0 1 0 16.0 0a8.0 8.5 0 1 0 -16.0 0zM728.3 648.6a8.0 8.5 0 1 0 16.0 0a8.0 8.5 0 1 0 -16.0 0zM729.1 653.7a8.0 8.5 0 1 0 16.0 0a8.0 8.5 0 1 0 -16.0 0zM729.9 651.6a8.0 8.5 0 1 0 16.0 0a8.0 8.5 0 1 0 -16.0 0zM730.6 647.7a8.0 8.5 0 1 0 16.0 0a8.0 8.5 0 1 0 -16.0 0zM731.3 650.2a8.0 8.5 0 1 0 16.0 0a8.0 8.5 0 1 0 -16.0 0zM732.1 653a8.0 8.5 0 1 0 16.0 0a8.0 8.5 0 1 0 -16.0 0zM732.8 660.2a8.0 8.5 0 1 0 16.0 0a8.0 8.5 0 1 0 -16.0 0zM733.5 656.4a8.0 8.5 0 1 0 16.0 0a8.0 8.5 0 1 0 -16.0 0zM734.2 656.1a8.0 8.5 0 1 0 16.0 0a8.0 8.5 0 1 0 -16.0 0zM735 661.2a8.0 8.5 0 1 0 16.0 0a8.0 8.5 0 1 0 -16.0 0zM735.7 657.8a8.0 8.5 0 1 0 16.0 0a8.0 8.5 0 1 0 -16.0 0zM736.4 664.3a8.0 8.5 0 1 0 16.0 0a8.0 8.5 0 1 0 -16.0 0zM737.1 658.3a8.0 8.5 0 1 0 16.0 0a8.0 8.5 0 1 0 -16.0 0zM737.9 659.9a8.0 8.5 0 1 0 16.0 0a8.0 8.5 0 1 0 -16.0 0zM738.6 664.4a8.0 8.5 0 1 0 16.0 0a8.0 8.5 0 1 0 -16.0 0zM739.4 667.4a8.0 8.5 0 1 0 16.0 0a8.0 8.5 0 1 0 -16.0 0zM740.2 666.3a8.0 8.5 0 1 0 16.0 0a8.0 8.5 0 1 0 -16.0 0zM740.9 666.3a8.0 8.5 0 1 0 16.0 0a8.0 8.5 0 1 0 -16.0 0zM741.7 661.3a8.0 8.5 0 1 0 16.0 0a8.0 8.5 0 1 0 -16.0 0zM742.4 665.5a8.0 8.5 0 1 0 16.0 0a8.0 8.5 0 1 0 -16.0 0zM743.1 666.8a8.0 8.5 0 1 0 16.0 0a8.0 8.5 0 1 0 -16.0 0zM743.9 668a8.0 8.5 0 1 0 16.0 0a8.0 8.5 0 1 0 -16.0 0zM744.6 672.3a8.0 8.5 0 1 0 16.0 0a8.0 8.5 0 1 0 -16.0 0zM745.3 670.5a8.0 8.5 0 1 0 16.0 0a8.0 8.5 0 1 0 -16.0 0zM746 674.8a8.0 8.5 0 1 0 16.0 0a8.0 8.5 0 1 0 -16.0 0zM746.7 673.7a8.0 8.5 0 1 0 16.0 0a8.0 8.5 0 1 0 -16.0 0zM747.4 673.5a8.0 8.5 0 1 0 16.0 0a8.0 8.5 0 1 0 -16.0 0zM748.1 675.8a8.0 8.5 0 1 0 16.0 0a8.0 8.5 0 1 0 -16.0 0zM748.8 677.6a8.0 8.5 0 1 0 16.0 0a8.0 8.5 0 1 0 -16.0 0zM749.5 679.9a8.0 8.5 0 1 0 16.0 0a8.0 8.5 0 1 0 -16.0 0zM750.2 676.8a8.0 8.5 0 1 0 16.0 0a8.0 8.5 0 1 0 -16.0 0zM750.8 678.4a8.0 8.5 0 1 0 16.0 0a8.0 8.5 0 1 0 -16.0 0zM751.5 675.9a8.0 8.5 0 1 0 16.0 0a8.0 8.5 0 1 0 -16.0 0zM752.2 685.9a8.0 8.5 0 1 0 16.0 0a8.0 8.5 0 1 0 -16.0 0zM752.8 686.3a8.0 8.5 0 1 0 16.0 0a8.0 8.5 0 1 0 -16.0 0zM753.5 682.2a8.0 8.5 0 1 0 16.0 0a8.0 8.5 0 1 0 -16.0 0zM754.1 682.2a8.0 8.5 0 1 0 16.0 0a8.0 8.5 0 1 0 -16.0 0zM754.7 680.7a8.0 8.5 0 1 0 16.0 0a8.0 8.5 0 1 0 -16.0 0zM755.4 685.9a8.0 8.5 0 1 0 16.0 0a8.0 8.5 0 1 0 -16.0 0zM756 686.9a8.0 8.5 0 1 0 16.0 0a8.0 8.5 0 1 0 -16.0 0zM756.6 693.9a8.0 8.5 0 1 0 16.0 0a8.0 8.5 0 1 0 -16.0 0zM757.2 688.8a8.0 8.5 0 1 0 16.0 0a8.0 8.5 0 1 0 -16.0 0zM757.9 686.4a8.0 8.5 0 1 0 16.0 0a8.0 8.5 0 1 0 -16.0 0zM758.5 682a8.0 8.5 0 1 0 16.0 0a8.0 8.5 0 1 0 -16.0 0zM759.1 694.9a8.0 8.5 0 1 0 16.0 0a8.0 8.5 0 1 0 -16.0 0zM759.7 691.9a8.0 8.5 0 1 0 16.0 0a8.0 8.5 0 1 0 -16.0 0zM760.3 687a8.0 8.5 0 1 0 16.0 0a8.0 8.5 0 1 0 -16.0 0zM760.8 693.5a8.0 8.5 0 1 0 16.0 0a8.0 8.5 0 1 0 -16.0 0zM761.4 688.6a8.0 8.5 0 1 0 16.0 0a8.0 8.5 0 1 0 -16.0 0zM762 705.7a8.0 8.5 0 1 0 16.0 0a8.0 8.5 0 1 0 -16.0 0zM762.6 698.9a8.0 8.5 0 1 0 16.0 0a8.0 8.5 0 1 0 -16.0 0zM763.2 698a8.0 8.5 0 1 0 16.0 0a8.0 8.5 0 1 0 -16.0 0zM763.7 696.3a8.0 8.5 0 1 0 16.0 0a8.0 8.5 0 1 0 -16.0 0zM764.3 690.7a8.0 8.5 0 1 0 16.0 0a8.0 8.5 0 1 0 -16.0 0zM764.8 698a8.0 8.5 0 1 0 16.0 0a8.0 8.5 0 1 0 -16.0 0zM765.4 694.1a8.0 8.5 0 1 0 16.0 0a8.0 8.5 0 1 0 -16.0 0zM765.9 701.9a8.0 8.5 0 1 0 16.0 0a8.0 8.5 0 1 0 -16.0 0zM766.5 693.7a8.0 8.5 0 1 0 16.0 0a8.0 8.5 0 1 0 -16.0 0zM767 698.4a8.0 8.5 0 1 0 16.0 0a8.0 8.5 0 1 0 -16.0 0zM767.5 706.2a8.0 8.5 0 1 0 16.0 0a8.0 8.5 0 1 0 -16.0 0zM768.1 708.3a8.0 8.5 0 1 0 16.0 0a8.0 8.5 0 1 0 -16.0 0zM768.6 699.7a8.0 8.5 0 1 0 16.0 0a8.0 8.5 0 1 0 -16.0 0zM769.1 699.3a8.0 8.5 0 1 0 16.0 0a8.0 8.5 0 1 0 -16.0 0zM769.7 708a8.0 8.5 0 1 0 16.0 0a8.0 8.5 0 1 0 -16.0 0zM770.2 708.7a8.0 8.5 0 1 0 16.0 0a8.0 8.5 0 1 0 -16.0 0zM770.7 703.3a8.0 8.5 0 1 0 16.0 0a8.0 8.5 0 1 0 -16.0 0zM771.2 704.9a8.0 8.5 0 1 0 16.0 0a8.0 8.5 0 1 0 -16.0 0zM771.8 705.7a8.0 8.5 0 1 0 16.0 0a8.0 8.5 0 1 0 -16.0 0zM772.3 704.7a8.0 8.5 0 1 0 16.0 0a8.0 8.5 0 1 0 -16.0 0zM772.8 707.1a8.0 8.5 0 1 0 16.0 0a8.0 8.5 0 1 0 -16.0 0zM773.3 714.4a8.0 8.5 0 1 0 16.0 0a8.0 8.5 0 1 0 -16.0 0zM773.8 713.2a8.0 8.5 0 1 0 16.0 0a8.0 8.5 0 1 0 -16.0 0zM774.4 718.5a8.0 8.5 0 1 0 16.0 0a8.0 8.5 0 1 0 -16.0 0zM774.9 712a8.0 8.5 0 1 0 16.0 0a8.0 8.5 0 1 0 -16.0 0zM775.5 712.5a8.0 8.5 0 1 0 16.0 0a8.0 8.5 0 1 0 -16.0 0zM776.1 710.3a8.0 8.5 0 1 0 16.0 0a8.0 8.5 0 1 0 -16.0 0zM776.7 714a8.0 8.5 0 1 0 16.0 0a8.0 8.5 0 1 0 -16.0 0zM777.3 710.6a8.0 8.5 0 1 0 16.0 0a8.0 8.5 0 1 0 -16.0 0zM777.9 709.8a8.0 8.5 0 1 0 16.0 0a8.0 8.5 0 1 0 -16.0 0zM778.4 718.8a8.0 8.5 0 1 0 16.0 0a8.0 8.5 0 1 0 -16.0 0zM779 722a8.0 8.5 0 1 0 16.0 0a8.0 8.5 0 1 0 -16.0 0zM779.6 720.6a8.0 8.5 0 1 0 16.0 0a8.0 8.5 0 1 0 -16.0 0zM780.2 723a8.0 8.5 0 1 0 16.0 0a8.0 8.5 0 1 0 -16.0 0zM780.8 720a8.0 8.5 0 1 0 16.0 0a8.0 8.5 0 1 0 -16.0 0zM781.3 717.5a8.0 8.5 0 1 0 16.0 0a8.0 8.5 0 1 0 -16.0 0zM781.9 720.8a8.0 8.5 0 1 0 16.0 0a8.0 8.5 0 1 0 -16.0 0zM782.5 720a8.0 8.5 0 1 0 16.0 0a8.0 8.5 0 1 0 -16.0 0zM783.1 718.2a8.0 8.5 0 1 0 16.0 0a8.0 8.5 0 1 0 -16.0 0zM783.6 717a8.0 8.5 0 1 0 16.0 0a8.0 8.5 0 1 0 -16.0 0zM784.2 718.3a8.0 8.5 0 1 0 16.0 0a8.0 8.5 0 1 0 -16.0 0zM784.7 723.9a8.0 8.5 0 1 0 16.0 0a8.0 8.5 0 1 0 -16.0 0zM785.3 725.1a8.0 8.5 0 1 0 16.0 0a8.0 8.5 0 1 0 -16.0 0zM785.9 723.7a8.0 8.5 0 1 0 16.0 0a8.0 8.5 0 1 0 -16.0 0zM786.4 730.6a8.0 8.5 0 1 0 16.0 0a8.0 8.5 0 1 0 -16.0 0zM787 727.2a8.0 8.5 0 1 0 16.0 0a8.0 8.5 0 1 0 -16.0 0zM787.5 729.1a8.0 8.5 0 1 0 16.0 0a8.0 8.5 0 1 0 -16.0 0zM788.1 731.9a8.0 8.5 0 1 0 16.0 0a8.0 8.5 0 1 0 -16.0 0zM788.6 725.9a8.0 8.5 0 1 0 16.0 0a8.0 8.5 0 1 0 -16.0 0zM789.2 722.8a8.0 8.5 0 1 0 16.0 0a8.0 8.5 0 1 0 -16.0 0zM789.7 732.3a8.0 8.5 0 1 0 16.0 0a8.0 8.5 0 1 0 -16.0 0zM790.3 728.2a8.0 8.5 0 1 0 16.0 0a8.0 8.5 0 1 0 -16.0 0zM790.8 735.4a8.0 8.5 0 1 0 16.0 0a8.0 8.5 0 1 0 -16.0 0zM791.4 732.9a8.0 8.5 0 1 0 16.0 0a8.0 8.5 0 1 0 -16.0 0zM791.9 735.6a8.0 8.5 0 1 0 16.0 0a8.0 8.5 0 1 0 -16.0 0zM792.4 735.5a8.0 8.5 0 1 0 16.0 0a8.0 8.5 0 1 0 -16.0 0zM793 727a8.0 8.5 0 1 0 16.0 0a8.0 8.5 0 1 0 -16.0 0zM793.5 736.6a8.0 8.5 0 1 0 16.0 0a8.0 8.5 0 1 0 -16.0 0zM794.1 732.8a8.0 8.5 0 1 0 16.0 0a8.0 8.5 0 1 0 -16.0 0zM794.6 733.1a8.0 8.5 0 1 0 16.0 0a8.0 8.5 0 1 0 -16.0 0zM795.1 734.8a8.0 8.5 0 1 0 16.0 0a8.0 8.5 0 1 0 -16.0 0zM795.6 739.3a8.0 8.5 0 1 0 16.0 0a8.0 8.5 0 1 0 -16.0 0zM796.2 740.3a8.0 8.5 0 1 0 16.0 0a8.0 8.5 0 1 0 -16.0 0zM796.7 741.3a8.0 8.5 0 1 0 16.0 0a8.0 8.5 0 1 0 -16.0 0zM797.2 733.4a8.0 8.5 0 1 0 16.0 0a8.0 8.5 0 1 0 -16.0 0zM797.7 737.4a8.0 8.5 0 1 0 16.0 0a8.0 8.5 0 1 0 -16.0 0zM798.3 732.4a8.0 8.5 0 1 0 16.0 0a8.0 8.5 0 1 0 -16.0 0zM798.8 740.2a8.0 8.5 0 1 0 16.0 0a8.0 8.5 0 1 0 -16.0 0zM799.3 743a8.0 8.5 0 1 0 16.0 0a8.0 8.5 0 1 0 -16.0 0zM799.8 739.3a8.0 8.5 0 1 0 16.0 0a8.0 8.5 0 1 0 -16.0 0zM800.3 743.1a8.0 8.5 0 1 0 16.0 0a8.0 8.5 0 1 0 -16.0 0zM800.8 743.7a8.0 8.5 0 1 0 16.0 0a8.0 8.5 0 1 0 -16.0 0zM801.3 746.7a8.0 8.5 0 1 0 16.0 0a8.0 8.5 0 1 0 -16.0 0zM801.8 741.6a8.0 8.5 0 1 0 16.0 0a8.0 8.5 0 1 0 -16.0 0zM802.3 742.2a8.0 8.5 0 1 0 16.0 0a8.0 8.5 0 1 0 -16.0 0zM802.8 743a8.0 8.5 0 1 0 16.0 0a8.0 8.5 0 1 0 -16.0 0zM803.3 751.4a8.0 8.5 0 1 0 16.0 0a8.0 8.5 0 1 0 -16.0 0zM803.8 749.9a8.0 8.5 0 1 0 16.0 0a8.0 8.5 0 1 0 -16.0 0zM804.3 746.7a8.0 8.5 0 1 0 16.0 0a8.0 8.5 0 1 0 -16.0 0zM804.8 748.4a8.0 8.5 0 1 0 16.0 0a8.0 8.5 0 1 0 -16.0 0zM805.3 748.7a8.0 8.5 0 1 0 16.0 0a8.0 8.5 0 1 0 -16.0 0zM805.8 749.5a8.0 8.5 0 1 0 16.0 0a8.0 8.5 0 1 0 -16.0 0zM806.3 748.8a8.0 8.5 0 1 0 16.0 0a8.0 8.5 0 1 0 -16.0 0zM806.8 749a8.0 8.5 0 1 0 16.0 0a8.0 8.5 0 1 0 -16.0 0zM807.3 746.8a8.0 8.5 0 1 0 16.0 0a8.0 8.5 0 1 0 -16.0 0zM807.8 749.2a8.0 8.5 0 1 0 16.0 0a8.0 8.5 0 1 0 -16.0 0zM808.3 756.8a8.0 8.5 0 1 0 16.0 0a8.0 8.5 0 1 0 -16.0 0zM808.8 754a8.0 8.5 0 1 0 16.0 0a8.0 8.5 0 1 0 -16.0 0zM809.2 753.1a8.0 8.5 0 1 0 16.0 0a8.0 8.5 0 1 0 -16.0 0zM809.7 752.8a8.0 8.5 0 1 0 16.0 0a8.0 8.5 0 1 0 -16.0 0zM810.2 754.3a8.0 8.5 0 1 0 16.0 0a8.0 8.5 0 1 0 -16.0 0zM810.7 755.7a8.0 8.5 0 1 0 16.0 0a8.0 8.5 0 1 0 -16.0 0zM811.2 753.2a8.0 8.5 0 1 0 16.0 0a8.0 8.5 0 1 0 -16.0 0zM811.6 756.3a8.0 8.5 0 1 0 16.0 0a8.0 8.5 0 1 0 -16.0 0zM812.1 757a8.0 8.5 0 1 0 16.0 0a8.0 8.5 0 1 0 -16.0 0zM812.6 754.6a8.0 8.5 0 1 0 16.0 0a8.0 8.5 0 1 0 -16.0 0zM813 755a8.0 8.5 0 1 0 16.0 0a8.0 8.5 0 1 0 -16.0 0zM813.5 755a8.0 8.5 0 1 0 16.0 0a8.0 8.5 0 1 0 -16.0 0zM814 755.3a8.0 8.5 0 1 0 16.0 0a8.0 8.5 0 1 0 -16.0 0zM814.4 761.8a8.0 8.5 0 1 0 16.0 0a8.0 8.5 0 1 0 -16.0 0zM814.9 752.5a8.0 8.5 0 1 0 16.0 0a8.0 8.5 0 1 0 -16.0 0zM815.4 759.4a8.0 8.5 0 1 0 16.0 0a8.0 8.5 0 1 0 -16.0 0zM815.9 758.9a8.0 8.5 0 1 0 16.0 0a8.0 8.5 0 1 0 -16.0 0zM816.4 759.3a8.0 8.5 0 1 0 16.0 0a8.0 8.5 0 1 0 -16.0 0zM816.9 762.1a8.0 8.5 0 1 0 16.0 0a8.0 8.5 0 1 0 -16.0 0zM817.4 766a8.0 8.5 0 1 0 16.0 0a8.0 8.5 0 1 0 -16.0 0zM817.9 763.1a8.0 8.5 0 1 0 16.0 0a8.0 8.5 0 1 0 -16.0 0zM818.4 763a8.0 8.5 0 1 0 16.0 0a8.0 8.5 0 1 0 -16.0 0zM818.9 761.9a8.0 8.5 0 1 0 16.0 0a8.0 8.5 0 1 0 -16.0 0zM819.4 764.1a8.0 8.5 0 1 0 16.0 0a8.0 8.5 0 1 0 -16.0 0zM819.8 768.2a8.0 8.5 0 1 0 16.0 0a8.0 8.5 0 1 0 -16.0 0zM820.3 764.2a8.0 8.5 0 1 0 16.0 0a8.0 8.5 0 1 0 -16.0 0zM820.8 762a8.0 8.5 0 1 0 16.0 0a8.0 8.5 0 1 0 -16.0 0zM821.3 762.1a8.0 8.5 0 1 0 16.0 0a8.0 8.5 0 1 0 -16.0 0zM821.8 763.1a8.0 8.5 0 1 0 16.0 0a8.0 8.5 0 1 0 -16.0 0zM822.3 762.6a8.0 8.5 0 1 0 16.0 0a8.0 8.5 0 1 0 -16.0 0zM822.7 772.2a8.0 8.5 0 1 0 16.0 0a8.0 8.5 0 1 0 -16.0 0zM823.2 770a8.0 8.5 0 1 0 16.0 0a8.0 8.5 0 1 0 -16.0 0zM823.7 768.3a8.0 8.5 0 1 0 16.0 0a8.0 8.5 0 1 0 -16.0 0zM824.2 775.3a8.0 8.5 0 1 0 16.0 0a8.0 8.5 0 1 0 -16.0 0zM824.6 767.7a8.0 8.5 0 1 0 16.0 0a8.0 8.5 0 1 0 -16.0 0zM825.1 773.7a8.0 8.5 0 1 0 16.0 0a8.0 8.5 0 1 0 -16.0 0zM825.6 774.4a8.0 8.5 0 1 0 16.0 0a8.0 8.5 0 1 0 -16.0 0zM826 765.6a8.0 8.5 0 1 0 16.0 0a8.0 8.5 0 1 0 -16.0 0zM826.5 766a8.0 8.5 0 1 0 16.0 0a8.0 8.5 0 1 0 -16.0 0zM827 769a8.0 8.5 0 1 0 16.0 0a8.0 8.5 0 1 0 -16.0 0zM827.4 777a8.0 8.5 0 1 0 16.0 0a8.0 8.5 0 1 0 -16.0 0zM827.9 779.2a8.0 8.5 0 1 0 16.0 0a8.0 8.5 0 1 0 -16.0 0zM828.4 769.1a8.0 8.5 0 1 0 16.0 0a8.0 8.5 0 1 0 -16.0 0zM828.8 779.3a8.0 8.5 0 1 0 16.0 0a8.0 8.5 0 1 0 -16.0 0zM829.3 773.6a8.0 8.5 0 1 0 16.0 0a8.0 8.5 0 1 0 -16.0 0zM829.7 774.1a8.0 8.5 0 1 0 16.0 0a8.0 8.5 0 1 0 -16.0 0zM830.2 773.8a8.0 8.5 0 1 0 16.0 0a8.0 8.5 0 1 0 -16.0 0zM830.6 775.3a8.0 8.5 0 1 0 16.0 0a8.0 8.5 0 1 0 -16.0 0zM831.1 769.1a8.0 8.5 0 1 0 16.0 0a8.0 8.5 0 1 0 -16.0 0zM831.5 773.2a8.0 8.5 0 1 0 16.0 0a8.0 8.5 0 1 0 -16.0 0zM832 772.6a8.0 8.5 0 1 0 16.0 0a8.0 8.5 0 1 0 -16.0 0zM832.4 781a8.0 8.5 0 1 0 16.0 0a8.0 8.5 0 1 0 -16.0 0zM832.9 788.9a8.0 8.5 0 1 0 16.0 0a8.0 8.5 0 1 0 -16.0 0zM833.3 792.5a8.0 8.5 0 1 0 16.0 0a8.0 8.5 0 1 0 -16.0 0zM833.8 778.6a8.0 8.5 0 1 0 16.0 0a8.0 8.5 0 1 0 -16.0 0zM834.2 772.4a8.0 8.5 0 1 0 16.0 0a8.0 8.5 0 1 0 -16.0 0zM834.6 779.2a8.0 8.5 0 1 0 16.0 0a8.0 8.5 0 1 0 -16.0 0zM835.1 777a8.0 8.5 0 1 0 16.0 0a8.0 8.5 0 1 0 -16.0 0zM835.5 791.8a8.0 8.5 0 1 0 16.0 0a8.0 8.5 0 1 0 -16.0 0zM835.9 785.4a8.0 8.5 0 1 0 16.0 0a8.0 8.5 0 1 0 -16.0 0zM836.4 779.4a8.0 8.5 0 1 0 16.0 0a8.0 8.5 0 1 0 -16.0 0zM836.8 788.2a8.0 8.5 0 1 0 16.0 0a8.0 8.5 0 1 0 -16.0 0zM837.2 786.7a8.0 8.5 0 1 0 16.0 0a8.0 8.5 0 1 0 -16.0 0zM837.7 776.1a8.0 8.5 0 1 0 16.0 0a8.0 8.5 0 1 0 -16.0 0zM838.1 782.2a8.0 8.5 0 1 0 16.0 0a8.0 8.5 0 1 0 -16.0 0zM838.5 784.1a8.0 8.5 0 1 0 16.0 0a8.0 8.5 0 1 0 -16.0 0zM839 785.9a8.0 8.5 0 1 0 16.0 0a8.0 8.5 0 1 0 -16.0 0zM839.4 787a8.0 8.5 0 1 0 16.0 0a8.0 8.5 0 1 0 -16.0 0zM839.8 784.9a8.0 8.5 0 1 0 16.0 0a8.0 8.5 0 1 0 -16.0 0zM840.2 788.2a8.0 8.5 0 1 0 16.0 0a8.0 8.5 0 1 0 -16.0 0zM840.6 784.5a8.0 8.5 0 1 0 16.0 0a8.0 8.5 0 1 0 -16.0 0zM841.1 783.2a8.0 8.5 0 1 0 16.0 0a8.0 8.5 0 1 0 -16.0 0zM841.5 796.8a8.0 8.5 0 1 0 16.0 0a8.0 8.5 0 1 0 -16.0 0zM841.9 791a8.0 8.5 0 1 0 16.0 0a8.0 8.5 0 1 0 -16.0 0zM842.2 791.9a8.0 8.5 0 1 0 16.0 0a8.0 8.5 0 1 0 -16.0 0zM842.5 781.1a8.0 8.5 0 1 0 16.0 0a8.0 8.5 0 1 0 -16.0 0zM842.8 789.4a8.0 8.5 0 1 0 16.0 0a8.0 8.5 0 1 0 -16.0 0zM843.1 795.3a8.0 8.5 0 1 0 16.0 0a8.0 8.5 0 1 0 -16.0 0zM843.4 784.1a8.0 8.5 0 1 0 16.0 0a8.0 8.5 0 1 0 -16.0 0zM843.7 797.8a8.0 8.5 0 1 0 16.0 0a8.0 8.5 0 1 0 -16.0 0zM844 790a8.0 8.5 0 1 0 16.0 0a8.0 8.5 0 1 0 -16.0 0zM844.3 794.8a8.0 8.5 0 1 0 16.0 0a8.0 8.5 0 1 0 -16.0 0zM844.6 792.3a8.0 8.5 0 1 0 16.0 0a8.0 8.5 0 1 0 -16.0 0zM844.9 794.7a8.0 8.5 0 1 0 16.0 0a8.0 8.5 0 1 0 -16.0 0zM845.2 800.6a8.0 8.5 0 1 0 16.0 0a8.0 8.5 0 1 0 -16.0 0zM845.5 792.1a8.0 8.5 0 1 0 16.0 0a8.0 8.5 0 1 0 -16.0 0zM845.8 803.5a8.0 8.5 0 1 0 16.0 0a8.0 8.5 0 1 0 -16.0 0zM846.1 790.8a8.0 8.5 0 1 0 16.0 0a8.0 8.5 0 1 0 -16.0 0zM846.4 790.4a8.0 8.5 0 1 0 16.0 0a8.0 8.5 0 1 0 -16.0 0zM846.6 800a8.0 8.5 0 1 0 16.0 0a8.0 8.5 0 1 0 -16.0 0zM846.9 790.5a8.0 8.5 0 1 0 16.0 0a8.0 8.5 0 1 0 -16.0 0zM847.2 794.8a8.0 8.5 0 1 0 16.0 0a8.0 8.5 0 1 0 -16.0 0zM847.5 802.4a8.0 8.5 0 1 0 16.0 0a8.0 8.5 0 1 0 -16.0 0zM847.8 804.5a8.0 8.5 0 1 0 16.0 0a8.0 8.5 0 1 0 -16.0 0zM848.1 788.2a8.0 8.5 0 1 0 16.0 0a8.0 8.5 0 1 0 -16.0 0zM848.4 801.4a8.0 8.5 0 1 0 16.0 0a8.0 8.5 0 1 0 -16.0 0zM848.7 809.6a8.0 8.5 0 1 0 16.0 0a8.0 8.5 0 1 0 -16.0 0zM848.9 806.1a8.0 8.5 0 1 0 16.0 0a8.0 8.5 0 1 0 -16.0 0zM849.2 798.5a8.0 8.5 0 1 0 16.0 0a8.0 8.5 0 1 0 -16.0 0zM849.5 796.8a8.0 8.5 0 1 0 16.0 0a8.0 8.5 0 1 0 -16.0 0zM849.8 799a8.0 8.5 0 1 0 16.0 0a8.0 8.5 0 1 0 -16.0 0zM850.1 794.5a8.0 8.5 0 1 0 16.0 0a8.0 8.5 0 1 0 -16.0 0zM850.3 800a8.0 8.5 0 1 0 16.0 0a8.0 8.5 0 1 0 -16.0 0zM850.6 800.8a8.0 8.5 0 1 0 16.0 0a8.0 8.5 0 1 0 -16.0 0zM850.9 801.5a8.0 8.5 0 1 0 16.0 0a8.0 8.5 0 1 0 -16.0 0zM851.2 809.4a8.0 8.5 0 1 0 16.0 0a8.0 8.5 0 1 0 -16.0 0zM851.5 801.8a8.0 8.5 0 1 0 16.0 0a8.0 8.5 0 1 0 -16.0 0zM851.7 795.2a8.0 8.5 0 1 0 16.0 0a8.0 8.5 0 1 0 -16.0 0zM852 809.9a8.0 8.5 0 1 0 16.0 0a8.0 8.5 0 1 0 -16.0 0zM852.3 798.2a8.0 8.5 0 1 0 16.0 0a8.0 8.5 0 1 0 -16.0 0zM852.6 802.2a8.0 8.5 0 1 0 16.0 0a8.0 8.5 0 1 0 -16.0 0zM852.8 804.4a8.0 8.5 0 1 0 16.0 0a8.0 8.5 0 1 0 -16.0 0zM853.1 803.6a8.0 8.5 0 1 0 16.0 0a8.0 8.5 0 1 0 -16.0 0zM853.4 800.2a8.0 8.5 0 1 0 16.0 0a8.0 8.5 0 1 0 -16.0 0zM853.7 805a8.0 8.5 0 1 0 16.0 0a8.0 8.5 0 1 0 -16.0 0zM853.9 819.3a8.0 8.5 0 1 0 16.0 0a8.0 8.5 0 1 0 -16.0 0zM854.2 803.7a8.0 8.5 0 1 0 16.0 0a8.0 8.5 0 1 0 -16.0 0zM854.5 806.8a8.0 8.5 0 1 0 16.0 0a8.0 8.5 0 1 0 -16.0 0zM854.8 814.5a8.0 8.5 0 1 0 16.0 0a8.0 8.5 0 1 0 -16.0 0zM855 812.7a8.0 8.5 0 1 0 16.0 0a8.0 8.5 0 1 0 -16.0 0zM855.3 813.2a8.0 8.5 0 1 0 16.0 0a8.0 8.5 0 1 0 -16.0 0zM855.6 814.2a8.0 8.5 0 1 0 16.0 0a8.0 8.5 0 1 0 -16.0 0zM855.9 798.3a8.0 8.5 0 1 0 16.0 0a8.0 8.5 0 1 0 -16.0 0zM856.1 805.1a8.0 8.5 0 1 0 16.0 0a8.0 8.5 0 1 0 -16.0 0zM856.4 811.2a8.0 8.5 0 1 0 16.0 0a8.0 8.5 0 1 0 -16.0 0zM856.7 813.7a8.0 8.5 0 1 0 16.0 0a8.0 8.5 0 1 0 -16.0 0zM857 818.7a8.0 8.5 0 1 0 16.0 0a8.0 8.5 0 1 0 -16.0 0zM857.2 814.4a8.0 8.5 0 1 0 16.0 0a8.0 8.5 0 1 0 -16.0 0zM857.5 810.7a8.0 8.5 0 1 0 16.0 0a8.0 8.5 0 1 0 -16.0 0zM857.8 812.7a8.0 8.5 0 1 0 16.0 0a8.0 8.5 0 1 0 -16.0 0zM858.1 811.6a8.0 8.5 0 1 0 16.0 0a8.0 8.5 0 1 0 -16.0 0zM858.3 814.7a8.0 8.5 0 1 0 16.0 0a8.0 8.5 0 1 0 -16.0 0zM858.6 817.6a8.0 8.5 0 1 0 16.0 0a8.0 8.5 0 1 0 -16.0 0zM858.9 812.1a8.0 8.5 0 1 0 16.0 0a8.0 8.5 0 1 0 -16.0 0zM859.1 809.7a8.0 8.5 0 1 0 16.0 0a8.0 8.5 0 1 0 -16.0 0zM859.4 809.9a8.0 8.5 0 1 0 16.0 0a8.0 8.5 0 1 0 -16.0 0zM859.7 821.7a8.0 8.5 0 1 0 16.0 0a8.0 8.5 0 1 0 -16.0 0zM860 823.1a8.0 8.5 0 1 0 16.0 0a8.0 8.5 0 1 0 -16.0 0zM860.2 821.9a8.0 8.5 0 1 0 16.0 0a8.0 8.5 0 1 0 -16.0 0zM860.5 821.5a8.0 8.5 0 1 0 16.0 0a8.0 8.5 0 1 0 -16.0 0zM860.8 821.7a8.0 8.5 0 1 0 16.0 0a8.0 8.5 0 1 0 -16.0 0zM861 817.2a8.0 8.5 0 1 0 16.0 0a8.0 8.5 0 1 0 -16.0 0zM861.3 821.5a8.0 8.5 0 1 0 16.0 0a8.0 8.5 0 1 0 -16.0 0zM861.6 811.9a8.0 8.5 0 1 0 16.0 0a8.0 8.5 0 1 0 -16.0 0zM861.8 817.2a8.0 8.5 0 1 0 16.0 0a8.0 8.5 0 1 0 -16.0 0zM862.1 814.5a8.0 8.5 0 1 0 16.0 0a8.0 8.5 0 1 0 -16.0 0zM862.4 823.5a8.0 8.5 0 1 0 16.0 0a8.0 8.5 0 1 0 -16.0 0zM862.6 816.2a8.0 8.5 0 1 0 16.0 0a8.0 8.5 0 1 0 -16.0 0zM862.9 819.4a8.0 8.5 0 1 0 16.0 0a8.0 8.5 0 1 0 -16.0 0zM863.2 822.8a8.0 8.5 0 1 0 16.0 0a8.0 8.5 0 1 0 -16.0 0zM863.4 828.8a8.0 8.5 0 1 0 16.0 0a8.0 8.5 0 1 0 -16.0 0zM863.7 816.5a8.0 8.5 0 1 0 16.0 0a8.0 8.5 0 1 0 -16.0 0zM864 816a8.0 8.5 0 1 0 16.0 0a8.0 8.5 0 1 0 -16.0 0zM864.2 826.8a8.0 8.5 0 1 0 16.0 0a8.0 8.5 0 1 0 -16.0 0zM864.5 815.8a8.0 8.5 0 1 0 16.0 0a8.0 8.5 0 1 0 -16.0 0zM864.8 825.5a8.0 8.5 0 1 0 16.0 0a8.0 8.5 0 1 0 -16.0 0zM865 819.8a8.0 8.5 0 1 0 16.0 0a8.0 8.5 0 1 0 -16.0 0zM865.3 822.9a8.0 8.5 0 1 0 16.0 0a8.0 8.5 0 1 0 -16.0 0zM865.6 813.1a8.0 8.5 0 1 0 16.0 0a8.0 8.5 0 1 0 -16.0 0zM865.8 828.6a8.0 8.5 0 1 0 16.0 0a8.0 8.5 0 1 0 -16.0 0zM866.1 821.7a8.0 8.5 0 1 0 16.0 0a8.0 8.5 0 1 0 -16.0 0zM866.4 819.8a8.0 8.5 0 1 0 16.0 0a8.0 8.5 0 1 0 -16.0 0zM866.6 837.9a8.0 8.5 0 1 0 16.0 0a8.0 8.5 0 1 0 -16.0 0zM866.9 830.1a8.0 8.5 0 1 0 16.0 0a8.0 8.5 0 1 0 -16.0 0zM867.2 847.3a8.0 8.5 0 1 0 16.0 0a8.0 8.5 0 1 0 -16.0 0zM867.4 829.1a8.0 8.5 0 1 0 16.0 0a8.0 8.5 0 1 0 -16.0 0zM867.7 825a8.0 8.5 0 1 0 16.0 0a8.0 8.5 0 1 0 -16.0 0zM867.9 828.1a8.0 8.5 0 1 0 16.0 0a8.0 8.5 0 1 0 -16.0 0zM868.2 837.5a8.0 8.5 0 1 0 16.0 0a8.0 8.5 0 1 0 -16.0 0zM868.5 828.1a8.0 8.5 0 1 0 16.0 0a8.0 8.5 0 1 0 -16.0 0zM868.9 831.3a8.0 8.5 0 1 0 16.0 0a8.0 8.5 0 1 0 -16.0 0zM869.3 832.1a8.0 8.5 0 1 0 16.0 0a8.0 8.5 0 1 0 -16.0 0zM869.6 823.8a8.0 8.5 0 1 0 16.0 0a8.0 8.5 0 1 0 -16.0 0zM870 830.5a8.0 8.5 0 1 0 16.0 0a8.0 8.5 0 1 0 -16.0 0zM870.4 827.1a8.0 8.5 0 1 0 16.0 0a8.0 8.5 0 1 0 -16.0 0zM870.7 822.9a8.0 8.5 0 1 0 16.0 0a8.0 8.5 0 1 0 -16.0 0zM871.1 836.3a8.0 8.5 0 1 0 16.0 0a8.0 8.5 0 1 0 -16.0 0zM871.5 835.4a8.0 8.5 0 1 0 16.0 0a8.0 8.5 0 1 0 -16.0 0zM871.8 832.1a8.0 8.5 0 1 0 16.0 0a8.0 8.5 0 1 0 -16.0 0zM872.2 826.4a8.0 8.5 0 1 0 16.0 0a8.0 8.5 0 1 0 -16.0 0zM872.6 819.9a8.0 8.5 0 1 0 16.0 0a8.0 8.5 0 1 0 -16.0 0zM872.9 835.9a8.0 8.5 0 1 0 16.0 0a8.0 8.5 0 1 0 -16.0 0zM873.3 832.6a8.0 8.5 0 1 0 16.0 0a8.0 8.5 0 1 0 -16.0 0zM873.7 822.9a8.0 8.5 0 1 0 16.0 0a8.0 8.5 0 1 0 -16.0 0zM874 833.6a8.0 8.5 0 1 0 16.0 0a8.0 8.5 0 1 0 -16.0 0zM874.4 824.6a8.0 8.5 0 1 0 16.0 0a8.0 8.5 0 1 0 -16.0 0zM874.8 834.6a8.0 8.5 0 1 0 16.0 0a8.0 8.5 0 1 0 -16.0 0zM875.1 836a8.0 8.5 0 1 0 16.0 0a8.0 8.5 0 1 0 -16.0 0zM875.5 837.8a8.0 8.5 0 1 0 16.0 0a8.0 8.5 0 1 0 -16.0 0zM875.9 837.3a8.0 8.5 0 1 0 16.0 0a8.0 8.5 0 1 0 -16.0 0zM876.2 837.4a8.0 8.5 0 1 0 16.0 0a8.0 8.5 0 1 0 -16.0 0zM876.6 829.2a8.0 8.5 0 1 0 16.0 0a8.0 8.5 0 1 0 -16.0 0zM876.9 834.5a8.0 8.5 0 1 0 16.0 0a8.0 8.5 0 1 0 -16.0 0zM877.3 834a8.0 8.5 0 1 0 16.0 0a8.0 8.5 0 1 0 -16.0 0zM877.7 836.2a8.0 8.5 0 1 0 16.0 0a8.0 8.5 0 1 0 -16.0 0zM878 839.9a8.0 8.5 0 1 0 16.0 0a8.0 8.5 0 1 0 -16.0 0zM878.4 842.6a8.0 8.5 0 1 0 16.0 0a8.0 8.5 0 1 0 -16.0 0zM878.8 849.8a8.0 8.5 0 1 0 16.0 0a8.0 8.5 0 1 0 -16.0 0zM879.1 822.1a8.0 8.5 0 1 0 16.0 0a8.0 8.5 0 1 0 -16.0 0zM879.5 842.3a8.0 8.5 0 1 0 16.0 0a8.0 8.5 0 1 0 -16.0 0zM879.8 838.7a8.0 8.5 0 1 0 16.0 0a8.0 8.5 0 1 0 -16.0 0zM880.2 855.7a8.0 8.5 0 1 0 16.0 0a8.0 8.5 0 1 0 -16.0 0zM880.5 847.1a8.0 8.5 0 1 0 16.0 0a8.0 8.5 0 1 0 -16.0 0zM880.9 829.9a8.0 8.5 0 1 0 16.0 0a8.0 8.5 0 1 0 -16.0 0zM881.3 844.2a8.0 8.5 0 1 0 16.0 0a8.0 8.5 0 1 0 -16.0 0zM881.6 838.3a8.0 8.5 0 1 0 16.0 0a8.0 8.5 0 1 0 -16.0 0zM882 849.1a8.0 8.5 0 1 0 16.0 0a8.0 8.5 0 1 0 -16.0 0zM882.3 835.4a8.0 8.5 0 1 0 16.0 0a8.0 8.5 0 1 0 -16.0 0zM882.7 842.3a8.0 8.5 0 1 0 16.0 0a8.0 8.5 0 1 0 -16.0 0zM883 842.5a8.0 8.5 0 1 0 16.0 0a8.0 8.5 0 1 0 -16.0 0zM883.4 843.1a8.0 8.5 0 1 0 16.0 0a8.0 8.5 0 1 0 -16.0 0zM883.8 840a8.0 8.5 0 1 0 16.0 0a8.0 8.5 0 1 0 -16.0 0zM884.1 831.6a8.0 8.5 0 1 0 16.0 0a8.0 8.5 0 1 0 -16.0 0zM884.5 848.1a8.0 8.5 0 1 0 16.0 0a8.0 8.5 0 1 0 -16.0 0zM884.8 852.3a8.0 8.5 0 1 0 16.0 0a8.0 8.5 0 1 0 -16.0 0zM885.2 845.1a8.0 8.5 0 1 0 16.0 0a8.0 8.5 0 1 0 -16.0 0zM885.5 838.8a8.0 8.5 0 1 0 16.0 0a8.0 8.5 0 1 0 -16.0 0zM885.9 847.8a8.0 8.5 0 1 0 16.0 0a8.0 8.5 0 1 0 -16.0 0zM886.2 850.7a8.0 8.5 0 1 0 16.0 0a8.0 8.5 0 1 0 -16.0 0zM886.6 845.8a8.0 8.5 0 1 0 16.0 0a8.0 8.5 0 1 0 -16.0 0zM886.9 847.3a8.0 8.5 0 1 0 16.0 0a8.0 8.5 0 1 0 -16.0 0zM887.3 857.9a8.0 8.5 0 1 0 16.0 0a8.0 8.5 0 1 0 -16.0 0zM887.6 840.1a8.0 8.5 0 1 0 16.0 0a8.0 8.5 0 1 0 -16.0 0zM888 844.5a8.0 8.5 0 1 0 16.0 0a8.0 8.5 0 1 0 -16.0 0zM888.3 835.1a8.0 8.5 0 1 0 16.0 0a8.0 8.5 0 1 0 -16.0 0zM888.7 844.2a8.0 8.5 0 1 0 16.0 0a8.0 8.5 0 1 0 -16.0 0zM889 844.2a8.0 8.5 0 1 0 16.0 0a8.0 8.5 0 1 0 -16.0 0zM889.4 843a8.0 8.5 0 1 0 16.0 0a8.0 8.5 0 1 0 -16.0 0zM889.7 845.3a8.0 8.5 0 1 0 16.0 0a8.0 8.5 0 1 0 -16.0 0zM890.1 864a8.0 8.5 0 1 0 16.0 0a8.0 8.5 0 1 0 -16.0 0zM890.4 849.6a8.0 8.5 0 1 0 16.0 0a8.0 8.5 0 1 0 -16.0 0zM890.8 850.6a8.0 8.5 0 1 0 16.0 0a8.0 8.5 0 1 0 -16.0 0zM891.1 868.2a8.0 8.5 0 1 0 16.0 0a8.0 8.5 0 1 0 -16.0 0zM891.5 851.7a8.0 8.5 0 1 0 16.0 0a8.0 8.5 0 1 0 -16.0 0zM891.8 839.6a8.0 8.5 0 1 0 16.0 0a8.0 8.5 0 1 0 -16.0 0zM892.2 855.9a8.0 8.5 0 1 0 16.0 0a8.0 8.5 0 1 0 -16.0 0zM892.5 846.2a8.0 8.5 0 1 0 16.0 0a8.0 8.5 0 1 0 -16.0 0zM892.9 865.9a8.0 8.5 0 1 0 16.0 0a8.0 8.5 0 1 0 -16.0 0zM893.3 844.7a8.0 8.5 0 1 0 16.0 0a8.0 8.5 0 1 0 -16.0 0zM893.6 850a8.0 8.5 0 1 0 16.0 0a8.0 8.5 0 1 0 -16.0 0zM894 842.7a8.0 8.5 0 1 0 16.0 0a8.0 8.5 0 1 0 -16.0 0zM894.3 855.8a8.0 8.5 0 1 0 16.0 0a8.0 8.5 0 1 0 -16.0 0zM894.7 847.8a8.0 8.5 0 1 0 16.0 0a8.0 8.5 0 1 0 -16.0 0zM895 855.3a8.0 8.5 0 1 0 16.0 0a8.0 8.5 0 1 0 -16.0 0zM895.4 853.3a8.0 8.5 0 1 0 16.0 0a8.0 8.5 0 1 0 -16.0 0zM895.8 851.9a8.0 8.5 0 1 0 16.0 0a8.0 8.5 0 1 0 -16.0 0zM896.1 863.9a8.0 8.5 0 1 0 16.0 0a8.0 8.5 0 1 0 -16.0 0zM896.5 864.2a8.0 8.5 0 1 0 16.0 0a8.0 8.5 0 1 0 -16.0 0zM896.8 858.1a8.0 8.5 0 1 0 16.0 0a8.0 8.5 0 1 0 -16.0 0zM897.2 851.2a8.0 8.5 0 1 0 16.0 0a8.0 8.5 0 1 0 -16.0 0zM897.5 850.3a8.0 8.5 0 1 0 16.0 0a8.0 8.5 0 1 0 -16.0 0zM897.9 860.7a8.0 8.5 0 1 0 16.0 0a8.0 8.5 0 1 0 -16.0 0zM898.2 877a8.0 8.5 0 1 0 16.0 0a8.0 8.5 0 1 0 -16.0 0zM898.6 855.9a8.0 8.5 0 1 0 16.0 0a8.0 8.5 0 1 0 -16.0 0zM898.9 853.8a8.0 8.5 0 1 0 16.0 0a8.0 8.5 0 1 0 -16.0 0zM899.3 854.9a8.0 8.5 0 1 0 16.0 0a8.0 8.5 0 1 0 -16.0 0zM899.6 852.2a8.0 8.5 0 1 0 16.0 0a8.0 8.5 0 1 0 -16.0 0zM900 853.5a8.0 8.5 0 1 0 16.0 0a8.0 8.5 0 1 0 -16.0 0zM900.3 859.6a8.0 8.5 0 1 0 16.0 0a8.0 8.5 0 1 0 -16.0 0zM900.7 872.3a8.0 8.5 0 1 0 16.0 0a8.0 8.5 0 1 0 -16.0 0zM901 861.9a8.0 8.5 0 1 0 16.0 0a8.0 8.5 0 1 0 -16.0 0zM901.4 858.4a8.0 8.5 0 1 0 16.0 0a8.0 8.5 0 1 0 -16.0 0zM901.7 850.5a8.0 8.5 0 1 0 16.0 0a8.0 8.5 0 1 0 -16.0 0zM902.1 864.5a8.0 8.5 0 1 0 16.0 0a8.0 8.5 0 1 0 -16.0 0zM902.4 863.1a8.0 8.5 0 1 0 16.0 0a8.0 8.5 0 1 0 -16.0 0zM902.8 854.4a8.0 8.5 0 1 0 16.0 0a8.0 8.5 0 1 0 -16.0 0zM903.1 855.8a8.0 8.5 0 1 0 16.0 0a8.0 8.5 0 1 0 -16.0 0zM903.5 864a8.0 8.5 0 1 0 16.0 0a8.0 8.5 0 1 0 -16.0 0zM903.8 872.3a8.0 8.5 0 1 0 16.0 0a8.0 8.5 0 1 0 -16.0 0zM904.2 869.7a8.0 8.5 0 1 0 16.0 0a8.0 8.5 0 1 0 -16.0 0zM904.5 866.9a8.0 8.5 0 1 0 16.0 0a8.0 8.5 0 1 0 -16.0 0zM904.9 863.3a8.0 8.5 0 1 0 16.0 0a8.0 8.5 0 1 0 -16.0 0zM905.2 868.5a8.0 8.5 0 1 0 16.0 0a8.0 8.5 0 1 0 -16.0 0zM905.6 866.3a8.0 8.5 0 1 0 16.0 0a8.0 8.5 0 1 0 -16.0 0zM905.9 883.1a8.0 8.5 0 1 0 16.0 0a8.0 8.5 0 1 0 -16.0 0zM906.3 858.6a8.0 8.5 0 1 0 16.0 0a8.0 8.5 0 1 0 -16.0 0zM906.6 864.7a8.0 8.5 0 1 0 16.0 0a8.0 8.5 0 1 0 -16.0 0zM906.9 877.3a8.0 8.5 0 1 0 16.0 0a8.0 8.5 0 1 0 -16.0 0zM907.3 866.2a8.0 8.5 0 1 0 16.0 0a8.0 8.5 0 1 0 -16.0 0zM907.6 879.2a8.0 8.5 0 1 0 16.0 0a8.0 8.5 0 1 0 -16.0 0zM908 868.5a8.0 8.5 0 1 0 16.0 0a8.0 8.5 0 1 0 -16.0 0zM908.3 870.3a8.0 8.5 0 1 0 16.0 0a8.0 8.5 0 1 0 -16.0 0zM908.7 866.8a8.0 8.5 0 1 0 16.0 0a8.0 8.5 0 1 0 -16.0 0zM909 859.5a8.0 8.5 0 1 0 16.0 0a8.0 8.5 0 1 0 -16.0 0zM909.4 863a8.0 8.5 0 1 0 16.0 0a8.0 8.5 0 1 0 -16.0 0zM909.7 887.2a8.0 8.5 0 1 0 16.0 0a8.0 8.5 0 1 0 -16.0 0zM910 875.8a8.0 8.5 0 1 0 16.0 0a8.0 8.5 0 1 0 -16.0 0zM910.4 875.8a8.0 8.5 0 1 0 16.0 0a8.0 8.5 0 1 0 -16.0 0zM910.7 878.8a8.0 8.5 0 1 0 16.0 0a8.0 8.5 0 1 0 -16.0 0zM911.1 876.2a8.0 8.5 0 1 0 16.0 0a8.0 8.5 0 1 0 -16.0 0zM911.4 880a8.0 8.5 0 1 0 16.0 0a8.0 8.5 0 1 0 -16.0 0zM911.7 870.7a8.0 8.5 0 1 0 16.0 0a8.0 8.5 0 1 0 -16.0 0zM912.1 871.3a8.0 8.5 0 1 0 16.0 0a8.0 8.5 0 1 0 -16.0 0zM912.4 880.7a8.0 8.5 0 1 0 16.0 0a8.0 8.5 0 1 0 -16.0 0zM912.8 871a8.0 8.5 0 1 0 16.0 0a8.0 8.5 0 1 0 -16.0 0zM913.1 864a8.0 8.5 0 1 0 16.0 0a8.0 8.5 0 1 0 -16.0 0zM913.4 872.7a8.0 8.5 0 1 0 16.0 0a8.0 8.5 0 1 0 -16.0 0zM913.8 870.6a8.0 8.5 0 1 0 16.0 0a8.0 8.5 0 1 0 -16.0 0zM914.1 879.6a8.0 8.5 0 1 0 16.0 0a8.0 8.5 0 1 0 -16.0 0zM914.4 870a8.0 8.5 0 1 0 16.0 0a8.0 8.5 0 1 0 -16.0 0zM914.8 867.8a8.0 8.5 0 1 0 16.0 0a8.0 8.5 0 1 0 -16.0 0zM915.1 873.6a8.0 8.5 0 1 0 16.0 0a8.0 8.5 0 1 0 -16.0 0zM915.5 888.1a8.0 8.5 0 1 0 16.0 0a8.0 8.5 0 1 0 -16.0 0zM915.8 876.4a8.0 8.5 0 1 0 16.0 0a8.0 8.5 0 1 0 -16.0 0zM916.1 878.3a8.0 8.5 0 1 0 16.0 0a8.0 8.5 0 1 0 -16.0 0zM916.5 877.5a8.0 8.5 0 1 0 16.0 0a8.0 8.5 0 1 0 -16.0 0zM916.8 880a8.0 8.5 0 1 0 16.0 0a8.0 8.5 0 1 0 -16.0 0zM917.1 885.1a8.0 8.5 0 1 0 16.0 0a8.0 8.5 0 1 0 -16.0 0zM917.5 888.9a8.0 8.5 0 1 0 16.0 0a8.0 8.5 0 1 0 -16.0 0zM917.8 866.4a8.0 8.5 0 1 0 16.0 0a8.0 8.5 0 1 0 -16.0 0zM918.1 889.3a8.0 8.5 0 1 0 16.0 0a8.0 8.5 0 1 0 -16.0 0zM918.5 879.4a8.0 8.5 0 1 0 16.0 0a8.0 8.5 0 1 0 -16.0 0zM918.8 877.4a8.0 8.5 0 1 0 16.0 0a8.0 8.5 0 1 0 -16.0 0zM919.1 898.1a8.0 8.5 0 1 0 16.0 0a8.0 8.5 0 1 0 -16.0 0zM919.5 879.2a8.0 8.5 0 1 0 16.0 0a8.0 8.5 0 1 0 -16.0 0zM919.8 895.4a8.0 8.5 0 1 0 16.0 0a8.0 8.5 0 1 0 -16.0 0zM920.1 888.4a8.0 8.5 0 1 0 16.0 0a8.0 8.5 0 1 0 -16.0 0zM920.5 873.7a8.0 8.5 0 1 0 16.0 0a8.0 8.5 0 1 0 -16.0 0zM920.8 885.5a8.0 8.5 0 1 0 16.0 0a8.0 8.5 0 1 0 -16.0 0zM921.1 887.7a8.0 8.5 0 1 0 16.0 0a8.0 8.5 0 1 0 -16.0 0zM921.5 881.5a8.0 8.5 0 1 0 16.0 0a8.0 8.5 0 1 0 -16.0 0zM921.8 865.3a8.0 8.5 0 1 0 16.0 0a8.0 8.5 0 1 0 -16.0 0zM922.1 880.5a8.0 8.5 0 1 0 16.0 0a8.0 8.5 0 1 0 -16.0 0zM922.4 882a8.0 8.5 0 1 0 16.0 0a8.0 8.5 0 1 0 -16.0 0zM922.8 875.5a8.0 8.5 0 1 0 16.0 0a8.0 8.5 0 1 0 -16.0 0zM923.1 897.8a8.0 8.5 0 1 0 16.0 0a8.0 8.5 0 1 0 -16.0 0zM923.4 882.6a8.0 8.5 0 1 0 16.0 0a8.0 8.5 0 1 0 -16.0 0zM923.8 881.8a8.0 8.5 0 1 0 16.0 0a8.0 8.5 0 1 0 -16.0 0zM935 898.4a8.0 8.5 0 1 0 16.0 0a8.0 8.5 0 1 0 -16.0 0zM938.4 901.9a8.0 8.5 0 1 0 16.0 0a8.0 8.5 0 1 0 -16.0 0zM941.7 905.5a8.0 8.5 0 1 0 16.0 0a8.0 8.5 0 1 0 -16.0 0zM945 909.2a8.0 8.5 0 1 0 16.0 0a8.0 8.5 0 1 0 -16.0 0zM948.2 912.7a8.0 8.5 0 1 0 16.0 0a8.0 8.5 0 1 0 -16.0 0zM951.3 915.8a8.0 8.5 0 1 0 16.0 0a8.0 8.5 0 1 0 -16.0 0zM954.4 919.2a8.0 8.5 0 1 0 16.0 0a8.0 8.5 0 1 0 -16.0 0zM957.4 922a8.0 8.5 0 1 0 16.0 0a8.0 8.5 0 1 0 -16.0 0zM960.3 925.7a8.0 8.5 0 1 0 16.0 0a8.0 8.5 0 1 0 -16.0 0zM963.2 928.4a8.0 8.5 0 1 0 16.0 0a8.0 8.5 0 1 0 -16.0 0zM966 931.7a8.0 8.5 0 1 0 16.0 0a8.0 8.5 0 1 0 -16.0 0zM968.8 934.4a8.0 8.5 0 1 0 16.0 0a8.0 8.5 0 1 0 -16.0 0zM971.6 937.4a8.0 8.5 0 1 0 16.0 0a8.0 8.5 0 1 0 -16.0 0zM974.2 940.5a8.0 8.5 0 1 0 16.0 0a8.0 8.5 0 1 0 -16.0 0zM976.9 942.9a8.0 8.5 0 1 0 16.0 0a8.0 8.5 0 1 0 -16.0 0zM979.5 946a8.0 8.5 0 1 0 16.0 0a8.0 8.5 0 1 0 -16.0 0zM982 947a8.0 8.5 0 1 0 16.0 0a8.0 8.5 0 1 0 -16.0 0zM984.6 948.7a8.0 8.5 0 1 0 16.0 0a8.0 8.5 0 1 0 -16.0 0zM987 950.2a8.0 8.5 0 1 0 16.0 0a8.0 8.5 0 1 0 -16.0 0zM989.5 952.5a8.0 8.5 0 1 0 16.0 0a8.0 8.5 0 1 0 -16.0 0zM991.9 954.1a8.0 8.5 0 1 0 16.0 0a8.0 8.5 0 1 0 -16.0 0zM994.2 955.4a8.0 8.5 0 1 0 16.0 0a8.0 8.5 0 1 0 -16.0 0zM996.5 956.5a8.0 8.5 0 1 0 16.0 0a8.0 8.5 0 1 0 -16.0 0zM998.8 958.3a8.0 8.5 0 1 0 16.0 0a8.0 8.5 0 1 0 -16.0 0zM1001.1 960.2a8.0 8.5 0 1 0 16.0 0a8.0 8.5 0 1 0 -16.0 0zM1003.3 961.4a8.0 8.5 0 1 0 16.0 0a8.0 8.5 0 1 0 -16.0 0zM1005.5 962.7a8.0 8.5 0 1 0 16.0 0a8.0 8.5 0 1 0 -16.0 0zM1007.7 964.1a8.0 8.5 0 1 0 16.0 0a8.0 8.5 0 1 0 -16.0 0zM1009.8 965.7a8.0 8.5 0 1 0 16.0 0a8.0 8.5 0 1 0 -16.0 0zM1011.9 967.4a8.0 8.5 0 1 0 16.0 0a8.0 8.5 0 1 0 -16.0 0zM1014 968.6a8.0 8.5 0 1 0 16.0 0a8.0 8.5 0 1 0 -16.0 0zM1016 970.2a8.0 8.5 0 1 0 16.0 0a8.0 8.5 0 1 0 -16.0 0zM1018 972.1a8.0 8.5 0 1 0 16.0 0a8.0 8.5 0 1 0 -16.0 0zM1020 972.8a8.0 8.5 0 1 0 16.0 0a8.0 8.5 0 1 0 -16.0 0zM1022 972.9a8.0 8.5 0 1 0 16.0 0a8.0 8.5 0 1 0 -16.0 0zM1023.9 974.3a8.0 8.5 0 1 0 16.0 0a8.0 8.5 0 1 0 -16.0 0zM1025.9 975.2a8.0 8.5 0 1 0 16.0 0a8.0 8.5 0 1 0 -16.0 0zM1027.8 976.1a8.0 8.5 0 1 0 16.0 0a8.0 8.5 0 1 0 -16.0 0zM1029.6 977.4a8.0 8.5 0 1 0 16.0 0a8.0 8.5 0 1 0 -16.0 0zM1031.5 977.9a8.0 8.5 0 1 0 16.0 0a8.0 8.5 0 1 0 -16.0 0zM1033.3 978.9a8.0 8.5 0 1 0 16.0 0a8.0 8.5 0 1 0 -16.0 0zM1035.1 979.8a8.0 8.5 0 1 0 16.0 0a8.0 8.5 0 1 0 -16.0 0zM1036.9 980.8a8.0 8.5 0 1 0 16.0 0a8.0 8.5 0 1 0 -16.0 0zM1038.7 982.1a8.0 8.5 0 1 0 16.0 0a8.0 8.5 0 1 0 -16.0 0zM1040.4 982.8a8.0 8.5 0 1 0 16.0 0a8.0 8.5 0 1 0 -16.0 0zM1042.1 983a8.0 8.5 0 1 0 16.0 0a8.0 8.5 0 1 0 -16.0 0zM1043.8 984.2a8.0 8.5 0 1 0 16.0 0a8.0 8.5 0 1 0 -16.0 0zM1045.5 984.9a8.0 8.5 0 1 0 16.0 0a8.0 8.5 0 1 0 -16.0 0zM1047.2 986.3a8.0 8.5 0 1 0 16.0 0a8.0 8.5 0 1 0 -16.0 0zM1048.8 986.9a8.0 8.5 0 1 0 16.0 0a8.0 8.5 0 1 0 -16.0 0zM1050.5 988a8.0 8.5 0 1 0 16.0 0a8.0 8.5 0 1 0 -16.0 0zM1052.1 988.5a8.0 8.5 0 1 0 16.0 0a8.0 8.5 0 1 0 -16.0 0zM1053.7 988.7a8.0 8.5 0 1 0 16.0 0a8.0 8.5 0 1 0 -16.0 0zM1055.3 990.3a8.0 8.5 0 1 0 16.0 0a8.0 8.5 0 1 0 -16.0 0zM1056.9 991a8.0 8.5 0 1 0 16.0 0a8.0 8.5 0 1 0 -16.0 0zM1058.4 991.9a8.0 8.5 0 1 0 16.0 0a8.0 8.5 0 1 0 -16.0 0zM1059.9 992a8.0 8.5 0 1 0 16.0 0a8.0 8.5 0 1 0 -16.0 0zM1061.5 993.3a8.0 8.5 0 1 0 16.0 0a8.0 8.5 0 1 0 -16.0 0zM1063 993.8a8.0 8.5 0 1 0 16.0 0a8.0 8.5 0 1 0 -16.0 0zM1064.5 994.5a8.0 8.5 0 1 0 16.0 0a8.0 8.5 0 1 0 -16.0 0zM1065.9 995.6a8.0 8.5 0 1 0 16.0 0a8.0 8.5 0 1 0 -16.0 0zM1067.4 996.4a8.0 8.5 0 1 0 16.0 0a8.0 8.5 0 1 0 -16.0 0zM1068.9 996.6a8.0 8.5 0 1 0 16.0 0a8.0 8.5 0 1 0 -16.0 0zM1070.3 997a8.0 8.5 0 1 0 16.0 0a8.0 8.5 0 1 0 -16.0 0zM1071.7 997.5a8.0 8.5 0 1 0 16.0 0a8.0 8.5 0 1 0 -16.0 0zM1073.1 998.9a8.0 8.5 0 1 0 16.0 0a8.0 8.5 0 1 0 -16.0 0zM1074.5 1000.2a8.0 8.5 0 1 0 16.0 0a8.0 8.5 0 1 0 -16.0 0zM1075.9 1000.5a8.0 8.5 0 1 0 16.0 0a8.0 8.5 0 1 0 -16.0 0zM1077.3 1000.3a8.0 8.5 0 1 0 16.0 0a8.0 8.5 0 1 0 -16.0 0zM1078.6 1001.5a8.0 8.5 0 1 0 16.0 0a8.0 8.5 0 1 0 -16.0 0zM1080 1002.7a8.0 8.5 0 1 0 16.0 0a8.0 8.5 0 1 0 -16.0 0zM1081.3 1003.9a8.0 8.5 0 1 0 16.0 0a8.0 8.5 0 1 0 -16.0 0zM1082.7 1004.3a8.0 8.5 0 1 0 16.0 0a8.0 8.5 0 1 0 -16.0 0zM1084 1004.7a8.0 8.5 0 1 0 16.0 0a8.0 8.5 0 1 0 -16.0 0zM1085.3 1005.3a8.0 8.5 0 1 0 16.0 0a8.0 8.5 0 1 0 -16.0 0zM1086.6 1005.4a8.0 8.5 0 1 0 16.0 0a8.0 8.5 0 1 0 -16.0 0zM1087.9 1006.3a8.0 8.5 0 1 0 16.0 0a8.0 8.5 0 1 0 -16.0 0zM1089.1 1007a8.0 8.5 0 1 0 16.0 0a8.0 8.5 0 1 0 -16.0 0zM1090.4 1007.5a8.0 8.5 0 1 0 16.0 0a8.0 8.5 0 1 0 -16.0 0zM1091.6 1008.4a8.0 8.5 0 1 0 16.0 0a8.0 8.5 0 1 0 -16.0 0zM1092.9 1008.8a8.0 8.5 0 1 0 16.0 0a8.0 8.5 0 1 0 -16.0 0zM1094.1 1009.6a8.0 8.5 0 1 0 16.0 0a8.0 8.5 0 1 0 -16.0 0zM1095.3 1010.6a8.0 8.5 0 1 0 16.0 0a8.0 8.5 0 1 0 -16.0 0zM1096.5 1010.9a8.0 8.5 0 1 0 16.0 0a8.0 8.5 0 1 0 -16.0 0zM1097.8 1011.2a8.0 8.5 0 1 0 16.0 0a8.0 8.5 0 1 0 -16.0 0zM1098.9 1011.5a8.0 8.5 0 1 0 16.0 0a8.0 8.5 0 1 0 -16.0 0zM1100.1 1011.5a8.0 8.5 0 1 0 16.0 0a8.0 8.5 0 1 0 -16.0 0zM1101.3 1012.6a8.0 8.5 0 1 0 16.0 0a8.0 8.5 0 1 0 -16.0 0zM1102.5 1013.4a8.0 8.5 0 1 0 16.0 0a8.0 8.5 0 1 0 -16.0 0zM1103.6 1013.2a8.0 8.5 0 1 0 16.0 0a8.0 8.5 0 1 0 -16.0 0zM1104.8 1014.7a8.0 8.5 0 1 0 16.0 0a8.0 8.5 0 1 0 -16.0 0zM1105.9 1014.5a8.0 8.5 0 1 0 16.0 0a8.0 8.5 0 1 0 -16.0 0zM1107 1015.3a8.0 8.5 0 1 0 16.0 0a8.0 8.5 0 1 0 -16.0 0zM1108.2 1015.5a8.0 8.5 0 1 0 16.0 0a8.0 8.5 0 1 0 -16.0 0zM1109.3 1015.6a8.0 8.5 0 1 0 16.0 0a8.0 8.5 0 1 0 -16.0 0zM1110.4 1017.4a8.0 8.5 0 1 0 16.0 0a8.0 8.5 0 1 0 -16.0 0zM1111.5 1016.6a8.0 8.5 0 1 0 16.0 0a8.0 8.5 0 1 0 -16.0 0zM1112.6 1017.9a8.0 8.5 0 1 0 16.0 0a8.0 8.5 0 1 0 -16.0 0zM1113.7 1017.8a8.0 8.5 0 1 0 16.0 0a8.0 8.5 0 1 0 -16.0 0zM1114.7 1018.6a8.0 8.5 0 1 0 16.0 0a8.0 8.5 0 1 0 -16.0 0zM1115.8 1018.7a8.0 8.5 0 1 0 16.0 0a8.0 8.5 0 1 0 -16.0 0zM1116.9 1019.3a8.0 8.5 0 1 0 16.0 0a8.0 8.5 0 1 0 -16.0 0zM1117.9 1020.3a8.0 8.5 0 1 0 16.0 0a8.0 8.5 0 1 0 -16.0 0zM1119 1021.1a8.0 8.5 0 1 0 16.0 0a8.0 8.5 0 1 0 -16.0 0zM1120 1020.5a8.0 8.5 0 1 0 16.0 0a8.0 8.5 0 1 0 -16.0 0zM1121.1 1021.3a8.0 8.5 0 1 0 16.0 0a8.0 8.5 0 1 0 -16.0 0zM1122.1 1022.1a8.0 8.5 0 1 0 16.0 0a8.0 8.5 0 1 0 -16.0 0zM1123.1 1021.9a8.0 8.5 0 1 0 16.0 0a8.0 8.5 0 1 0 -16.0 0zM1124.1 1022.9a8.0 8.5 0 1 0 16.0 0a8.0 8.5 0 1 0 -16.0 0zM1125.1 1022.7a8.0 8.5 0 1 0 16.0 0a8.0 8.5 0 1 0 -16.0 0zM1126.1 1023.7a8.0 8.5 0 1 0 16.0 0a8.0 8.5 0 1 0 -16.0 0zM1127.1 1024.1a8.0 8.5 0 1 0 16.0 0a8.0 8.5 0 1 0 -16.0 0zM1128.1 1024.8a8.0 8.5 0 1 0 16.0 0a8.0 8.5 0 1 0 -16.0 0zM1129.1 1024.9a8.0 8.5 0 1 0 16.0 0a8.0 8.5 0 1 0 -16.0 0zM1130.1 1024.7a8.0 8.5 0 1 0 16.0 0a8.0 8.5 0 1 0 -16.0 0zM1131 1025.9a8.0 8.5 0 1 0 16.0 0a8.0 8.5 0 1 0 -16.0 0zM1132 1025.6a8.0 8.5 0 1 0 16.0 0a8.0 8.5 0 1 0 -16.0 0zM1133 1026.8a8.0 8.5 0 1 0 16.0 0a8.0 8.5 0 1 0 -16.0 0zM1133.9 1027.5a8.0 8.5 0 1 0 16.0 0a8.0 8.5 0 1 0 -16.0 0zM1134.9 1027.5a8.0 8.5 0 1 0 16.0 0a8.0 8.5 0 1 0 -16.0 0zM1135.8 1027.5a8.0 8.5 0 1 0 16.0 0a8.0 8.5 0 1 0 -16.0 0zM1136.7 1028.6a8.0 8.5 0 1 0 16.0 0a8.0 8.5 0 1 0 -16.0 0zM1137.7 1028.6a8.0 8.5 0 1 0 16.0 0a8.0 8.5 0 1 0 -16.0 0zM1138.6 1028.4a8.0 8.5 0 1 0 16.0 0a8.0 8.5 0 1 0 -16.0 0zM1139.5 1029.2a8.0 8.5 0 1 0 16.0 0a8.0 8.5 0 1 0 -16.0 0zM1140.4 1030.3a8.0 8.5 0 1 0 16.0 0a8.0 8.5 0 1 0 -16.0 0zM1141.3 1030a8.0 8.5 0 1 0 16.0 0a8.0 8.5 0 1 0 -16.0 0zM1142.2 1030.6a8.0 8.5 0 1 0 16.0 0a8.0 8.5 0 1 0 -16.0 0zM1143.1 1030.8a8.0 8.5 0 1 0 16.0 0a8.0 8.5 0 1 0 -16.0 0zM1144 1030.6a8.0 8.5 0 1 0 16.0 0a8.0 8.5 0 1 0 -16.0 0zM1144.9 1031.5a8.0 8.5 0 1 0 16.0 0a8.0 8.5 0 1 0 -16.0 0zM1145.8 1032.2a8.0 8.5 0 1 0 16.0 0a8.0 8.5 0 1 0 -16.0 0zM1146.6 1032.5a8.0 8.5 0 1 0 16.0 0a8.0 8.5 0 1 0 -16.0 0zM1147.5 1032.7a8.0 8.5 0 1 0 16.0 0a8.0 8.5 0 1 0 -16.0 0zM1148.4 1032.3a8.0 8.5 0 1 0 16.0 0a8.0 8.5 0 1 0 -16.0 0zM1149.2 1034a8.0 8.5 0 1 0 16.0 0a8.0 8.5 0 1 0 -16.0 0zM1150.1 1034.2a8.0 8.5 0 1 0 16.0 0a8.0 8.5 0 1 0 -16.0 0zM1151 1034.7a8.0 8.5 0 1 0 16.0 0a8.0 8.5 0 1 0 -16.0 0zM1151.8 1035.2a8.0 8.5 0 1 0 16.0 0a8.0 8.5 0 1 0 -16.0 0zM1152.6 1034.8a8.0 8.5 0 1 0 16.0 0a8.0 8.5 0 1 0 -16.0 0zM1153.5 1035.1a8.0 8.5 0 1 0 16.0 0a8.0 8.5 0 1 0 -16.0 0zM1154.3 1035.9a8.0 8.5 0 1 0 16.0 0a8.0 8.5 0 1 0 -16.0 0zM1155.1 1036.8a8.0 8.5 0 1 0 16.0 0a8.0 8.5 0 1 0 -16.0 0zM1156 1035.8a8.0 8.5 0 1 0 16.0 0a8.0 8.5 0 1 0 -16.0 0zM1156.8 1036.7a8.0 8.5 0 1 0 16.0 0a8.0 8.5 0 1 0 -16.0 0zM1157.6 1036.9a8.0 8.5 0 1 0 16.0 0a8.0 8.5 0 1 0 -16.0 0zM1158.4 1037.7a8.0 8.5 0 1 0 16.0 0a8.0 8.5 0 1 0 -16.0 0zM1159.2 1038.4a8.0 8.5 0 1 0 16.0 0a8.0 8.5 0 1 0 -16.0 0zM1160 1038.1a8.0 8.5 0 1 0 16.0 0a8.0 8.5 0 1 0 -16.0 0zM1160.8 1038a8.0 8.5 0 1 0 16.0 0a8.0 8.5 0 1 0 -16.0 0zM1161.6 1038.9a8.0 8.5 0 1 0 16.0 0a8.0 8.5 0 1 0 -16.0 0zM1162.4 1039.1a8.0 8.5 0 1 0 16.0 0a8.0 8.5 0 1 0 -16.0 0zM1163.2 1038.9a8.0 8.5 0 1 0 16.0 0a8.0 8.5 0 1 0 -16.0 0zM1164 1040.3a8.0 8.5 0 1 0 16.0 0a8.0 8.5 0 1 0 -16.0 0zM1164.8 1040a8.0 8.5 0 1 0 16.0 0a8.0 8.5 0 1 0 -16.0 0zM1165.5 1040.8a8.0 8.5 0 1 0 16.0 0a8.0 8.5 0 1 0 -16.0 0zM1166.3 1040.4a8.0 8.5 0 1 0 16.0 0a8.0 8.5 0 1 0 -16.0 0zM1167.1 1041.7a8.0 8.5 0 1 0 16.0 0a8.0 8.5 0 1 0 -16.0 0zM1167.8 1041a8.0 8.5 0 1 0 16.0 0a8.0 8.5 0 1 0 -16.0 0zM1168.6 1042.3a8.0 8.5 0 1 0 16.0 0a8.0 8.5 0 1 0 -16.0 0zM1169.4 1041.5a8.0 8.5 0 1 0 16.0 0a8.0 8.5 0 1 0 -16.0 0zM1170.1 1043.1a8.0 8.5 0 1 0 16.0 0a8.0 8.5 0 1 0 -16.0 0zM1170.9 1042.7a8.0 8.5 0 1 0 16.0 0a8.0 8.5 0 1 0 -16.0 0zM1171.6 1042.6a8.0 8.5 0 1 0 16.0 0a8.0 8.5 0 1 0 -16.0 0zM1172.3 1043.4a8.0 8.5 0 1 0 16.0 0a8.0 8.5 0 1 0 -16.0 0zM1173.1 1044a8.0 8.5 0 1 0 16.0 0a8.0 8.5 0 1 0 -16.0 0zM1173.8 1043.8a8.0 8.5 0 1 0 16.0 0a8.0 8.5 0 1 0 -16.0 0zM1174.6 1044.3a8.0 8.5 0 1 0 16.0 0a8.0 8.5 0 1 0 -16.0 0zM1175.3 1044.9a8.0 8.5 0 1 0 16.0 0a8.0 8.5 0 1 0 -16.0 0zM1176 1045a8.0 8.5 0 1 0 16.0 0a8.0 8.5 0 1 0 -16.0 0zM1176.7 1044.2a8.0 8.5 0 1 0 16.0 0a8.0 8.5 0 1 0 -16.0 0zM1177.4 1045.5a8.0 8.5 0 1 0 16.0 0a8.0 8.5 0 1 0 -16.0 0zM1178.2 1046.2a8.0 8.5 0 1 0 16.0 0a8.0 8.5 0 1 0 -16.0 0zM1178.9 1046.5a8.0 8.5 0 1 0 16.0 0a8.0 8.5 0 1 0 -16.0 0zM1179.6 1047a8.0 8.5 0 1 0 16.0 0a8.0 8.5 0 1 0 -16.0 0zM1180.3 1046.7a8.0 8.5 0 1 0 16.0 0a8.0 8.5 0 1 0 -16.0 0zM1181 1048.3a8.0 8.5 0 1 0 16.0 0a8.0 8.5 0 1 0 -16.0 0zM1181.7 1047.9a8.0 8.5 0 1 0 16.0 0a8.0 8.5 0 1 0 -16.0 0zM1182.4 1048a8.0 8.5 0 1 0 16.0 0a8.0 8.5 0 1 0 -16.0 0zM1183.1 1048.6a8.0 8.5 0 1 0 16.0 0a8.0 8.5 0 1 0 -16.0 0zM1183.8 1048.8a8.0 8.5 0 1 0 16.0 0a8.0 8.5 0 1 0 -16.0 0zM1184.4 1048.8a8.0 8.5 0 1 0 16.0 0a8.0 8.5 0 1 0 -16.0 0zM1185.1 1048.8a8.0 8.5 0 1 0 16.0 0a8.0 8.5 0 1 0 -16.0 0zM1185.8 1049.7a8.0 8.5 0 1 0 16.0 0a8.0 8.5 0 1 0 -16.0 0zM1186.5 1049.8a8.0 8.5 0 1 0 16.0 0a8.0 8.5 0 1 0 -16.0 0zM1187.2 1049.2a8.0 8.5 0 1 0 16.0 0a8.0 8.5 0 1 0 -16.0 0zM1187.8 1049.8a8.0 8.5 0 1 0 16.0 0a8.0 8.5 0 1 0 -16.0 0zM1188.5 1050.7a8.0 8.5 0 1 0 16.0 0a8.0 8.5 0 1 0 -16.0 0zM1189.2 1050.8a8.0 8.5 0 1 0 16.0 0a8.0 8.5 0 1 0 -16.0 0zM1189.8 1051.2a8.0 8.5 0 1 0 16.0 0a8.0 8.5 0 1 0 -16.0 0zM1190.5 1051.6a8.0 8.5 0 1 0 16.0 0a8.0 8.5 0 1 0 -16.0 0zM1191.1 1051.7a8.0 8.5 0 1 0 16.0 0a8.0 8.5 0 1 0 -16.0 0zM1191.8 1052.5a8.0 8.5 0 1 0 16.0 0a8.0 8.5 0 1 0 -16.0 0zM1192.4 1052a8.0 8.5 0 1 0 16.0 0a8.0 8.5 0 1 0 -16.0 0zM1193.1 1052.3a8.0 8.5 0 1 0 16.0 0a8.0 8.5 0 1 0 -16.0 0zM1193.7 1052.9a8.0 8.5 0 1 0 16.0 0a8.0 8.5 0 1 0 -16.0 0zM1194.4 1053.3a8.0 8.5 0 1 0 16.0 0a8.0 8.5 0 1 0 -16.0 0zM1195 1053.6a8.0 8.5 0 1 0 16.0 0a8.0 8.5 0 1 0 -16.0 0zM1195.7 1054.2a8.0 8.5 0 1 0 16.0 0a8.0 8.5 0 1 0 -16.0 0zM1196.3 1053.7a8.0 8.5 0 1 0 16.0 0a8.0 8.5 0 1 0 -16.0 0zM1196.9 1054.6a8.0 8.5 0 1 0 16.0 0a8.0 8.5 0 1 0 -16.0 0zM1197.6 1054.6a8.0 8.5 0 1 0 16.0 0a8.0 8.5 0 1 0 -16.0 0zM1198.2 1054.3a8.0 8.5 0 1 0 16.0 0a8.0 8.5 0 1 0 -16.0 0zM1198.8 1054.9a8.0 8.5 0 1 0 16.0 0a8.0 8.5 0 1 0 -16.0 0zM1199.4 1056a8.0 8.5 0 1 0 16.0 0a8.0 8.5 0 1 0 -16.0 0zM1200.1 1055.8a8.0 8.5 0 1 0 16.0 0a8.0 8.5 0 1 0 -16.0 0zM1200.7 1055.6a8.0 8.5 0 1 0 16.0 0a8.0 8.5 0 1 0 -16.0 0zM1201.3 1055.1a8.0 8.5 0 1 0 16.0 0a8.0 8.5 0 1 0 -16.0 0zM1201.9 1056a8.0 8.5 0 1 0 16.0 0a8.0 8.5 0 1 0 -16.0 0zM1202.5 1056.3a8.0 8.5 0 1 0 16.0 0a8.0 8.5 0 1 0 -16.0 0zM1203.1 1056.8a8.0 8.5 0 1 0 16.0 0a8.0 8.5 0 1 0 -16.0 0zM1203.7 1058a8.0 8.5 0 1 0 16.0 0a8.0 8.5 0 1 0 -16.0 0zM1204.3 1057.6a8.0 8.5 0 1 0 16.0 0a8.0 8.5 0 1 0 -16.0 0zM1204.9 1057.7a8.0 8.5 0 1 0 16.0 0a8.0 8.5 0 1 0 -16.0 0zM1205.5 1057.5a8.0 8.5 0 1 0 16.0 0a8.0 8.5 0 1 0 -16.0 0zM1206.1 1057.6a8.0 8.5 0 1 0 16.0 0a8.0 8.5 0 1 0 -16.0 0zM1206.7 1058.3a8.0 8.5 0 1 0 16.0 0a8.0 8.5 0 1 0 -16.0 0zM1207.3 1058.4a8.0 8.5 0 1 0 16.0 0a8.0 8.5 0 1 0 -16.0 0zM1207.9 1060.1a8.0 8.5 0 1 0 16.0 0a8.0 8.5 0 1 0 -16.0 0zM1208.5 1059a8.0 8.5 0 1 0 16.0 0a8.0 8.5 0 1 0 -16.0 0zM1209.1 1059.2a8.0 8.5 0 1 0 16.0 0a8.0 8.5 0 1 0 -16.0 0zM1209.7 1060.1a8.0 8.5 0 1 0 16.0 0a8.0 8.5 0 1 0 -16.0 0zM1210.3 1059.9a8.0 8.5 0 1 0 16.0 0a8.0 8.5 0 1 0 -16.0 0zM1210.9 1059.7a8.0 8.5 0 1 0 16.0 0a8.0 8.5 0 1 0 -16.0 0zM1211.5 1061a8.0 8.5 0 1 0 16.0 0a8.0 8.5 0 1 0 -16.0 0zM1212.1 1060.6a8.0 8.5 0 1 0 16.0 0a8.0 8.5 0 1 0 -16.0 0zM1212.7 1060.4a8.0 8.5 0 1 0 16.0 0a8.0 8.5 0 1 0 -16.0 0zM1213.3 1061.3a8.0 8.5 0 1 0 16.0 0a8.0 8.5 0 1 0 -16.0 0zM1213.9 1061.7a8.0 8.5 0 1 0 16.0 0a8.0 8.5 0 1 0 -16.0 0zM1214.5 1061.6a8.0 8.5 0 1 0 16.0 0a8.0 8.5 0 1 0 -16.0 0zM1215.1 1062.3a8.0 8.5 0 1 0 16.0 0a8.0 8.5 0 1 0 -16.0 0zM1215.7 1062.6a8.0 8.5 0 1 0 16.0 0a8.0 8.5 0 1 0 -16.0 0zM1216.3 1062.2a8.0 8.5 0 1 0 16.0 0a8.0 8.5 0 1 0 -16.0 0zM1216.9 1061.9a8.0 8.5 0 1 0 16.0 0a8.0 8.5 0 1 0 -16.0 0zM1217.5 1062.1a8.0 8.5 0 1 0 16.0 0a8.0 8.5 0 1 0 -16.0 0zM1218.1 1063.2a8.0 8.5 0 1 0 16.0 0a8.0 8.5 0 1 0 -16.0 0zM1218.7 1064a8.0 8.5 0 1 0 16.0 0a8.0 8.5 0 1 0 -16.0 0zM1219.3 1064.2a8.0 8.5 0 1 0 16.0 0a8.0 8.5 0 1 0 -16.0 0zM1219.9 1064.6a8.0 8.5 0 1 0 16.0 0a8.0 8.5 0 1 0 -16.0 0zM1220.5 1065.1a8.0 8.5 0 1 0 16.0 0a8.0 8.5 0 1 0 -16.0 0zM1221.1 1064.6a8.0 8.5 0 1 0 16.0 0a8.0 8.5 0 1 0 -16.0 0zM1221.7 1065.3a8.0 8.5 0 1 0 16.0 0a8.0 8.5 0 1 0 -16.0 0zM1222.3 1064.5a8.0 8.5 0 1 0 16.0 0a8.0 8.5 0 1 0 -16.0 0zM1222.9 1065.6a8.0 8.5 0 1 0 16.0 0a8.0 8.5 0 1 0 -16.0 0zM1223.5 1065.8a8.0 8.5 0 1 0 16.0 0a8.0 8.5 0 1 0 -16.0 0zM1224.1 1065.8a8.0 8.5 0 1 0 16.0 0a8.0 8.5 0 1 0 -16.0 0zM1224.7 1066a8.0 8.5 0 1 0 16.0 0a8.0 8.5 0 1 0 -16.0 0zM1225.3 1065.9a8.0 8.5 0 1 0 16.0 0a8.0 8.5 0 1 0 -16.0 0zM1225.9 1066.7a8.0 8.5 0 1 0 16.0 0a8.0 8.5 0 1 0 -16.0 0zM1226.5 1067.4a8.0 8.5 0 1 0 16.0 0a8.0 8.5 0 1 0 -16.0 0zM1227.1 1067a8.0 8.5 0 1 0 16.0 0a8.0 8.5 0 1 0 -16.0 0zM1227.7 1067.6a8.0 8.5 0 1 0 16.0 0a8.0 8.5 0 1 0 -16.0 0zM1228.3 1067.4a8.0 8.5 0 1 0 16.0 0a8.0 8.5 0 1 0 -16.0 0zM1228.9 1068.1a8.0 8.5 0 1 0 16.0 0a8.0 8.5 0 1 0 -16.0 0zM1229.5 1067.8a8.0 8.5 0 1 0 16.0 0a8.0 8.5 0 1 0 -16.0 0zM1230.1 1068.6a8.0 8.5 0 1 0 16.0 0a8.0 8.5 0 1 0 -16.0 0zM1230.7 1068.6a8.0 8.5 0 1 0 16.0 0a8.0 8.5 0 1 0 -16.0 0zM1231.3 1069.1a8.0 8.5 0 1 0 16.0 0a8.0 8.5 0 1 0 -16.0 0zM1231.9 1069a8.0 8.5 0 1 0 16.0 0a8.0 8.5 0 1 0 -16.0 0zM1232.5 1069a8.0 8.5 0 1 0 16.0 0a8.0 8.5 0 1 0 -16.0 0zM1233.1 1069.6a8.0 8.5 0 1 0 16.0 0a8.0 8.5 0 1 0 -16.0 0zM1233.7 1070.4a8.0 8.5 0 1 0 16.0 0a8.0 8.5 0 1 0 -16.0 0zM1234.3 1070.9a8.0 8.5 0 1 0 16.0 0a8.0 8.5 0 1 0 -16.0 0zM1234.9 1070.4a8.0 8.5 0 1 0 16.0 0a8.0 8.5 0 1 0 -16.0 0zM1235.5 1071.1a8.0 8.5 0 1 0 16.0 0a8.0 8.5 0 1 0 -16.0 0zM1236.1 1071.4a8.0 8.5 0 1 0 16.0 0a8.0 8.5 0 1 0 -16.0 0zM1236.7 1071.5a8.0 8.5 0 1 0 16.0 0a8.0 8.5 0 1 0 -16.0 0zM1237.3 1071a8.0 8.5 0 1 0 16.0 0a8.0 8.5 0 1 0 -16.0 0zM1237.9 1072a8.0 8.5 0 1 0 16.0 0a8.0 8.5 0 1 0 -16.0 0zM1238.5 1071.7a8.0 8.5 0 1 0 16.0 0a8.0 8.5 0 1 0 -16.0 0zM1239.1 1072.8a8.0 8.5 0 1 0 16.0 0a8.0 8.5 0 1 0 -16.0 0zM1239.7 1072.9a8.0 8.5 0 1 0 16.0 0a8.0 8.5 0 1 0 -16.0 0zM1240.3 1073.1a8.0 8.5 0 1 0 16.0 0a8.0 8.5 0 1 0 -16.0 0zM1240.9 1072.1a8.0 8.5 0 1 0 16.0 0a8.0 8.5 0 1 0 -16.0 0zM1241.5 1073.6a8.0 8.5 0 1 0 16.0 0a8.0 8.5 0 1 0 -16.0 0zM1242.1 1073.9a8.0 8.5 0 1 0 16.0 0a8.0 8.5 0 1 0 -16.0 0zM1242.7 1073.4a8.0 8.5 0 1 0 16.0 0a8.0 8.5 0 1 0 -16.0 0zM1243.3 1074.5a8.0 8.5 0 1 0 16.0 0a8.0 8.5 0 1 0 -16.0 0zM1243.9 1074.4a8.0 8.5 0 1 0 16.0 0a8.0 8.5 0 1 0 -16.0 0zM1244.5 1074.5a8.0 8.5 0 1 0 16.0 0a8.0 8.5 0 1 0 -16.0 0zM1245.1 1074.5a8.0 8.5 0 1 0 16.0 0a8.0 8.5 0 1 0 -16.0 0zM1245.7 1074.6a8.0 8.5 0 1 0 16.0 0a8.0 8.5 0 1 0 -16.0 0zM1246.3 1075.1a8.0 8.5 0 1 0 16.0 0a8.0 8.5 0 1 0 -16.0 0zM1246.9 1076.8a8.0 8.5 0 1 0 16.0 0a8.0 8.5 0 1 0 -16.0 0zM1247.5 1075.8a8.0 8.5 0 1 0 16.0 0a8.0 8.5 0 1 0 -16.0 0zM1248.1 1076.1a8.0 8.5 0 1 0 16.0 0a8.0 8.5 0 1 0 -16.0 0zM1248.7 1076a8.0 8.5 0 1 0 16.0 0a8.0 8.5 0 1 0 -16.0 0zM1249.3 1076.2a8.0 8.5 0 1 0 16.0 0a8.0 8.5 0 1 0 -16.0 0zM1249.9 1076.5a8.0 8.5 0 1 0 16.0 0a8.0 8.5 0 1 0 -16.0 0zM1250.5 1076.6a8.0 8.5 0 1 0 16.0 0a8.0 8.5 0 1 0 -16.0 0zM1251.1 1077.5a8.0 8.5 0 1 0 16.0 0a8.0 8.5 0 1 0 -16.0 0zM1251.7 1077.3a8.0 8.5 0 1 0 16.0 0a8.0 8.5 0 1 0 -16.0 0zM1252.3 1078a8.0 8.5 0 1 0 16.0 0a8.0 8.5 0 1 0 -16.0 0zM1252.9 1077.4a8.0 8.5 0 1 0 16.0 0a8.0 8.5 0 1 0 -16.0 0zM1253.5 1078.5a8.0 8.5 0 1 0 16.0 0a8.0 8.5 0 1 0 -16.0 0zM1254.1 1078.3a8.0 8.5 0 1 0 16.0 0a8.0 8.5 0 1 0 -16.0 0zM1254.7 1078.8a8.0 8.5 0 1 0 16.0 0a8.0 8.5 0 1 0 -16.0 0zM1255.3 1078.8a8.0 8.5 0 1 0 16.0 0a8.0 8.5 0 1 0 -16.0 0zM1255.9 1078.7a8.0 8.5 0 1 0 16.0 0a8.0 8.5 0 1 0 -16.0 0zM1256.5 1079.7a8.0 8.5 0 1 0 16.0 0a8.0 8.5 0 1 0 -16.0 0zM1257.1 1079.3a8.0 8.5 0 1 0 16.0 0a8.0 8.5 0 1 0 -16.0 0zM1257.7 1079.7a8.0 8.5 0 1 0 16.0 0a8.0 8.5 0 1 0 -16.0 0zM1258.3 1079.6a8.0 8.5 0 1 0 16.0 0a8.0 8.5 0 1 0 -16.0 0zM1258.9 1080.3a8.0 8.5 0 1 0 16.0 0a8.0 8.5 0 1 0 -16.0 0zM1259.5 1080.3a8.0 8.5 0 1 0 16.0 0a8.0 8.5 0 1 0 -16.0 0zM1260.1 1080.8a8.0 8.5 0 1 0 16.0 0a8.0 8.5 0 1 0 -16.0 0zM1260.7 1081a8.0 8.5 0 1 0 16.0 0a8.0 8.5 0 1 0 -16.0 0zM1261.3 1080.9a8.0 8.5 0 1 0 16.0 0a8.0 8.5 0 1 0 -16.0 0zM1261.9 1080.8a8.0 8.5 0 1 0 16.0 0a8.0 8.5 0 1 0 -16.0 0zM1262.5 1081.8a8.0 8.5 0 1 0 16.0 0a8.0 8.5 0 1 0 -16.0 0zM1263.1 1082.2a8.0 8.5 0 1 0 16.0 0a8.0 8.5 0 1 0 -16.0 0zM1263.7 1082.4a8.0 8.5 0 1 0 16.0 0a8.0 8.5 0 1 0 -16.0 0zM1264.3 1081.8a8.0 8.5 0 1 0 16.0 0a8.0 8.5 0 1 0 -16.0 0zM1264.9 1082.8a8.0 8.5 0 1 0 16.0 0a8.0 8.5 0 1 0 -16.0 0zM1265.5 1082.9a8.0 8.5 0 1 0 16.0 0a8.0 8.5 0 1 0 -16.0 0zM1266.1 1083.1a8.0 8.5 0 1 0 16.0 0a8.0 8.5 0 1 0 -16.0 0zM1266.7 1083.4a8.0 8.5 0 1 0 16.0 0a8.0 8.5 0 1 0 -16.0 0zM1267.3 1083.3a8.0 8.5 0 1 0 16.0 0a8.0 8.5 0 1 0 -16.0 0zM1267.9 1083.8a8.0 8.5 0 1 0 16.0 0a8.0 8.5 0 1 0 -16.0 0zM1268.5 1084.3a8.0 8.5 0 1 0 16.0 0a8.0 8.5 0 1 0 -16.0 0zM1269.1 1084a8.0 8.5 0 1 0 16.0 0a8.0 8.5 0 1 0 -16.0 0zM1269.7 1083.8a8.0 8.5 0 1 0 16.0 0a8.0 8.5 0 1 0 -16.0 0zM1270.3 1084.6a8.0 8.5 0 1 0 16.0 0a8.0 8.5 0 1 0 -16.0 0zM1270.9 1085a8.0 8.5 0 1 0 16.0 0a8.0 8.5 0 1 0 -16.0 0zM1271.5 1084.4a8.0 8.5 0 1 0 16.0 0a8.0 8.5 0 1 0 -16.0 0zM1272.1 1085.1a8.0 8.5 0 1 0 16.0 0a8.0 8.5 0 1 0 -16.0 0zM1272.7 1085.8a8.0 8.5 0 1 0 16.0 0a8.0 8.5 0 1 0 -16.0 0zM1273.3 1085.8a8.0 8.5 0 1 0 16.0 0a8.0 8.5 0 1 0 -16.0 0zM1273.9 1086.1a8.0 8.5 0 1 0 16.0 0a8.0 8.5 0 1 0 -16.0 0zM1274.5 1085.8a8.0 8.5 0 1 0 16.0 0a8.0 8.5 0 1 0 -16.0 0zM1275.1 1086.9a8.0 8.5 0 1 0 16.0 0a8.0 8.5 0 1 0 -16.0 0zM1275.7 1087.5a8.0 8.5 0 1 0 16.0 0a8.0 8.5 0 1 0 -16.0 0zM1276.3 1086.9a8.0 8.5 0 1 0 16.0 0a8.0 8.5 0 1 0 -16.0 0zM1276.9 1086.9a8.0 8.5 0 1 0 16.0 0a8.0 8.5 0 1 0 -16.0 0zM1277.5 1087a8.0 8.5 0 1 0 16.0 0a8.0 8.5 0 1 0 -16.0 0zM1278.1 1088a8.0 8.5 0 1 0 16.0 0a8.0 8.5 0 1 0 -16.0 0zM1278.7 1088a8.0 8.5 0 1 0 16.0 0a8.0 8.5 0 1 0 -16.0 0zM1279.3 1087.8a8.0 8.5 0 1 0 16.0 0a8.0 8.5 0 1 0 -16.0 0zM1279.9 1088.9a8.0 8.5 0 1 0 16.0 0a8.0 8.5 0 1 0 -16.0 0zM1280.5 1088.9a8.0 8.5 0 1 0 16.0 0a8.0 8.5 0 1 0 -16.0 0zM1281.1 1089.1a8.0 8.5 0 1 0 16.0 0a8.0 8.5 0 1 0 -16.0 0zM1281.7 1088.4a8.0 8.5 0 1 0 16.0 0a8.0 8.5 0 1 0 -16.0 0zM1282.3 1089.3a8.0 8.5 0 1 0 16.0 0a8.0 8.5 0 1 0 -16.0 0zM1282.9 1089.8a8.0 8.5 0 1 0 16.0 0a8.0 8.5 0 1 0 -16.0 0zM1283.5 1089.3a8.0 8.5 0 1 0 16.0 0a8.0 8.5 0 1 0 -16.0 0zM1284.1 1090.4a8.0 8.5 0 1 0 16.0 0a8.0 8.5 0 1 0 -16.0 0zM1284.7 1090.8a8.0 8.5 0 1 0 16.0 0a8.0 8.5 0 1 0 -16.0 0zM1285.3 1090.9a8.0 8.5 0 1 0 16.0 0a8.0 8.5 0 1 0 -16.0 0zM1285.9 1090.4a8.0 8.5 0 1 0 16.0 0a8.0 8.5 0 1 0 -16.0 0zM1286.5 1090.7a8.0 8.5 0 1 0 16.0 0a8.0 8.5 0 1 0 -16.0 0zM1287.1 1091.6a8.0 8.5 0 1 0 16.0 0a8.0 8.5 0 1 0 -16.0 0zM1287.7 1091.8a8.0 8.5 0 1 0 16.0 0a8.0 8.5 0 1 0 -16.0 0zM1288.3 1092.2a8.0 8.5 0 1 0 16.0 0a8.0 8.5 0 1 0 -16.0 0zM1288.9 1092.4a8.0 8.5 0 1 0 16.0 0a8.0 8.5 0 1 0 -16.0 0zM1289.5 1092.1a8.0 8.5 0 1 0 16.0 0a8.0 8.5 0 1 0 -16.0 0zM1290.1 1092.2a8.0 8.5 0 1 0 16.0 0a8.0 8.5 0 1 0 -16.0 0zM1290.7 1091.9a8.0 8.5 0 1 0 16.0 0a8.0 8.5 0 1 0 -16.0 0zM1291.3 1093.2a8.0 8.5 0 1 0 16.0 0a8.0 8.5 0 1 0 -16.0 0zM1291.9 1094a8.0 8.5 0 1 0 16.0 0a8.0 8.5 0 1 0 -16.0 0zM1292.5 1093.1a8.0 8.5 0 1 0 16.0 0a8.0 8.5 0 1 0 -16.0 0zM1293.1 1093.4a8.0 8.5 0 1 0 16.0 0a8.0 8.5 0 1 0 -16.0 0zM1293.7 1094a8.0 8.5 0 1 0 16.0 0a8.0 8.5 0 1 0 -16.0 0zM1294.3 1094.2a8.0 8.5 0 1 0 16.0 0a8.0 8.5 0 1 0 -16.0 0zM1294.9 1093.7a8.0 8.5 0 1 0 16.0 0a8.0 8.5 0 1 0 -16.0 0zM1295.5 1094.2a8.0 8.5 0 1 0 16.0 0a8.0 8.5 0 1 0 -16.0 0zM1296.1 1094.3a8.0 8.5 0 1 0 16.0 0a8.0 8.5 0 1 0 -16.0 0zM1296.7 1095.8a8.0 8.5 0 1 0 16.0 0a8.0 8.5 0 1 0 -16.0 0zM1297.3 1094.9a8.0 8.5 0 1 0 16.0 0a8.0 8.5 0 1 0 -16.0 0zM1297.9 1095.8a8.0 8.5 0 1 0 16.0 0a8.0 8.5 0 1 0 -16.0 0zM1298.5 1096.4a8.0 8.5 0 1 0 16.0 0a8.0 8.5 0 1 0 -16.0 0zM1299.1 1096.6a8.0 8.5 0 1 0 16.0 0a8.0 8.5 0 1 0 -16.0 0zM1299.7 1096.7a8.0 8.5 0 1 0 16.0 0a8.0 8.5 0 1 0 -16.0 0zM1300.3 1097a8.0 8.5 0 1 0 16.0 0a8.0 8.5 0 1 0 -16.0 0zM1300.9 1096.1a8.0 8.5 0 1 0 16.0 0a8.0 8.5 0 1 0 -16.0 0zM1301.5 1096.7a8.0 8.5 0 1 0 16.0 0a8.0 8.5 0 1 0 -16.0 0zM1302.1 1096.8a8.0 8.5 0 1 0 16.0 0a8.0 8.5 0 1 0 -16.0 0zM1302.7 1097.2a8.0 8.5 0 1 0 16.0 0a8.0 8.5 0 1 0 -16.0 0zM1303.3 1098.6a8.0 8.5 0 1 0 16.0 0a8.0 8.5 0 1 0 -16.0 0zM1303.9 1097.1a8.0 8.5 0 1 0 16.0 0a8.0 8.5 0 1 0 -16.0 0zM1304.5 1098.2a8.0 8.5 0 1 0 16.0 0a8.0 8.5 0 1 0 -16.0 0zM1305.1 1097.7a8.0 8.5 0 1 0 16.0 0a8.0 8.5 0 1 0 -16.0 0zM1305.7 1099a8.0 8.5 0 1 0 16.0 0a8.0 8.5 0 1 0 -16.0 0zM1306.3 1099.2a8.0 8.5 0 1 0 16.0 0a8.0 8.5 0 1 0 -16.0 0zM1306.9 1098.7a8.0 8.5 0 1 0 16.0 0a8.0 8.5 0 1 0 -16.0 0zM1307.5 1100a8.0 8.5 0 1 0 16.0 0a8.0 8.5 0 1 0 -16.0 0zM1308.1 1099.4a8.0 8.5 0 1 0 16.0 0a8.0 8.5 0 1 0 -16.0 0zM1308.7 1100.2a8.0 8.5 0 1 0 16.0 0a8.0 8.5 0 1 0 -16.0 0zM1309.3 1100a8.0 8.5 0 1 0 16.0 0a8.0 8.5 0 1 0 -16.0 0zM1309.9 1099.9a8.0 8.5 0 1 0 16.0 0a8.0 8.5 0 1 0 -16.0 0zM1310.5 1100.2a8.0 8.5 0 1 0 16.0 0a8.0 8.5 0 1 0 -16.0 0zM1311.1 1100.5a8.0 8.5 0 1 0 16.0 0a8.0 8.5 0 1 0 -16.0 0zM1311.7 1101a8.0 8.5 0 1 0 16.0 0a8.0 8.5 0 1 0 -16.0 0zM1312.3 1101.1a8.0 8.5 0 1 0 16.0 0a8.0 8.5 0 1 0 -16.0 0zM1312.9 1102.2a8.0 8.5 0 1 0 16.0 0a8.0 8.5 0 1 0 -16.0 0zM1313.5 1101.4a8.0 8.5 0 1 0 16.0 0a8.0 8.5 0 1 0 -16.0 0zM1314.1 1101.6a8.0 8.5 0 1 0 16.0 0a8.0 8.5 0 1 0 -16.0 0zM1314.7 1101.7a8.0 8.5 0 1 0 16.0 0a8.0 8.5 0 1 0 -16.0 0zM1315.3 1101.9a8.0 8.5 0 1 0 16.0 0a8.0 8.5 0 1 0 -16.0 0zM1315.9 1101.9a8.0 8.5 0 1 0 16.0 0a8.0 8.5 0 1 0 -16.0 0zM1316.5 1102.3a8.0 8.5 0 1 0 16.0 0a8.0 8.5 0 1 0 -16.0 0zM1317.1 1103.3a8.0 8.5 0 1 0 16.0 0a8.0 8.5 0 1 0 -16.0 0zM1317.7 1103.2a8.0 8.5 0 1 0 16.0 0a8.0 8.5 0 1 0 -16.0 0zM1318.3 1103.3a8.0 8.5 0 1 0 16.0 0a8.0 8.5 0 1 0 -16.0 0zM1318.9 1103.7a8.0 8.5 0 1 0 16.0 0a8.0 8.5 0 1 0 -16.0 0zM1319.5 1104.3a8.0 8.5 0 1 0 16.0 0a8.0 8.5 0 1 0 -16.0 0zM1320.1 1104.3a8.0 8.5 0 1 0 16.0 0a8.0 8.5 0 1 0 -16.0 0zM1320.7 1104.6a8.0 8.5 0 1 0 16.0 0a8.0 8.5 0 1 0 -16.0 0zM1321.3 1104.3a8.0 8.5 0 1 0 16.0 0a8.0 8.5 0 1 0 -16.0 0zM1321.9 1104.7a8.0 8.5 0 1 0 16.0 0a8.0 8.5 0 1 0 -16.0 0zM1322.5 1104.7a8.0 8.5 0 1 0 16.0 0a8.0 8.5 0 1 0 -16.0 0zM1323.1 1105.2a8.0 8.5 0 1 0 16.0 0a8.0 8.5 0 1 0 -16.0 0zM1323.7 1105.2a8.0 8.5 0 1 0 16.0 0a8.0 8.5 0 1 0 -16.0 0zM1324.3 1105.6a8.0 8.5 0 1 0 16.0 0a8.0 8.5 0 1 0 -16.0 0zM1324.9 1105.9a8.0 8.5 0 1 0 16.0 0a8.0 8.5 0 1 0 -16.0 0zM1325.5 1106.1a8.0 8.5 0 1 0 16.0 0a8.0 8.5 0 1 0 -16.0 0zM1326.1 1106.3a8.0 8.5 0 1 0 16.0 0a8.0 8.5 0 1 0 -16.0 0zM1326.7 1106.5a8.0 8.5 0 1 0 16.0 0a8.0 8.5 0 1 0 -16.0 0zM1327.3 1107.4a8.0 8.5 0 1 0 16.0 0a8.0 8.5 0 1 0 -16.0 0zM1327.9 1107a8.0 8.5 0 1 0 16.0 0a8.0 8.5 0 1 0 -16.0 0zM1328.5 1107a8.0 8.5 0 1 0 16.0 0a8.0 8.5 0 1 0 -16.0 0zM1329.1 1107.7a8.0 8.5 0 1 0 16.0 0a8.0 8.5 0 1 0 -16.0 0zM1329.7 1107.4a8.0 8.5 0 1 0 16.0 0a8.0 8.5 0 1 0 -16.0 0zM1330.3 1107.6a8.0 8.5 0 1 0 16.0 0a8.0 8.5 0 1 0 -16.0 0zM1330.9 1108.3a8.0 8.5 0 1 0 16.0 0a8.0 8.5 0 1 0 -16.0 0zM1331.5 1107.9a8.0 8.5 0 1 0 16.0 0a8.0 8.5 0 1 0 -16.0 0zM1332.1 1107.5a8.0 8.5 0 1 0 16.0 0a8.0 8.5 0 1 0 -16.0 0zM1332.7 1109.1a8.0 8.5 0 1 0 16.0 0a8.0 8.5 0 1 0 -16.0 0zM1333.3 1109.6a8.0 8.5 0 1 0 16.0 0a8.0 8.5 0 1 0 -16.0 0zM1333.9 1108.8a8.0 8.5 0 1 0 16.0 0a8.0 8.5 0 1 0 -16.0 0zM1334.5 1109.3a8.0 8.5 0 1 0 16.0 0a8.0 8.5 0 1 0 -16.0 0zM1335.1 1110.2a8.0 8.5 0 1 0 16.0 0a8.0 8.5 0 1 0 -16.0 0zM1335.7 1109.4a8.0 8.5 0 1 0 16.0 0a8.0 8.5 0 1 0 -16.0 0zM1336.3 1110a8.0 8.5 0 1 0 16.0 0a8.0 8.5 0 1 0 -16.0 0zM1336.9 1110.2a8.0 8.5 0 1 0 16.0 0a8.0 8.5 0 1 0 -16.0 0zM1337.5 1110.8a8.0 8.5 0 1 0 16.0 0a8.0 8.5 0 1 0 -16.0 0zM1338.1 1110.3a8.0 8.5 0 1 0 16.0 0a8.0 8.5 0 1 0 -16.0 0zM1338.7 1111.7a8.0 8.5 0 1 0 16.0 0a8.0 8.5 0 1 0 -16.0 0zM1339.3 1111.5a8.0 8.5 0 1 0 16.0 0a8.0 8.5 0 1 0 -16.0 0zM1339.9 1111.9a8.0 8.5 0 1 0 16.0 0a8.0 8.5 0 1 0 -16.0 0zM1340.5 1111.9a8.0 8.5 0 1 0 16.0 0a8.0 8.5 0 1 0 -16.0 0zM1341.1 1111.4a8.0 8.5 0 1 0 16.0 0a8.0 8.5 0 1 0 -16.0 0zM1341.7 1112.4a8.0 8.5 0 1 0 16.0 0a8.0 8.5 0 1 0 -16.0 0zM1342.3 1112.2a8.0 8.5 0 1 0 16.0 0a8.0 8.5 0 1 0 -16.0 0zM1342.9 1113a8.0 8.5 0 1 0 16.0 0a8.0 8.5 0 1 0 -16.0 0zM1343.5 1112.9a8.0 8.5 0 1 0 16.0 0a8.0 8.5 0 1 0 -16.0 0zM1344.1 1113.3a8.0 8.5 0 1 0 16.0 0a8.0 8.5 0 1 0 -16.0 0zM1344.7 1113.6a8.0 8.5 0 1 0 16.0 0a8.0 8.5 0 1 0 -16.0 0zM1345.3 1114.2a8.0 8.5 0 1 0 16.0 0a8.0 8.5 0 1 0 -16.0 0zM1345.9 1114.5a8.0 8.5 0 1 0 16.0 0a8.0 8.5 0 1 0 -16.0 0zM1346.5 1114a8.0 8.5 0 1 0 16.0 0a8.0 8.5 0 1 0 -16.0 0zM1347.1 1114.6a8.0 8.5 0 1 0 16.0 0a8.0 8.5 0 1 0 -16.0 0zM1347.7 1115.4a8.0 8.5 0 1 0 16.0 0a8.0 8.5 0 1 0 -16.0 0zM1348.3 1115.3a8.0 8.5 0 1 0 16.0 0a8.0 8.5 0 1 0 -16.0 0zM1348.9 1115a8.0 8.5 0 1 0 16.0 0a8.0 8.5 0 1 0 -16.0 0zM1349.5 1115.5a8.0 8.5 0 1 0 16.0 0a8.0 8.5 0 1 0 -16.0 0zM1350.1 1115.6a8.0 8.5 0 1 0 16.0 0a8.0 8.5 0 1 0 -16.0 0zM1350.7 1116.4a8.0 8.5 0 1 0 16.0 0a8.0 8.5 0 1 0 -16.0 0zM1351.3 1116.3a8.0 8.5 0 1 0 16.0 0a8.0 8.5 0 1 0 -16.0 0zM1351.9 1116.6a8.0 8.5 0 1 0 16.0 0a8.0 8.5 0 1 0 -16.0 0zM1352.5 1117.6a8.0 8.5 0 1 0 16.0 0a8.0 8.5 0 1 0 -16.0 0zM1353.1 1116.4a8.0 8.5 0 1 0 16.0 0a8.0 8.5 0 1 0 -16.0 0zM1353.7 1116.8a8.0 8.5 0 1 0 16.0 0a8.0 8.5 0 1 0 -16.0 0zM1354.3 1116.7a8.0 8.5 0 1 0 16.0 0a8.0 8.5 0 1 0 -16.0 0zM1354.9 1117a8.0 8.5 0 1 0 16.0 0a8.0 8.5 0 1 0 -16.0 0zM1355.5 1118.2a8.0 8.5 0 1 0 16.0 0a8.0 8.5 0 1 0 -16.0 0zM1356.1 1118.2a8.0 8.5 0 1 0 16.0 0a8.0 8.5 0 1 0 -16.0 0zM1356.7 1119a8.0 8.5 0 1 0 16.0 0a8.0 8.5 0 1 0 -16.0 0zM1357.3 1117.8a8.0 8.5 0 1 0 16.0 0a8.0 8.5 0 1 0 -16.0 0zM1357.9 1118.5a8.0 8.5 0 1 0 16.0 0a8.0 8.5 0 1 0 -16.0 0zM1358.5 1119.6a8.0 8.5 0 1 0 16.0 0a8.0 8.5 0 1 0 -16.0 0zM1359.1 1119.7a8.0 8.5 0 1 0 16.0 0a8.0 8.5 0 1 0 -16.0 0zM1359.7 1119.9a8.0 8.5 0 1 0 16.0 0a8.0 8.5 0 1 0 -16.0 0zM1360.3 1120.1a8.0 8.5 0 1 0 16.0 0a8.0 8.5 0 1 0 -16.0 0zM1360.9 1120a8.0 8.5 0 1 0 16.0 0a8.0 8.5 0 1 0 -16.0 0zM1361.5 1120.2a8.0 8.5 0 1 0 16.0 0a8.0 8.5 0 1 0 -16.0 0zM1362.1 1120.5a8.0 8.5 0 1 0 16.0 0a8.0 8.5 0 1 0 -16.0 0zM1362.7 1121a8.0 8.5 0 1 0 16.0 0a8.0 8.5 0 1 0 -16.0 0zM1363.3 1120.9a8.0 8.5 0 1 0 16.0 0a8.0 8.5 0 1 0 -16.0 0zM1363.9 1121.3a8.0 8.5 0 1 0 16.0 0a8.0 8.5 0 1 0 -16.0 0zM1364.5 1122a8.0 8.5 0 1 0 16.0 0a8.0 8.5 0 1 0 -16.0 0zM1365.1 1121.2a8.0 8.5 0 1 0 16.0 0a8.0 8.5 0 1 0 -16.0 0zM1365.7 1121.6a8.0 8.5 0 1 0 16.0 0a8.0 8.5 0 1 0 -16.0 0zM1366.3 1122.3a8.0 8.5 0 1 0 16.0 0a8.0 8.5 0 1 0 -16.0 0zM1366.9 1122.2a8.0 8.5 0 1 0 16.0 0a8.0 8.5 0 1 0 -16.0 0zM1367.5 1122.5a8.0 8.5 0 1 0 16.0 0a8.0 8.5 0 1 0 -16.0 0zM1368.1 1123.6a8.0 8.5 0 1 0 16.0 0a8.0 8.5 0 1 0 -16.0 0zM1368.7 1123.2a8.0 8.5 0 1 0 16.0 0a8.0 8.5 0 1 0 -16.0 0zM1369.3 1123.1a8.0 8.5 0 1 0 16.0 0a8.0 8.5 0 1 0 -16.0 0zM1369.9 1123.9a8.0 8.5 0 1 0 16.0 0a8.0 8.5 0 1 0 -16.0 0zM1370.5 1124.7a8.0 8.5 0 1 0 16.0 0a8.0 8.5 0 1 0 -16.0 0zM1371.1 1123.5a8.0 8.5 0 1 0 16.0 0a8.0 8.5 0 1 0 -16.0 0zM1371.7 1123.9a8.0 8.5 0 1 0 16.0 0a8.0 8.5 0 1 0 -16.0 0zM1372.3 1124.5a8.0 8.5 0 1 0 16.0 0a8.0 8.5 0 1 0 -16.0 0zM1372.9 1124.4a8.0 8.5 0 1 0 16.0 0a8.0 8.5 0 1 0 -16.0 0zM1373.5 1125.8a8.0 8.5 0 1 0 16.0 0a8.0 8.5 0 1 0 -16.0 0zM1374.1 1125.4a8.0 8.5 0 1 0 16.0 0a8.0 8.5 0 1 0 -16.0 0zM1374.7 1125.2a8.0 8.5 0 1 0 16.0 0a8.0 8.5 0 1 0 -16.0 0zM1375.3 1125.8a8.0 8.5 0 1 0 16.0 0a8.0 8.5 0 1 0 -16.0 0zM1375.9 1125.5a8.0 8.5 0 1 0 16.0 0a8.0 8.5 0 1 0 -16.0 0zM1376.5 1125.8a8.0 8.5 0 1 0 16.0 0a8.0 8.5 0 1 0 -16.0 0zM1377.1 1126.4a8.0 8.5 0 1 0 16.0 0a8.0 8.5 0 1 0 -16.0 0zM1377.7 1127.5a8.0 8.5 0 1 0 16.0 0a8.0 8.5 0 1 0 -16.0 0zM1378.3 1125.9a8.0 8.5 0 1 0 16.0 0a8.0 8.5 0 1 0 -16.0 0zM1378.9 1127.2a8.0 8.5 0 1 0 16.0 0a8.0 8.5 0 1 0 -16.0 0zM1379.5 1127.8a8.0 8.5 0 1 0 16.0 0a8.0 8.5 0 1 0 -16.0 0zM1380.1 1127.8a8.0 8.5 0 1 0 16.0 0a8.0 8.5 0 1 0 -16.0 0zM1380.7 1128.5a8.0 8.5 0 1 0 16.0 0a8.0 8.5 0 1 0 -16.0 0zM1381.3 1128.1a8.0 8.5 0 1 0 16.0 0a8.0 8.5 0 1 0 -16.0 0zM1381.9 1128.2a8.0 8.5 0 1 0 16.0 0a8.0 8.5 0 1 0 -16.0 0zM1382.5 1128.4a8.0 8.5 0 1 0 16.0 0a8.0 8.5 0 1 0 -16.0 0zM1383.1 1128.3a8.0 8.5 0 1 0 16.0 0a8.0 8.5 0 1 0 -16.0 0zM1383.7 1129.5a8.0 8.5 0 1 0 16.0 0a8.0 8.5 0 1 0 -16.0 0zM1384.3 1128.7a8.0 8.5 0 1 0 16.0 0a8.0 8.5 0 1 0 -16.0 0zM1384.9 1129.3a8.0 8.5 0 1 0 16.0 0a8.0 8.5 0 1 0 -16.0 0zM1385.5 1129.4a8.0 8.5 0 1 0 16.0 0a8.0 8.5 0 1 0 -16.0 0zM1386.1 1129.5a8.0 8.5 0 1 0 16.0 0a8.0 8.5 0 1 0 -16.0 0zM1386.7 1129.2a8.0 8.5 0 1 0 16.0 0a8.0 8.5 0 1 0 -16.0 0zM1387.3 1130.1a8.0 8.5 0 1 0 16.0 0a8.0 8.5 0 1 0 -16.0 0zM1387.9 1130.6a8.0 8.5 0 1 0 16.0 0a8.0 8.5 0 1 0 -16.0 0zM1388.5 1130.8a8.0 8.5 0 1 0 16.0 0a8.0 8.5 0 1 0 -16.0 0zM1389.1 1131.3a8.0 8.5 0 1 0 16.0 0a8.0 8.5 0 1 0 -16.0 0zM1389.7 1131.2a8.0 8.5 0 1 0 16.0 0a8.0 8.5 0 1 0 -16.0 0zM1390.3 1131.2a8.0 8.5 0 1 0 16.0 0a8.0 8.5 0 1 0 -16.0 0zM1390.9 1131.8a8.0 8.5 0 1 0 16.0 0a8.0 8.5 0 1 0 -16.0 0zM1391.5 1132.2a8.0 8.5 0 1 0 16.0 0a8.0 8.5 0 1 0 -16.0 0zM1392.1 1131.8a8.0 8.5 0 1 0 16.0 0a8.0 8.5 0 1 0 -16.0 0zM1392.7 1131.9a8.0 8.5 0 1 0 16.0 0a8.0 8.5 0 1 0 -16.0 0zM1393.3 1132.4a8.0 8.5 0 1 0 16.0 0a8.0 8.5 0 1 0 -16.0 0zM1393.9 1133.6a8.0 8.5 0 1 0 16.0 0a8.0 8.5 0 1 0 -16.0 0zM1394.5 1133.9a8.0 8.5 0 1 0 16.0 0a8.0 8.5 0 1 0 -16.0 0zM1395.1 1133.5a8.0 8.5 0 1 0 16.0 0a8.0 8.5 0 1 0 -16.0 0zM1395.7 1134.2a8.0 8.5 0 1 0 16.0 0a8.0 8.5 0 1 0 -16.0 0zM1396.3 1134.9a8.0 8.5 0 1 0 16.0 0a8.0 8.5 0 1 0 -16.0 0zM1396.9 1135.4a8.0 8.5 0 1 0 16.0 0a8.0 8.5 0 1 0 -16.0 0zM1397.5 1134.9a8.0 8.5 0 1 0 16.0 0a8.0 8.5 0 1 0 -16.0 0zM1398.1 1135.4a8.0 8.5 0 1 0 16.0 0a8.0 8.5 0 1 0 -16.0 0zM1398.7 1136.4a8.0 8.5 0 1 0 16.0 0a8.0 8.5 0 1 0 -16.0 0zM1399.3 1137.2a8.0 8.5 0 1 0 16.0 0a8.0 8.5 0 1 0 -16.0 0zM1399.9 1137.1a8.0 8.5 0 1 0 16.0 0a8.0 8.5 0 1 0 -16.0 0zM1400.5 1136.4a8.0 8.5 0 1 0 16.0 0a8.0 8.5 0 1 0 -16.0 0zM1401.1 1137.4a8.0 8.5 0 1 0 16.0 0a8.0 8.5 0 1 0 -16.0 0zM1401.7 1137.4a8.0 8.5 0 1 0 16.0 0a8.0 8.5 0 1 0 -16.0 0zM1402.3 1137.8a8.0 8.5 0 1 0 16.0 0a8.0 8.5 0 1 0 -16.0 0zM1402.9 1137.9a8.0 8.5 0 1 0 16.0 0a8.0 8.5 0 1 0 -16.0 0zM1403.5 1138.3a8.0 8.5 0 1 0 16.0 0a8.0 8.5 0 1 0 -16.0 0zM1404.1 1138.9a8.0 8.5 0 1 0 16.0 0a8.0 8.5 0 1 0 -16.0 0zM1404.7 1139.9a8.0 8.5 0 1 0 16.0 0a8.0 8.5 0 1 0 -16.0 0zM1405.3 1139.8a8.0 8.5 0 1 0 16.0 0a8.0 8.5 0 1 0 -16.0 0zM1405.9 1140a8.0 8.5 0 1 0 16.0 0a8.0 8.5 0 1 0 -16.0 0zM1406.5 1140.2a8.0 8.5 0 1 0 16.0 0a8.0 8.5 0 1 0 -16.0 0zM1407.1 1140.2a8.0 8.5 0 1 0 16.0 0a8.0 8.5 0 1 0 -16.0 0zM1407.7 1140.8a8.0 8.5 0 1 0 16.0 0a8.0 8.5 0 1 0 -16.0 0zM1408.3 1141.7a8.0 8.5 0 1 0 16.0 0a8.0 8.5 0 1 0 -16.0 0zM1408.9 1141.9a8.0 8.5 0 1 0 16.0 0a8.0 8.5 0 1 0 -16.0 0zM1409.5 1142.7a8.0 8.5 0 1 0 16.0 0a8.0 8.5 0 1 0 -16.0 0zM1410.1 1142.3a8.0 8.5 0 1 0 16.0 0a8.0 8.5 0 1 0 -16.0 0zM1410.7 1142.5a8.0 8.5 0 1 0 16.0 0a8.0 8.5 0 1 0 -16.0 0zM1411.3 1142.2a8.0 8.5 0 1 0 16.0 0a8.0 8.5 0 1 0 -16.0 0zM1411.9 1143.4a8.0 8.5 0 1 0 16.0 0a8.0 8.5 0 1 0 -16.0 0zM1412.5 1142.9a8.0 8.5 0 1 0 16.0 0a8.0 8.5 0 1 0 -16.0 0zM1413.1 1144.5a8.0 8.5 0 1 0 16.0 0a8.0 8.5 0 1 0 -16.0 0zM1413.7 1144a8.0 8.5 0 1 0 16.0 0a8.0 8.5 0 1 0 -16.0 0zM1414.3 1144.6a8.0 8.5 0 1 0 16.0 0a8.0 8.5 0 1 0 -16.0 0zM1414.9 1144.3a8.0 8.5 0 1 0 16.0 0a8.0 8.5 0 1 0 -16.0 0zM1415.5 1145a8.0 8.5 0 1 0 16.0 0a8.0 8.5 0 1 0 -16.0 0zM1416.1 1145.2a8.0 8.5 0 1 0 16.0 0a8.0 8.5 0 1 0 -16.0 0zM1416.7 1146.3a8.0 8.5 0 1 0 16.0 0a8.0 8.5 0 1 0 -16.0 0zM1417.3 1146.3a8.0 8.5 0 1 0 16.0 0a8.0 8.5 0 1 0 -16.0 0zM1417.9 1146.1a8.0 8.5 0 1 0 16.0 0a8.0 8.5 0 1 0 -16.0 0zM1418.5 1146.1a8.0 8.5 0 1 0 16.0 0a8.0 8.5 0 1 0 -16.0 0zM1419.1 1147.2a8.0 8.5 0 1 0 16.0 0a8.0 8.5 0 1 0 -16.0 0zM1419.7 1147.4a8.0 8.5 0 1 0 16.0 0a8.0 8.5 0 1 0 -16.0 0zM1420.3 1147.4a8.0 8.5 0 1 0 16.0 0a8.0 8.5 0 1 0 -16.0 0zM1420.9 1148.5a8.0 8.5 0 1 0 16.0 0a8.0 8.5 0 1 0 -16.0 0zM1421.5 1148.5a8.0 8.5 0 1 0 16.0 0a8.0 8.5 0 1 0 -16.0 0zM1422.1 1148.9a8.0 8.5 0 1 0 16.0 0a8.0 8.5 0 1 0 -16.0 0zM1422.7 1149a8.0 8.5 0 1 0 16.0 0a8.0 8.5 0 1 0 -16.0 0zM1423.3 1149.3a8.0 8.5 0 1 0 16.0 0a8.0 8.5 0 1 0 -16.0 0zM1423.9 1149.7a8.0 8.5 0 1 0 16.0 0a8.0 8.5 0 1 0 -16.0 0zM1424.5 1149.6a8.0 8.5 0 1 0 16.0 0a8.0 8.5 0 1 0 -16.0 0zM1425.1 1150.8a8.0 8.5 0 1 0 16.0 0a8.0 8.5 0 1 0 -16.0 0zM1425.7 1151.1a8.0 8.5 0 1 0 16.0 0a8.0 8.5 0 1 0 -16.0 0zM1426.3 1150.5a8.0 8.5 0 1 0 16.0 0a8.0 8.5 0 1 0 -16.0 0zM1426.9 1151.6a8.0 8.5 0 1 0 16.0 0a8.0 8.5 0 1 0 -16.0 0zM1427.5 1152.4a8.0 8.5 0 1 0 16.0 0a8.0 8.5 0 1 0 -16.0 0zM1428.1 1152.3a8.0 8.5 0 1 0 16.0 0a8.0 8.5 0 1 0 -16.0 0zM1428.7 1153.1a8.0 8.5 0 1 0 16.0 0a8.0 8.5 0 1 0 -16.0 0zM1429.3 1152.8a8.0 8.5 0 1 0 16.0 0a8.0 8.5 0 1 0 -16.0 0zM1429.9 1153.2a8.0 8.5 0 1 0 16.0 0a8.0 8.5 0 1 0 -16.0 0zM1430.5 1153.1a8.0 8.5 0 1 0 16.0 0a8.0 8.5 0 1 0 -16.0 0zM1431.1 1153.5a8.0 8.5 0 1 0 16.0 0a8.0 8.5 0 1 0 -16.0 0zM1431.7 1153.5a8.0 8.5 0 1 0 16.0 0a8.0 8.5 0 1 0 -16.0 0zM1432.3 1154.2a8.0 8.5 0 1 0 16.0 0a8.0 8.5 0 1 0 -16.0 0zM1432.9 1155a8.0 8.5 0 1 0 16.0 0a8.0 8.5 0 1 0 -16.0 0zM1433.5 1155.5a8.0 8.5 0 1 0 16.0 0a8.0 8.5 0 1 0 -16.0 0zM1434.1 1156a8.0 8.5 0 1 0 16.0 0a8.0 8.5 0 1 0 -16.0 0zM1434.7 1156a8.0 8.5 0 1 0 16.0 0a8.0 8.5 0 1 0 -16.0 0zM1435.3 1155.9a8.0 8.5 0 1 0 16.0 0a8.0 8.5 0 1 0 -16.0 0zM1435.9 1156.8a8.0 8.5 0 1 0 16.0 0a8.0 8.5 0 1 0 -16.0 0zM1436.5 1156.9a8.0 8.5 0 1 0 16.0 0a8.0 8.5 0 1 0 -16.0 0zM1437.1 1158a8.0 8.5 0 1 0 16.0 0a8.0 8.5 0 1 0 -16.0 0zM1437.7 1158.4a8.0 8.5 0 1 0 16.0 0a8.0 8.5 0 1 0 -16.0 0zM1438.3 1158.3a8.0 8.5 0 1 0 16.0 0a8.0 8.5 0 1 0 -16.0 0zM1438.9 1157.8a8.0 8.5 0 1 0 16.0 0a8.0 8.5 0 1 0 -16.0 0zM1439.5 1158.4a8.0 8.5 0 1 0 16.0 0a8.0 8.5 0 1 0 -16.0 0zM1440.1 1159a8.0 8.5 0 1 0 16.0 0a8.0 8.5 0 1 0 -16.0 0zM1440.7 1159a8.0 8.5 0 1 0 16.0 0a8.0 8.5 0 1 0 -16.0 0zM1441.3 1159.8a8.0 8.5 0 1 0 16.0 0a8.0 8.5 0 1 0 -16.0 0zM1441.9 1160.2a8.0 8.5 0 1 0 16.0 0a8.0 8.5 0 1 0 -16.0 0zM1442.5 1160.6a8.0 8.5 0 1 0 16.0 0a8.0 8.5 0 1 0 -16.0 0zM1443.1 1160.7a8.0 8.5 0 1 0 16.0 0a8.0 8.5 0 1 0 -16.0 0zM1443.7 1160.6a8.0 8.5 0 1 0 16.0 0a8.0 8.5 0 1 0 -16.0 0zM1444.3 1160.9a8.0 8.5 0 1 0 16.0 0a8.0 8.5 0 1 0 -16.0 0zM1444.9 1161.5a8.0 8.5 0 1 0 16.0 0a8.0 8.5 0 1 0 -16.0 0zM1445.5 1162.5a8.0 8.5 0 1 0 16.0 0a8.0 8.5 0 1 0 -16.0 0zM1446.1 1162.9a8.0 8.5 0 1 0 16.0 0a8.0 8.5 0 1 0 -16.0 0zM1446.7 1163a8.0 8.5 0 1 0 16.0 0a8.0 8.5 0 1 0 -16.0 0zM1447.3 1163.1a8.0 8.5 0 1 0 16.0 0a8.0 8.5 0 1 0 -16.0 0zM1447.9 1163.5a8.0 8.5 0 1 0 16.0 0a8.0 8.5 0 1 0 -16.0 0zM1448.5 1163.9a8.0 8.5 0 1 0 16.0 0a8.0 8.5 0 1 0 -16.0 0zM1449.1 1164.4a8.0 8.5 0 1 0 16.0 0a8.0 8.5 0 1 0 -16.0 0zM1449.7 1164.6a8.0 8.5 0 1 0 16.0 0a8.0 8.5 0 1 0 -16.0 0zM1450.3 1164a8.0 8.5 0 1 0 16.0 0a8.0 8.5 0 1 0 -16.0 0zM1450.9 1165.3a8.0 8.5 0 1 0 16.0 0a8.0 8.5 0 1 0 -16.0 0zM1451.5 1165.4a8.0 8.5 0 1 0 16.0 0a8.0 8.5 0 1 0 -16.0 0zM1452.1 1165.4a8.0 8.5 0 1 0 16.0 0a8.0 8.5 0 1 0 -16.0 0zM1452.7 1166a8.0 8.5 0 1 0 16.0 0a8.0 8.5 0 1 0 -16.0 0zM1453.3 1166a8.0 8.5 0 1 0 16.0 0a8.0 8.5 0 1 0 -16.0 0zM1453.9 1166.1a8.0 8.5 0 1 0 16.0 0a8.0 8.5 0 1 0 -16.0 0zM1454.5 1165.6a8.0 8.5 0 1 0 16.0 0a8.0 8.5 0 1 0 -16.0 0zM1455.1 1166.5a8.0 8.5 0 1 0 16.0 0a8.0 8.5 0 1 0 -16.0 0zM1455.7 1166.9a8.0 8.5 0 1 0 16.0 0a8.0 8.5 0 1 0 -16.0 0zM1456.3 1166.8a8.0 8.5 0 1 0 16.0 0a8.0 8.5 0 1 0 -16.0 0zM1456.9 1166.4a8.0 8.5 0 1 0 16.0 0a8.0 8.5 0 1 0 -16.0 0zM1457.5 1167.4a8.0 8.5 0 1 0 16.0 0a8.0 8.5 0 1 0 -16.0 0zM1458.1 1167.7a8.0 8.5 0 1 0 16.0 0a8.0 8.5 0 1 0 -16.0 0zM1458.7 1167.6a8.0 8.5 0 1 0 16.0 0a8.0 8.5 0 1 0 -16.0 0zM1459.3 1167.9a8.0 8.5 0 1 0 16.0 0a8.0 8.5 0 1 0 -16.0 0zM1459.9 1167.8a8.0 8.5 0 1 0 16.0 0a8.0 8.5 0 1 0 -16.0 0zM1460.5 1167.8a8.0 8.5 0 1 0 16.0 0a8.0 8.5 0 1 0 -16.0 0zM1461.1 1168.5a8.0 8.5 0 1 0 16.0 0a8.0 8.5 0 1 0 -16.0 0zM1461.7 1168.3a8.0 8.5 0 1 0 16.0 0a8.0 8.5 0 1 0 -16.0 0zM1462.3 1168.7a8.0 8.5 0 1 0 16.0 0a8.0 8.5 0 1 0 -16.0 0zM1462.9 1170.1a8.0 8.5 0 1 0 16.0 0a8.0 8.5 0 1 0 -16.0 0zM1463.5 1169.3a8.0 8.5 0 1 0 16.0 0a8.0 8.5 0 1 0 -16.0 0zM1464.1 1169.2a8.0 8.5 0 1 0 16.0 0a8.0 8.5 0 1 0 -16.0 0zM1464.7 1168.7a8.0 8.5 0 1 0 16.0 0a8.0 8.5 0 1 0 -16.0 0zM1465.3 1169.6a8.0 8.5 0 1 0 16.0 0a8.0 8.5 0 1 0 -16.0 0zM1465.9 1170a8.0 8.5 0 1 0 16.0 0a8.0 8.5 0 1 0 -16.0 0zM1466.5 1169.6a8.0 8.5 0 1 0 16.0 0a8.0 8.5 0 1 0 -16.0 0zM1467.1 1170a8.0 8.5 0 1 0 16.0 0a8.0 8.5 0 1 0 -16.0 0zM1467.7 1169.4a8.0 8.5 0 1 0 16.0 0a8.0 8.5 0 1 0 -16.0 0zM1468.3 1170.7a8.0 8.5 0 1 0 16.0 0a8.0 8.5 0 1 0 -16.0 0zM1468.9 1170.4a8.0 8.5 0 1 0 16.0 0a8.0 8.5 0 1 0 -16.0 0zM1469.5 1171.1a8.0 8.5 0 1 0 16.0 0a8.0 8.5 0 1 0 -16.0 0zM1470.1 1171.6a8.0 8.5 0 1 0 16.0 0a8.0 8.5 0 1 0 -16.0 0zM1470.7 1171.1a8.0 8.5 0 1 0 16.0 0a8.0 8.5 0 1 0 -16.0 0zM1471.3 1171.8a8.0 8.5 0 1 0 16.0 0a8.0 8.5 0 1 0 -16.0 0zM1471.9 1171.7a8.0 8.5 0 1 0 16.0 0a8.0 8.5 0 1 0 -16.0 0zM1472.5 1171.7a8.0 8.5 0 1 0 16.0 0a8.0 8.5 0 1 0 -16.0 0zM1473.1 1171.8a8.0 8.5 0 1 0 16.0 0a8.0 8.5 0 1 0 -16.0 0zM1473.7 1171.8a8.0 8.5 0 1 0 16.0 0a8.0 8.5 0 1 0 -16.0 0zM1474.3 1172.8a8.0 8.5 0 1 0 16.0 0a8.0 8.5 0 1 0 -16.0 0zM1474.9 1172.8a8.0 8.5 0 1 0 16.0 0a8.0 8.5 0 1 0 -16.0 0zM1475.5 1172.2a8.0 8.5 0 1 0 16.0 0a8.0 8.5 0 1 0 -16.0 0zM1476.1 1173.2a8.0 8.5 0 1 0 16.0 0a8.0 8.5 0 1 0 -16.0 0zM1476.7 1172.7a8.0 8.5 0 1 0 16.0 0a8.0 8.5 0 1 0 -16.0 0zM1477.3 1172.6a8.0 8.5 0 1 0 16.0 0a8.0 8.5 0 1 0 -16.0 0zM1477.9 1173.8a8.0 8.5 0 1 0 16.0 0a8.0 8.5 0 1 0 -16.0 0zM1478.5 1173a8.0 8.5 0 1 0 16.0 0a8.0 8.5 0 1 0 -16.0 0zM1479.1 1174.2a8.0 8.5 0 1 0 16.0 0a8.0 8.5 0 1 0 -16.0 0zM1479.7 1174a8.0 8.5 0 1 0 16.0 0a8.0 8.5 0 1 0 -16.0 0zM1480.3 1174.5a8.0 8.5 0 1 0 16.0 0a8.0 8.5 0 1 0 -16.0 0zM1480.9 1174.5a8.0 8.5 0 1 0 16.0 0a8.0 8.5 0 1 0 -16.0 0zM1481.5 1174.9a8.0 8.5 0 1 0 16.0 0a8.0 8.5 0 1 0 -16.0 0zM1482.1 1174.8a8.0 8.5 0 1 0 16.0 0a8.0 8.5 0 1 0 -16.0 0zM1482.7 1175.1a8.0 8.5 0 1 0 16.0 0a8.0 8.5 0 1 0 -16.0 0zM1483.3 1175.1a8.0 8.5 0 1 0 16.0 0a8.0 8.5 0 1 0 -16.0 0zM1483.9 1175.7a8.0 8.5 0 1 0 16.0 0a8.0 8.5 0 1 0 -16.0 0zM1484.5 1175.3a8.0 8.5 0 1 0 16.0 0a8.0 8.5 0 1 0 -16.0 0zM1485.1 1176.1a8.0 8.5 0 1 0 16.0 0a8.0 8.5 0 1 0 -16.0 0zM1485.7 1176.5a8.0 8.5 0 1 0 16.0 0a8.0 8.5 0 1 0 -16.0 0zM1486.3 1176.1a8.0 8.5 0 1 0 16.0 0a8.0 8.5 0 1 0 -16.0 0zM1486.9 1176.5a8.0 8.5 0 1 0 16.0 0a8.0 8.5 0 1 0 -16.0 0zM1487.5 1176.4a8.0 8.5 0 1 0 16.0 0a8.0 8.5 0 1 0 -16.0 0zM1488.1 1176.7a8.0 8.5 0 1 0 16.0 0a8.0 8.5 0 1 0 -16.0 0zM1488.7 1177.1a8.0 8.5 0 1 0 16.0 0a8.0 8.5 0 1 0 -16.0 0z" fill="none" stroke="#000" stroke-width="2.3" shape-rendering="crispEdges"/><line x1="405" y1="293" x2="1046.6" y2="1237.5" stroke="#000" stroke-width="3.1" shape-rendering="crispEdges"/><line x1="879" y1="1139.5" x2="1495" y2="1365.5" stroke="#000" stroke-width="3.1" shape-rendering="crispEdges"/><line x1="405" y1="143.1" x2="1046.6" y2="1089.5" stroke="#0f0" stroke-width="3.1" shape-rendering="crispEdges"/><line x1="879" y1="939" x2="1495" y2="1165" stroke="#0f0" stroke-width="3.1" shape-rendering="crispEdges"/></g>
<g fill="#000" shape-rendering="crispEdges"><polygon points="967.6,986 990.9,1033.5 944.3000000000001,1033.5"/><rect x="964.1" y="1033.0" width="7" height="30.90000000000009"/><polygon points="1013,1214.1 1036.3,1261.5 989.7,1261.5"/><rect x="1009.5" y="1261.0" width="7" height="30.90000000000009"/></g>
<text transform="translate(0 176.6) scale(0.9335 1)" x="138.26 178.36 221.58 264.79 308 351.22" y="0" font-size="77.7">100000</text>
<text transform="translate(0 308.4) scale(0.9335 1)" x="181.47 221.58 264.79 308 351.22" y="0" font-size="77.7">10000</text>
<text transform="translate(0 440.2) scale(0.9335 1)" x="224.68 264.79 308 351.22" y="0" font-size="77.7">1000</text>
<text transform="translate(0 572) scale(0.9335 1)" x="267.9 308 351.22" y="0" font-size="77.7">100</text>
<text transform="translate(0 703.8) scale(0.9335 1)" x="311.11 351.22" y="0" font-size="77.7">10</text>
<text transform="translate(0 835.6) scale(0.9335 1)" x="354.32" y="0" font-size="77.7">1</text>
<text transform="translate(0 967.4) scale(0.9335 1)" x="286.42 329.63 354.32" y="0" font-size="77.7">0.1</text>
<text transform="translate(0 1099.2) scale(0.9335 1)" x="243.2 286.42 308 354.32" y="0" font-size="77.7">0.01</text>
<text transform="translate(0 1231) scale(0.9335 1)" x="199.99 243.2 264.79 308 354.32" y="0" font-size="77.7">0.001</text>
<text transform="translate(0 1493.1) scale(0.9335 1)" x="433.05 476.26 497.85 544.17" y="0" font-size="77.7">0.01</text>
<text transform="translate(0 1493.1) scale(0.9335 1)" x="838.08 881.3 905.99" y="0" font-size="77.7">0.1</text>
<text transform="translate(0 1493.1) scale(0.9335 1)" x="1257.31" y="0" font-size="77.7">1</text>
<text transform="translate(0 1392.2) scale(0.77 1)" x="246.96 296.51" y="0" font-size="76.3" fill="#000" stroke="#000" stroke-width="0.8">1E<tspan x="351.08 374.04" y="-59.2" font-size="49.3" stroke-width="0.4">-4</tspan></text>
<text transform="translate(125.1 0) rotate(-90) scale(0.97 1)" x="-1035.88 -996.8 -935.48 -902.2 -846.75 -791.04 -738.84 -711.46 -678.68 -630.43 -609.09 -574.91 -516.65 -484.24 -425.57 -393.56" y="0" font-size="96.5" fill="#000" stroke="#000" stroke-width="1.0">Intensity (a.u.)</text>
<text transform="translate(0 1614.2) scale(1 1)" x="875.71 930.77 952.44 989.9 1048.09" y="0" font-size="99" fill="#000" stroke="#000" stroke-width="1.0">q (nm<tspan x="1130.86 1153.64" y="-36.3" font-size="64.8" stroke-width="0.4">-1</tspan><tspan x="1190.5" y="0" font-size="99">)</tspan></text>
<text transform="translate(0 525.8) scale(1 1)" x="763.56" y="0" font-size="99" fill="#000" stroke="#000" stroke-width="1.0">q<tspan x="820.19 841.77" y="-36.9" font-size="62.5" stroke-width="0.4">-4</tspan></text>
<text transform="translate(0 916) scale(1 1)" x="1226.56" y="0" font-size="99" fill="#000" stroke="#000" stroke-width="1.0">q<tspan x="1281.64 1304.48" y="-36.1" font-size="65.2" stroke-width="0.4">-1</tspan></text>
<text transform="translate(0 266.5) scale(1.09 1)" x="1044.82" y="0" font-size="96.5" fill="#000" stroke="#000" stroke-width="0.3">o</text>
<text transform="translate(0 266) scale(0.85 1)" x="1436.25 1509.8 1549.07" y="0" font-size="100.5" fill="#000" stroke="#000" stroke-width="1.0">A-B</text>
<text transform="translate(0 401) scale(0.9 1)" x="1269.73" y="0" font-size="100.5" fill="#f00" stroke="#f00" stroke-width="3.0">◊</text>
<text transform="translate(0 401) scale(0.85 1)" x="1432.57 1502.5 1541.63 1623.37 1694.48" y="0" font-size="100.5" fill="#f00" stroke="#f00" stroke-width="1.0">R-HAP</text>
</svg>
</body></html>
